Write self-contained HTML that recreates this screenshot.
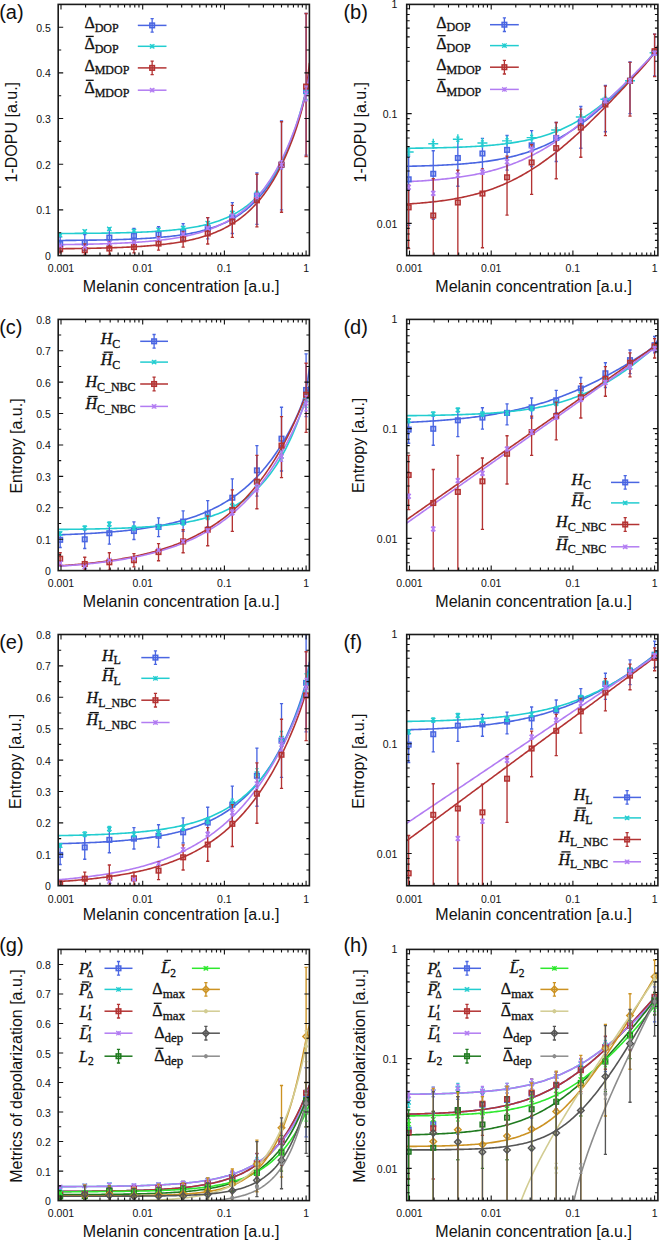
<!DOCTYPE html>
<html><head><meta charset="utf-8"><style>
html,body{margin:0;padding:0;background:#fff;}
svg{display:block;}
.tl{font-family:"Liberation Sans",sans-serif;font-size:10.5px;fill:#111;}
.at{font-family:"Liberation Sans",sans-serif;font-size:16px;fill:#111;}
.pl{font-family:"Liberation Sans",sans-serif;font-size:20px;fill:#111;}

.lg{font-family:"Liberation Serif",serif;font-size:16px;fill:#111;stroke:#111;stroke-width:0.35px;}
.sb{font-family:"Liberation Serif",serif;font-size:12px;fill:#111;stroke:#111;stroke-width:0.3px;}
.sr{font-family:"Liberation Serif",serif;font-size:12px;fill:#111;stroke:#111;stroke-width:0.3px;}
.it{font-style:italic;}
</style></head><body>
<svg width="661" height="1240" viewBox="0 0 661 1240">
<rect width="661" height="1240" fill="#fff"/>
<clipPath id="clipL0"><rect x="58.20" y="4.40" width="251.20" height="251.20"/></clipPath>
<text x="61.00" y="272.40" class="tl" text-anchor="middle">0.001</text>
<text x="142.70" y="272.40" class="tl" text-anchor="middle">0.01</text>
<text x="224.40" y="272.40" class="tl" text-anchor="middle">0.1</text>
<text x="306.10" y="272.40" class="tl" text-anchor="middle">1</text>
<text x="50.80" y="260.10" class="tl" text-anchor="end">0</text>
<text x="50.80" y="214.42" class="tl" text-anchor="end">0.1</text>
<text x="50.80" y="168.74" class="tl" text-anchor="end">0.2</text>
<text x="50.80" y="123.06" class="tl" text-anchor="end">0.3</text>
<text x="50.80" y="77.38" class="tl" text-anchor="end">0.4</text>
<text x="50.80" y="31.70" class="tl" text-anchor="end">0.5</text>
<text x="181.10" y="291.80" class="at" text-anchor="middle">Melanin concentration [a.u.]</text>
<text transform="translate(16.80,132.20) rotate(-90)" class="at ay" text-anchor="middle">1-DOPU [a.u.]</text>
<text x="-0.80" y="18.50" class="pl">(a)</text>
<g clip-path="url(#clipL0)">
<path d="M58.20 240.47 L59.77 240.46 L61.34 240.45 L62.91 240.44 L64.48 240.43 L66.05 240.42 L67.62 240.40 L69.19 240.39 L70.76 240.38 L72.33 240.37 L73.90 240.35 L75.47 240.34 L77.04 240.32 L78.61 240.30 L80.18 240.29 L81.75 240.27 L83.32 240.25 L84.89 240.23 L86.46 240.21 L88.03 240.19 L89.60 240.17 L91.17 240.15 L92.74 240.13 L94.31 240.10 L95.88 240.08 L97.45 240.05 L99.02 240.02 L100.59 239.99 L102.16 239.97 L103.73 239.93 L105.30 239.90 L106.87 239.87 L108.44 239.83 L110.01 239.80 L111.58 239.76 L113.15 239.72 L114.72 239.68 L116.29 239.64 L117.86 239.59 L119.43 239.55 L121.00 239.50 L122.57 239.45 L124.14 239.39 L125.71 239.34 L127.28 239.28 L128.85 239.22 L130.42 239.16 L131.99 239.10 L133.56 239.03 L135.13 238.96 L136.70 238.89 L138.27 238.81 L139.84 238.73 L141.41 238.65 L142.98 238.57 L144.55 238.48 L146.12 238.39 L147.69 238.29 L149.26 238.19 L150.83 238.08 L152.40 237.97 L153.97 237.86 L155.54 237.74 L157.11 237.62 L158.68 237.49 L160.25 237.36 L161.82 237.22 L163.39 237.07 L164.96 236.92 L166.53 236.76 L168.10 236.60 L169.67 236.43 L171.24 236.25 L172.81 236.07 L174.38 235.87 L175.95 235.67 L177.52 235.46 L179.09 235.25 L180.66 235.02 L182.23 234.78 L183.80 234.54 L185.37 234.28 L186.94 234.01 L188.51 233.74 L190.08 233.45 L191.65 233.14 L193.22 232.83 L194.79 232.50 L196.36 232.16 L197.93 231.81 L199.50 231.44 L201.07 231.05 L202.64 230.65 L204.21 230.23 L205.78 229.80 L207.35 229.34 L208.92 228.87 L210.49 228.38 L212.06 227.87 L213.63 227.33 L215.20 226.78 L216.77 226.20 L218.34 225.60 L219.91 224.97 L221.48 224.31 L223.05 223.63 L224.62 222.92 L226.19 222.18 L227.76 221.41 L229.33 220.61 L230.90 219.78 L232.47 218.91 L234.04 218.00 L235.61 217.06 L237.18 216.08 L238.75 215.05 L240.32 213.99 L241.89 212.88 L243.46 211.72 L245.03 210.52 L246.60 209.26 L248.17 207.96 L249.74 206.59 L251.31 205.18 L252.88 203.70 L254.45 202.16 L256.02 200.56 L257.59 198.89 L259.16 197.16 L260.73 195.35 L262.30 193.46 L263.87 191.50 L265.44 189.46 L267.01 187.33 L268.58 185.11 L270.15 182.80 L271.72 180.39 L273.29 177.89 L274.86 175.28 L276.43 172.56 L278.00 169.72 L279.57 166.78 L281.14 163.70 L282.71 160.50 L284.28 157.17 L285.85 153.70 L287.42 150.08 L288.99 146.31 L290.56 142.39 L292.13 138.30 L293.70 134.03 L295.27 129.57 L296.84 124.92 L298.41 120.04 L299.98 114.91 L301.55 109.50 L303.12 103.72 L304.69 97.48 L306.26 90.60 L307.83 82.77 L309.40 73.51" stroke="#4a66e2" stroke-width="1.6" fill="none"/>
<path d="M58.20 233.52 L59.77 233.51 L61.34 233.50 L62.91 233.50 L64.48 233.49 L66.05 233.48 L67.62 233.47 L69.19 233.46 L70.76 233.45 L72.33 233.44 L73.90 233.43 L75.47 233.42 L77.04 233.41 L78.61 233.40 L80.18 233.39 L81.75 233.38 L83.32 233.36 L84.89 233.35 L86.46 233.34 L88.03 233.32 L89.60 233.31 L91.17 233.29 L92.74 233.27 L94.31 233.25 L95.88 233.24 L97.45 233.22 L99.02 233.20 L100.59 233.18 L102.16 233.15 L103.73 233.13 L105.30 233.11 L106.87 233.08 L108.44 233.06 L110.01 233.03 L111.58 233.00 L113.15 232.97 L114.72 232.94 L116.29 232.91 L117.86 232.87 L119.43 232.84 L121.00 232.80 L122.57 232.76 L124.14 232.72 L125.71 232.68 L127.28 232.64 L128.85 232.59 L130.42 232.54 L131.99 232.49 L133.56 232.44 L135.13 232.39 L136.70 232.33 L138.27 232.27 L139.84 232.21 L141.41 232.14 L142.98 232.07 L144.55 232.00 L146.12 231.93 L147.69 231.85 L149.26 231.77 L150.83 231.69 L152.40 231.60 L153.97 231.51 L155.54 231.41 L157.11 231.32 L158.68 231.21 L160.25 231.10 L161.82 230.99 L163.39 230.87 L164.96 230.75 L166.53 230.62 L168.10 230.48 L169.67 230.34 L171.24 230.19 L172.81 230.04 L174.38 229.88 L175.95 229.71 L177.52 229.54 L179.09 229.36 L180.66 229.17 L182.23 228.97 L183.80 228.76 L185.37 228.54 L186.94 228.32 L188.51 228.08 L190.08 227.83 L191.65 227.57 L193.22 227.31 L194.79 227.02 L196.36 226.73 L197.93 226.42 L199.50 226.10 L201.07 225.77 L202.64 225.42 L204.21 225.06 L205.78 224.68 L207.35 224.28 L208.92 223.87 L210.49 223.43 L212.06 222.98 L213.63 222.51 L215.20 222.02 L216.77 221.50 L218.34 220.97 L219.91 220.40 L221.48 219.82 L223.05 219.21 L224.62 218.57 L226.19 217.90 L227.76 217.21 L229.33 216.48 L230.90 215.72 L232.47 214.93 L234.04 214.10 L235.61 213.24 L237.18 212.34 L238.75 211.39 L240.32 210.41 L241.89 209.38 L243.46 208.31 L245.03 207.19 L246.60 206.02 L248.17 204.80 L249.74 203.53 L251.31 202.20 L252.88 200.81 L254.45 199.36 L256.02 197.85 L257.59 196.26 L259.16 194.61 L260.73 192.89 L262.30 191.09 L263.87 189.21 L265.44 187.25 L267.01 185.20 L268.58 183.06 L270.15 180.83 L271.72 178.49 L273.29 176.06 L274.86 173.52 L276.43 170.86 L278.00 168.09 L279.57 165.19 L281.14 162.17 L282.71 159.02 L284.28 155.72 L285.85 152.28 L287.42 148.69 L288.99 144.93 L290.56 141.01 L292.13 136.91 L293.70 132.63 L295.27 128.15 L296.84 123.45 L298.41 118.52 L299.98 113.33 L301.55 107.83 L303.12 101.96 L304.69 95.60 L306.26 88.57 L307.83 80.58 L309.40 71.14" stroke="#22cdd0" stroke-width="1.6" fill="none"/>
<path d="M58.20 248.75 L59.77 248.74 L61.34 248.72 L62.91 248.71 L64.48 248.69 L66.05 248.67 L67.62 248.66 L69.19 248.64 L70.76 248.62 L72.33 248.60 L73.90 248.58 L75.47 248.56 L77.04 248.54 L78.61 248.52 L80.18 248.49 L81.75 248.47 L83.32 248.44 L84.89 248.42 L86.46 248.39 L88.03 248.36 L89.60 248.33 L91.17 248.30 L92.74 248.27 L94.31 248.24 L95.88 248.20 L97.45 248.17 L99.02 248.13 L100.59 248.09 L102.16 248.05 L103.73 248.01 L105.30 247.97 L106.87 247.92 L108.44 247.88 L110.01 247.83 L111.58 247.78 L113.15 247.73 L114.72 247.67 L116.29 247.62 L117.86 247.56 L119.43 247.50 L121.00 247.43 L122.57 247.37 L124.14 247.30 L125.71 247.23 L127.28 247.16 L128.85 247.08 L130.42 247.00 L131.99 246.92 L133.56 246.83 L135.13 246.74 L136.70 246.65 L138.27 246.56 L139.84 246.46 L141.41 246.35 L142.98 246.24 L144.55 246.13 L146.12 246.02 L147.69 245.90 L149.26 245.77 L150.83 245.64 L152.40 245.50 L153.97 245.36 L155.54 245.22 L157.11 245.06 L158.68 244.91 L160.25 244.74 L161.82 244.57 L163.39 244.39 L164.96 244.21 L166.53 244.02 L168.10 243.82 L169.67 243.61 L171.24 243.40 L172.81 243.18 L174.38 242.94 L175.95 242.70 L177.52 242.45 L179.09 242.19 L180.66 241.92 L182.23 241.64 L183.80 241.35 L185.37 241.05 L186.94 240.74 L188.51 240.41 L190.08 240.07 L191.65 239.72 L193.22 239.35 L194.79 238.97 L196.36 238.57 L197.93 238.16 L199.50 237.73 L201.07 237.29 L202.64 236.83 L204.21 236.35 L205.78 235.85 L207.35 235.33 L208.92 234.80 L210.49 234.24 L212.06 233.66 L213.63 233.05 L215.20 232.43 L216.77 231.78 L218.34 231.10 L219.91 230.40 L221.48 229.67 L223.05 228.91 L224.62 228.12 L226.19 227.30 L227.76 226.45 L229.33 225.56 L230.90 224.65 L232.47 223.69 L234.04 222.70 L235.61 221.67 L237.18 220.60 L238.75 219.49 L240.32 218.33 L241.89 217.13 L243.46 215.88 L245.03 214.58 L246.60 213.24 L248.17 211.84 L249.74 210.38 L251.31 208.87 L252.88 207.30 L254.45 205.67 L256.02 203.97 L257.59 202.21 L259.16 200.38 L260.73 198.48 L262.30 196.51 L263.87 194.45 L265.44 192.32 L267.01 190.11 L268.58 187.80 L270.15 185.41 L271.72 182.93 L273.29 180.34 L274.86 177.66 L276.43 174.87 L278.00 171.98 L279.57 168.97 L281.14 165.84 L282.71 162.59 L284.28 159.21 L285.85 155.70 L287.42 152.05 L288.99 148.26 L290.56 144.31 L292.13 140.20 L293.70 135.91 L295.27 131.42 L296.84 126.72 L298.41 121.75 L299.98 116.45 L301.55 110.72 L303.12 104.37 L304.69 97.12 L306.26 88.45 L307.83 77.52 L309.40 62.91" stroke="#b33333" stroke-width="1.6" fill="none"/>
<path d="M58.20 244.65 L59.77 244.63 L61.34 244.61 L62.91 244.59 L64.48 244.58 L66.05 244.56 L67.62 244.54 L69.19 244.51 L70.76 244.49 L72.33 244.47 L73.90 244.45 L75.47 244.42 L77.04 244.40 L78.61 244.37 L80.18 244.34 L81.75 244.32 L83.32 244.29 L84.89 244.26 L86.46 244.23 L88.03 244.19 L89.60 244.16 L91.17 244.12 L92.74 244.09 L94.31 244.05 L95.88 244.01 L97.45 243.97 L99.02 243.93 L100.59 243.88 L102.16 243.84 L103.73 243.79 L105.30 243.74 L106.87 243.69 L108.44 243.64 L110.01 243.58 L111.58 243.53 L113.15 243.47 L114.72 243.41 L116.29 243.34 L117.86 243.28 L119.43 243.21 L121.00 243.14 L122.57 243.06 L124.14 242.99 L125.71 242.91 L127.28 242.83 L128.85 242.74 L130.42 242.65 L131.99 242.56 L133.56 242.47 L135.13 242.37 L136.70 242.26 L138.27 242.16 L139.84 242.05 L141.41 241.93 L142.98 241.81 L144.55 241.69 L146.12 241.56 L147.69 241.43 L149.26 241.29 L150.83 241.15 L152.40 241.00 L153.97 240.85 L155.54 240.69 L157.11 240.52 L158.68 240.35 L160.25 240.17 L161.82 239.99 L163.39 239.80 L164.96 239.60 L166.53 239.39 L168.10 239.18 L169.67 238.95 L171.24 238.72 L172.81 238.48 L174.38 238.23 L175.95 237.98 L177.52 237.71 L179.09 237.43 L180.66 237.14 L182.23 236.84 L183.80 236.53 L185.37 236.21 L186.94 235.88 L188.51 235.53 L190.08 235.17 L191.65 234.80 L193.22 234.41 L194.79 234.01 L196.36 233.60 L197.93 233.16 L199.50 232.71 L201.07 232.25 L202.64 231.77 L204.21 231.27 L205.78 230.75 L207.35 230.21 L208.92 229.65 L210.49 229.07 L212.06 228.46 L213.63 227.84 L215.20 227.19 L216.77 226.52 L218.34 225.82 L219.91 225.09 L221.48 224.34 L223.05 223.56 L224.62 222.75 L226.19 221.91 L227.76 221.04 L229.33 220.14 L230.90 219.20 L232.47 218.23 L234.04 217.22 L235.61 216.17 L237.18 215.08 L238.75 213.95 L240.32 212.78 L241.89 211.57 L243.46 210.31 L245.03 209.00 L246.60 207.64 L248.17 206.23 L249.74 204.77 L251.31 203.26 L252.88 201.68 L254.45 200.05 L256.02 198.36 L257.59 196.60 L259.16 194.78 L260.73 192.89 L262.30 190.92 L263.87 188.89 L265.44 186.78 L267.01 184.58 L268.58 182.31 L270.15 179.95 L271.72 177.50 L273.29 174.96 L274.86 172.32 L276.43 169.59 L278.00 166.75 L279.57 163.80 L281.14 160.75 L282.71 157.57 L284.28 154.28 L285.85 150.87 L287.42 147.33 L288.99 143.65 L290.56 139.83 L292.13 135.86 L293.70 131.75 L295.27 127.46 L296.84 123.00 L298.41 118.34 L299.98 113.47 L301.55 108.33 L303.12 102.86 L304.69 96.96 L306.26 90.45 L307.83 83.04 L309.40 74.23" stroke="#b27cf2" stroke-width="1.6" fill="none"/>
<path d="M60.16 251.21V236.87M58.56 251.21h3.20M58.56 236.87h3.20" stroke="#4a66e2" stroke-width="1.35"/>
<path d="M84.75 250.62V234.63M83.15 250.62h3.20M83.15 234.63h3.20" stroke="#4a66e2" stroke-width="1.35"/>
<path d="M109.35 245.64V229.11M107.75 245.64h3.20M107.75 229.11h3.20" stroke="#4a66e2" stroke-width="1.35"/>
<path d="M133.94 242.81V228.42M132.34 242.81h3.20M132.34 228.42h3.20" stroke="#4a66e2" stroke-width="1.35"/>
<path d="M158.54 241.62V226.73M156.94 241.62h3.20M156.94 226.73h3.20" stroke="#4a66e2" stroke-width="1.35"/>
<path d="M183.13 240.53V223.62M181.53 240.53h3.20M181.53 223.62h3.20" stroke="#4a66e2" stroke-width="1.35"/>
<path d="M207.72 238.88V217.69M206.12 238.88h3.20M206.12 217.69h3.20" stroke="#4a66e2" stroke-width="1.35"/>
<path d="M232.32 233.49V202.61M230.72 233.49h3.20M230.72 202.61h3.20" stroke="#4a66e2" stroke-width="1.35"/>
<path d="M256.91 224.40V172.92M255.31 224.40h3.20M255.31 172.92h3.20" stroke="#4a66e2" stroke-width="1.35"/>
<path d="M281.51 209.92V120.84M279.91 209.92h3.20M279.91 120.84h3.20" stroke="#4a66e2" stroke-width="1.35"/>
<path d="M306.10 155.10V13.50M304.50 155.10h3.20M304.50 13.50h3.20" stroke="#4a66e2" stroke-width="1.35"/>
<rect x="57.86" y="241.79" width="4.60" height="4.60" fill="#4a66e2" fill-opacity="0.3" stroke="#4a66e2" stroke-width="1.5"/>
<rect x="82.45" y="240.37" width="4.60" height="4.60" fill="#4a66e2" fill-opacity="0.3" stroke="#4a66e2" stroke-width="1.5"/>
<rect x="107.05" y="235.30" width="4.60" height="4.60" fill="#4a66e2" fill-opacity="0.3" stroke="#4a66e2" stroke-width="1.5"/>
<rect x="131.64" y="233.52" width="4.60" height="4.60" fill="#4a66e2" fill-opacity="0.3" stroke="#4a66e2" stroke-width="1.5"/>
<rect x="156.24" y="231.97" width="4.60" height="4.60" fill="#4a66e2" fill-opacity="0.3" stroke="#4a66e2" stroke-width="1.5"/>
<rect x="180.83" y="229.82" width="4.60" height="4.60" fill="#4a66e2" fill-opacity="0.3" stroke="#4a66e2" stroke-width="1.5"/>
<rect x="205.42" y="225.89" width="4.60" height="4.60" fill="#4a66e2" fill-opacity="0.3" stroke="#4a66e2" stroke-width="1.5"/>
<rect x="230.02" y="215.07" width="4.60" height="4.60" fill="#4a66e2" fill-opacity="0.3" stroke="#4a66e2" stroke-width="1.5"/>
<rect x="254.61" y="193.46" width="4.60" height="4.60" fill="#4a66e2" fill-opacity="0.3" stroke="#4a66e2" stroke-width="1.5"/>
<rect x="279.21" y="162.40" width="4.60" height="4.60" fill="#4a66e2" fill-opacity="0.3" stroke="#4a66e2" stroke-width="1.5"/>
<rect x="303.80" y="88.85" width="4.60" height="4.60" fill="#4a66e2" fill-opacity="0.3" stroke="#4a66e2" stroke-width="1.5"/>
<path d="M60.16 236.10V234.26M58.56 236.10h3.20M58.56 234.26h3.20" stroke="#22cdd0" stroke-width="1.35"/>
<path d="M84.75 232.39V230.20M83.15 232.39h3.20M83.15 230.20h3.20" stroke="#22cdd0" stroke-width="1.35"/>
<path d="M109.35 230.12V227.72M107.75 230.12h3.20M107.75 227.72h3.20" stroke="#22cdd0" stroke-width="1.35"/>
<path d="M133.94 232.04V229.82M132.34 232.04h3.20M132.34 229.82h3.20" stroke="#22cdd0" stroke-width="1.35"/>
<path d="M158.54 230.95V228.63M156.94 230.95h3.20M156.94 228.63h3.20" stroke="#22cdd0" stroke-width="1.35"/>
<path d="M183.13 229.25V226.77M181.53 229.25h3.20M181.53 226.77h3.20" stroke="#22cdd0" stroke-width="1.35"/>
<path d="M207.72 224.63V221.71M206.12 224.63h3.20M206.12 221.71h3.20" stroke="#22cdd0" stroke-width="1.35"/>
<path d="M232.32 215.03V211.21M230.72 215.03h3.20M230.72 211.21h3.20" stroke="#22cdd0" stroke-width="1.35"/>
<path d="M256.91 196.71V191.16M255.31 196.71h3.20M255.31 191.16h3.20" stroke="#22cdd0" stroke-width="1.35"/>
<path d="M281.51 168.79V160.61M279.91 168.79h3.20M279.91 160.61h3.20" stroke="#22cdd0" stroke-width="1.35"/>
<path d="M306.10 99.42V84.71M304.50 99.42h3.20M304.50 84.71h3.20" stroke="#22cdd0" stroke-width="1.35"/>
<path d="M57.96 232.98L62.36 237.38M57.96 237.38L62.36 232.98" stroke="#22cdd0" stroke-width="1.3"/>
<path d="M82.55 229.10L86.95 233.50M82.55 233.50L86.95 229.10" stroke="#22cdd0" stroke-width="1.3"/>
<path d="M107.15 226.72L111.55 231.12M107.15 231.12L111.55 226.72" stroke="#22cdd0" stroke-width="1.3"/>
<path d="M131.74 228.73L136.14 233.13M131.74 233.13L136.14 228.73" stroke="#22cdd0" stroke-width="1.3"/>
<path d="M156.34 227.59L160.74 231.99M156.34 231.99L160.74 227.59" stroke="#22cdd0" stroke-width="1.3"/>
<path d="M180.93 225.81L185.33 230.21M180.93 230.21L185.33 225.81" stroke="#22cdd0" stroke-width="1.3"/>
<path d="M205.52 220.97L209.92 225.37M205.52 225.37L209.92 220.97" stroke="#22cdd0" stroke-width="1.3"/>
<path d="M230.12 210.92L234.52 215.32M230.12 215.32L234.52 210.92" stroke="#22cdd0" stroke-width="1.3"/>
<path d="M254.71 191.73L259.11 196.13M254.71 196.13L259.11 191.73" stroke="#22cdd0" stroke-width="1.3"/>
<path d="M279.31 162.50L283.71 166.90M279.31 166.90L283.71 162.50" stroke="#22cdd0" stroke-width="1.3"/>
<path d="M303.90 89.87L308.30 94.27M303.90 94.27L308.30 89.87" stroke="#22cdd0" stroke-width="1.3"/>
<path d="M60.16 252.90V245.41M58.56 252.90h3.20M58.56 245.41h3.20" stroke="#b33333" stroke-width="1.35"/>
<path d="M84.75 255.14V243.91M83.15 255.14h3.20M83.15 243.91h3.20" stroke="#b33333" stroke-width="1.35"/>
<path d="M109.35 255.14V241.67M107.75 255.14h3.20M107.75 241.67h3.20" stroke="#b33333" stroke-width="1.35"/>
<path d="M133.94 252.86V241.26M132.34 252.86h3.20M132.34 241.26h3.20" stroke="#b33333" stroke-width="1.35"/>
<path d="M158.54 250.16V236.87M156.94 250.16h3.20M156.94 236.87h3.20" stroke="#b33333" stroke-width="1.35"/>
<path d="M183.13 247.19V231.85M181.53 247.19h3.20M181.53 231.85h3.20" stroke="#b33333" stroke-width="1.35"/>
<path d="M207.72 243.95V217.69M206.12 243.95h3.20M206.12 217.69h3.20" stroke="#b33333" stroke-width="1.35"/>
<path d="M232.32 237.33V205.35M230.72 237.33h3.20M230.72 205.35h3.20" stroke="#b33333" stroke-width="1.35"/>
<path d="M256.91 226.82V174.29M255.31 226.82h3.20M255.31 174.29h3.20" stroke="#b33333" stroke-width="1.35"/>
<path d="M281.51 212.20V121.76M279.91 212.20h3.20M279.91 121.76h3.20" stroke="#b33333" stroke-width="1.35"/>
<path d="M306.10 156.47V13.50M304.50 156.47h3.20M304.50 13.50h3.20" stroke="#b33333" stroke-width="1.35"/>
<rect x="57.86" y="246.90" width="4.60" height="4.60" fill="#b33333" fill-opacity="0.3" stroke="#b33333" stroke-width="1.5"/>
<rect x="82.45" y="247.91" width="4.60" height="4.60" fill="#b33333" fill-opacity="0.3" stroke="#b33333" stroke-width="1.5"/>
<rect x="107.05" y="246.22" width="4.60" height="4.60" fill="#b33333" fill-opacity="0.3" stroke="#b33333" stroke-width="1.5"/>
<rect x="131.64" y="244.76" width="4.60" height="4.60" fill="#b33333" fill-opacity="0.3" stroke="#b33333" stroke-width="1.5"/>
<rect x="156.24" y="241.29" width="4.60" height="4.60" fill="#b33333" fill-opacity="0.3" stroke="#b33333" stroke-width="1.5"/>
<rect x="180.83" y="236.90" width="4.60" height="4.60" fill="#b33333" fill-opacity="0.3" stroke="#b33333" stroke-width="1.5"/>
<rect x="205.42" y="231.15" width="4.60" height="4.60" fill="#b33333" fill-opacity="0.3" stroke="#b33333" stroke-width="1.5"/>
<rect x="230.02" y="219.22" width="4.60" height="4.60" fill="#b33333" fill-opacity="0.3" stroke="#b33333" stroke-width="1.5"/>
<rect x="254.61" y="198.03" width="4.60" height="4.60" fill="#b33333" fill-opacity="0.3" stroke="#b33333" stroke-width="1.5"/>
<rect x="279.21" y="162.40" width="4.60" height="4.60" fill="#b33333" fill-opacity="0.3" stroke="#b33333" stroke-width="1.5"/>
<rect x="303.80" y="84.28" width="4.60" height="4.60" fill="#b33333" fill-opacity="0.3" stroke="#b33333" stroke-width="1.5"/>
<path d="M60.16 246.31V245.43M58.56 246.31h3.20M58.56 245.43h3.20" stroke="#b27cf2" stroke-width="1.35"/>
<path d="M84.75 247.40V246.63M83.15 247.40h3.20M83.15 246.63h3.20" stroke="#b27cf2" stroke-width="1.35"/>
<path d="M109.35 243.60V242.47M107.75 243.60h3.20M107.75 242.47h3.20" stroke="#b27cf2" stroke-width="1.35"/>
<path d="M133.94 242.82V241.61M132.34 242.82h3.20M132.34 241.61h3.20" stroke="#b27cf2" stroke-width="1.35"/>
<path d="M158.54 239.68V238.18M156.94 239.68h3.20M156.94 238.18h3.20" stroke="#b27cf2" stroke-width="1.35"/>
<path d="M183.13 235.10V233.16M181.53 235.10h3.20M181.53 233.16h3.20" stroke="#b27cf2" stroke-width="1.35"/>
<path d="M207.72 229.43V226.96M206.12 229.43h3.20M206.12 226.96h3.20" stroke="#b27cf2" stroke-width="1.35"/>
<path d="M232.32 217.65V214.07M230.72 217.65h3.20M230.72 214.07h3.20" stroke="#b27cf2" stroke-width="1.35"/>
<path d="M256.91 198.45V193.07M255.31 198.45h3.20M255.31 193.07h3.20" stroke="#b27cf2" stroke-width="1.35"/>
<path d="M281.51 168.79V160.61M279.91 168.79h3.20M279.91 160.61h3.20" stroke="#b27cf2" stroke-width="1.35"/>
<path d="M306.10 100.73V86.14M304.50 100.73h3.20M304.50 86.14h3.20" stroke="#b27cf2" stroke-width="1.35"/>
<path d="M57.96 243.67L62.36 248.07M57.96 248.07L62.36 243.67" stroke="#b27cf2" stroke-width="1.3"/>
<path d="M82.55 244.81L86.95 249.21M82.55 249.21L86.95 244.81" stroke="#b27cf2" stroke-width="1.3"/>
<path d="M107.15 240.84L111.55 245.24M107.15 245.24L111.55 240.84" stroke="#b27cf2" stroke-width="1.3"/>
<path d="M131.74 240.02L136.14 244.42M131.74 244.42L136.14 240.02" stroke="#b27cf2" stroke-width="1.3"/>
<path d="M156.34 236.73L160.74 241.13M156.34 241.13L160.74 236.73" stroke="#b27cf2" stroke-width="1.3"/>
<path d="M180.93 231.93L185.33 236.33M180.93 236.33L185.33 231.93" stroke="#b27cf2" stroke-width="1.3"/>
<path d="M205.52 225.99L209.92 230.39M205.52 230.39L209.92 225.99" stroke="#b27cf2" stroke-width="1.3"/>
<path d="M230.12 213.66L234.52 218.06M230.12 218.06L234.52 213.66" stroke="#b27cf2" stroke-width="1.3"/>
<path d="M254.71 193.56L259.11 197.96M254.71 197.96L259.11 193.56" stroke="#b27cf2" stroke-width="1.3"/>
<path d="M279.31 162.50L283.71 166.90M279.31 166.90L283.71 162.50" stroke="#b27cf2" stroke-width="1.3"/>
<path d="M303.90 91.24L308.30 95.64M303.90 95.64L308.30 91.24" stroke="#b27cf2" stroke-width="1.3"/>
</g>
<rect x="58.20" y="4.40" width="251.20" height="251.20" fill="none" stroke="#1a1a1a" stroke-width="1.6"/>
<path d="M61.00 255.60v-5M61.00 4.40v5M85.59 255.60v-3M85.59 4.40v3M99.98 255.60v-3M99.98 4.40v3M110.19 255.60v-3M110.19 4.40v3M118.11 255.60v-3M118.11 4.40v3M124.57 255.60v-3M124.57 4.40v3M130.04 255.60v-3M130.04 4.40v3M134.78 255.60v-3M134.78 4.40v3M138.96 255.60v-3M138.96 4.40v3M142.70 255.60v-5M142.70 4.40v5M167.29 255.60v-3M167.29 4.40v3M181.68 255.60v-3M181.68 4.40v3M191.89 255.60v-3M191.89 4.40v3M199.81 255.60v-3M199.81 4.40v3M206.27 255.60v-3M206.27 4.40v3M211.74 255.60v-3M211.74 4.40v3M216.48 255.60v-3M216.48 4.40v3M220.66 255.60v-3M220.66 4.40v3M224.40 255.60v-5M224.40 4.40v5M248.99 255.60v-3M248.99 4.40v3M263.38 255.60v-3M263.38 4.40v3M273.59 255.60v-3M273.59 4.40v3M281.51 255.60v-3M281.51 4.40v3M287.97 255.60v-3M287.97 4.40v3M293.44 255.60v-3M293.44 4.40v3M298.18 255.60v-3M298.18 4.40v3M302.36 255.60v-3M302.36 4.40v3M306.10 255.60v-5M306.10 4.40v5M58.20 232.76h3M309.40 232.76h-3M58.20 209.92h5M309.40 209.92h-5M58.20 187.08h3M309.40 187.08h-3M58.20 164.24h5M309.40 164.24h-5M58.20 141.40h3M309.40 141.40h-3M58.20 118.56h5M309.40 118.56h-5M58.20 95.72h3M309.40 95.72h-3M58.20 72.88h5M309.40 72.88h-5M58.20 50.04h3M309.40 50.04h-3M58.20 27.20h5M309.40 27.20h-5" stroke="#111" stroke-width="1.1" fill="none"/>
<clipPath id="clipR0"><rect x="406.70" y="4.40" width="251.20" height="251.20"/></clipPath>
<text x="409.50" y="272.40" class="tl" text-anchor="middle">0.001</text>
<text x="491.20" y="272.40" class="tl" text-anchor="middle">0.01</text>
<text x="572.90" y="272.40" class="tl" text-anchor="middle">0.1</text>
<text x="654.60" y="272.40" class="tl" text-anchor="middle">1</text>
<text x="397.30" y="227.90" class="tl" text-anchor="end">0.01</text>
<text x="397.30" y="118.10" class="tl" text-anchor="end">0.1</text>
<text x="397.30" y="8.30" class="tl" text-anchor="end">1</text>
<text x="533.60" y="291.80" class="at" text-anchor="middle">Melanin concentration [a.u.]</text>
<text transform="translate(365.80,132.20) rotate(-90)" class="at ay" text-anchor="middle">1-DOPU [a.u.]</text>
<text x="343.40" y="18.50" class="pl">(b)</text>
<g clip-path="url(#clipR0)">
<path d="M406.70 166.29 L408.27 166.26 L409.84 166.23 L411.41 166.20 L412.98 166.16 L414.55 166.12 L416.12 166.09 L417.69 166.05 L419.26 166.01 L420.83 165.96 L422.40 165.92 L423.97 165.87 L425.54 165.82 L427.11 165.77 L428.68 165.72 L430.25 165.67 L431.82 165.61 L433.39 165.55 L434.96 165.49 L436.53 165.43 L438.10 165.36 L439.67 165.29 L441.24 165.22 L442.81 165.15 L444.38 165.07 L445.95 164.99 L447.52 164.90 L449.09 164.82 L450.66 164.73 L452.23 164.63 L453.80 164.53 L455.37 164.43 L456.94 164.33 L458.51 164.22 L460.08 164.10 L461.65 163.99 L463.22 163.86 L464.79 163.73 L466.36 163.60 L467.93 163.46 L469.50 163.32 L471.07 163.17 L472.64 163.02 L474.21 162.86 L475.78 162.69 L477.35 162.52 L478.92 162.34 L480.49 162.15 L482.06 161.96 L483.63 161.76 L485.20 161.55 L486.77 161.34 L488.34 161.11 L489.91 160.88 L491.48 160.64 L493.05 160.39 L494.62 160.14 L496.19 159.87 L497.76 159.59 L499.33 159.31 L500.90 159.01 L502.47 158.70 L504.04 158.39 L505.61 158.06 L507.18 157.72 L508.75 157.37 L510.32 157.01 L511.89 156.63 L513.46 156.25 L515.03 155.85 L516.60 155.43 L518.17 155.01 L519.74 154.57 L521.31 154.11 L522.88 153.64 L524.45 153.16 L526.02 152.66 L527.59 152.15 L529.16 151.62 L530.73 151.08 L532.30 150.51 L533.87 149.94 L535.44 149.34 L537.01 148.73 L538.58 148.11 L540.15 147.46 L541.72 146.80 L543.29 146.12 L544.86 145.42 L546.43 144.70 L548.00 143.97 L549.57 143.21 L551.14 142.44 L552.71 141.65 L554.28 140.84 L555.85 140.00 L557.42 139.15 L558.99 138.29 L560.56 137.40 L562.13 136.49 L563.70 135.56 L565.27 134.61 L566.84 133.64 L568.41 132.66 L569.98 131.65 L571.55 130.62 L573.12 129.57 L574.69 128.51 L576.26 127.42 L577.83 126.32 L579.40 125.19 L580.97 124.05 L582.54 122.89 L584.11 121.70 L585.68 120.50 L587.25 119.28 L588.82 118.05 L590.39 116.79 L591.96 115.52 L593.53 114.23 L595.10 112.92 L596.67 111.59 L598.24 110.25 L599.81 108.89 L601.38 107.51 L602.95 106.12 L604.52 104.71 L606.09 103.29 L607.66 101.85 L609.23 100.40 L610.80 98.93 L612.37 97.44 L613.94 95.95 L615.51 94.44 L617.08 92.91 L618.65 91.37 L620.22 89.82 L621.79 88.26 L623.36 86.69 L624.93 85.10 L626.50 83.50 L628.07 81.89 L629.64 80.27 L631.21 78.64 L632.78 76.99 L634.35 75.34 L635.92 73.68 L637.49 72.00 L639.06 70.32 L640.63 68.63 L642.20 66.92 L643.77 65.21 L645.34 63.48 L646.91 61.73 L648.48 59.96 L650.05 58.16 L651.62 56.31 L653.19 54.39 L654.76 52.36 L656.33 50.15 L657.90 47.66" stroke="#4a66e2" stroke-width="1.6" fill="none"/>
<path d="M406.70 148.26 L408.27 148.25 L409.84 148.23 L411.41 148.22 L412.98 148.20 L414.55 148.18 L416.12 148.16 L417.69 148.15 L419.26 148.13 L420.83 148.10 L422.40 148.08 L423.97 148.06 L425.54 148.04 L427.11 148.01 L428.68 147.99 L430.25 147.96 L431.82 147.93 L433.39 147.90 L434.96 147.87 L436.53 147.84 L438.10 147.81 L439.67 147.77 L441.24 147.73 L442.81 147.70 L444.38 147.66 L445.95 147.62 L447.52 147.57 L449.09 147.53 L450.66 147.48 L452.23 147.43 L453.80 147.38 L455.37 147.33 L456.94 147.27 L458.51 147.22 L460.08 147.16 L461.65 147.09 L463.22 147.03 L464.79 146.96 L466.36 146.89 L467.93 146.81 L469.50 146.74 L471.07 146.66 L472.64 146.57 L474.21 146.48 L475.78 146.39 L477.35 146.30 L478.92 146.20 L480.49 146.10 L482.06 145.99 L483.63 145.88 L485.20 145.76 L486.77 145.64 L488.34 145.51 L489.91 145.38 L491.48 145.24 L493.05 145.10 L494.62 144.95 L496.19 144.80 L497.76 144.64 L499.33 144.47 L500.90 144.29 L502.47 144.11 L504.04 143.92 L505.61 143.73 L507.18 143.52 L508.75 143.31 L510.32 143.09 L511.89 142.86 L513.46 142.62 L515.03 142.38 L516.60 142.12 L518.17 141.85 L519.74 141.58 L521.31 141.29 L522.88 140.99 L524.45 140.68 L526.02 140.36 L527.59 140.03 L529.16 139.68 L530.73 139.33 L532.30 138.96 L533.87 138.57 L535.44 138.17 L537.01 137.76 L538.58 137.34 L540.15 136.90 L541.72 136.44 L543.29 135.97 L544.86 135.48 L546.43 134.98 L548.00 134.46 L549.57 133.92 L551.14 133.37 L552.71 132.80 L554.28 132.21 L555.85 131.60 L557.42 130.97 L558.99 130.32 L560.56 129.66 L562.13 128.97 L563.70 128.27 L565.27 127.54 L566.84 126.80 L568.41 126.03 L569.98 125.25 L571.55 124.44 L573.12 123.61 L574.69 122.76 L576.26 121.89 L577.83 120.99 L579.40 120.08 L580.97 119.14 L582.54 118.18 L584.11 117.20 L585.68 116.19 L587.25 115.16 L588.82 114.11 L590.39 113.04 L591.96 111.95 L593.53 110.83 L595.10 109.70 L596.67 108.54 L598.24 107.36 L599.81 106.15 L601.38 104.93 L602.95 103.68 L604.52 102.42 L606.09 101.13 L607.66 99.82 L609.23 98.49 L610.80 97.14 L612.37 95.77 L613.94 94.38 L615.51 92.97 L617.08 91.55 L618.65 90.10 L620.22 88.64 L621.79 87.15 L623.36 85.65 L624.93 84.13 L626.50 82.60 L628.07 81.05 L629.64 79.48 L631.21 77.90 L632.78 76.30 L634.35 74.68 L635.92 73.05 L637.49 71.40 L639.06 69.74 L640.63 68.07 L642.20 66.38 L643.77 64.67 L645.34 62.95 L646.91 61.20 L648.48 59.43 L650.05 57.62 L651.62 55.76 L653.19 53.82 L654.76 51.78 L656.33 49.55 L657.90 47.04" stroke="#22cdd0" stroke-width="1.6" fill="none"/>
<path d="M406.70 204.08 L408.27 203.98 L409.84 203.88 L411.41 203.77 L412.98 203.66 L414.55 203.55 L416.12 203.43 L417.69 203.31 L419.26 203.18 L420.83 203.05 L422.40 202.92 L423.97 202.78 L425.54 202.63 L427.11 202.48 L428.68 202.32 L430.25 202.16 L431.82 201.99 L433.39 201.82 L434.96 201.64 L436.53 201.45 L438.10 201.26 L439.67 201.06 L441.24 200.85 L442.81 200.64 L444.38 200.42 L445.95 200.19 L447.52 199.95 L449.09 199.71 L450.66 199.46 L452.23 199.20 L453.80 198.93 L455.37 198.65 L456.94 198.36 L458.51 198.06 L460.08 197.76 L461.65 197.44 L463.22 197.12 L464.79 196.78 L466.36 196.43 L467.93 196.07 L469.50 195.70 L471.07 195.32 L472.64 194.93 L474.21 194.52 L475.78 194.11 L477.35 193.68 L478.92 193.24 L480.49 192.78 L482.06 192.31 L483.63 191.83 L485.20 191.34 L486.77 190.83 L488.34 190.30 L489.91 189.77 L491.48 189.21 L493.05 188.65 L494.62 188.06 L496.19 187.47 L497.76 186.85 L499.33 186.23 L500.90 185.58 L502.47 184.92 L504.04 184.24 L505.61 183.55 L507.18 182.84 L508.75 182.11 L510.32 181.37 L511.89 180.61 L513.46 179.83 L515.03 179.04 L516.60 178.23 L518.17 177.40 L519.74 176.55 L521.31 175.69 L522.88 174.81 L524.45 173.91 L526.02 172.99 L527.59 172.06 L529.16 171.11 L530.73 170.14 L532.30 169.16 L533.87 168.15 L535.44 167.13 L537.01 166.10 L538.58 165.04 L540.15 163.97 L541.72 162.88 L543.29 161.78 L544.86 160.66 L546.43 159.52 L548.00 158.36 L549.57 157.19 L551.14 156.01 L552.71 154.80 L554.28 153.59 L555.85 152.35 L557.42 151.10 L558.99 149.84 L560.56 148.56 L562.13 147.27 L563.70 145.96 L565.27 144.64 L566.84 143.31 L568.41 141.96 L569.98 140.60 L571.55 139.22 L573.12 137.83 L574.69 136.43 L576.26 135.02 L577.83 133.59 L579.40 132.16 L580.97 130.71 L582.54 129.25 L584.11 127.78 L585.68 126.30 L587.25 124.80 L588.82 123.30 L590.39 121.79 L591.96 120.27 L593.53 118.74 L595.10 117.19 L596.67 115.64 L598.24 114.09 L599.81 112.52 L601.38 110.94 L602.95 109.36 L604.52 107.77 L606.09 106.17 L607.66 104.56 L609.23 102.94 L610.80 101.32 L612.37 99.70 L613.94 98.06 L615.51 96.42 L617.08 94.77 L618.65 93.12 L620.22 91.46 L621.79 89.79 L623.36 88.12 L624.93 86.45 L626.50 84.77 L628.07 83.08 L629.64 81.39 L631.21 79.69 L632.78 77.99 L634.35 76.29 L635.92 74.58 L637.49 72.86 L639.06 71.14 L640.63 69.41 L642.20 67.67 L643.77 65.91 L645.34 64.14 L646.91 62.34 L648.48 60.48 L650.05 58.56 L651.62 56.51 L653.19 54.28 L654.76 51.74 L656.33 48.72 L657.90 44.96" stroke="#b33333" stroke-width="1.6" fill="none"/>
<path d="M406.70 181.70 L408.27 181.62 L409.84 181.55 L411.41 181.47 L412.98 181.39 L414.55 181.30 L416.12 181.22 L417.69 181.13 L419.26 181.03 L420.83 180.94 L422.40 180.83 L423.97 180.73 L425.54 180.62 L427.11 180.51 L428.68 180.40 L430.25 180.28 L431.82 180.15 L433.39 180.03 L434.96 179.89 L436.53 179.76 L438.10 179.62 L439.67 179.47 L441.24 179.32 L442.81 179.16 L444.38 179.00 L445.95 178.83 L447.52 178.66 L449.09 178.48 L450.66 178.30 L452.23 178.11 L453.80 177.91 L455.37 177.70 L456.94 177.49 L458.51 177.28 L460.08 177.05 L461.65 176.82 L463.22 176.58 L464.79 176.33 L466.36 176.08 L467.93 175.81 L469.50 175.54 L471.07 175.26 L472.64 174.97 L474.21 174.67 L475.78 174.37 L477.35 174.05 L478.92 173.72 L480.49 173.38 L482.06 173.04 L483.63 172.68 L485.20 172.31 L486.77 171.93 L488.34 171.54 L489.91 171.14 L491.48 170.73 L493.05 170.31 L494.62 169.87 L496.19 169.42 L497.76 168.96 L499.33 168.49 L500.90 168.00 L502.47 167.50 L504.04 166.99 L505.61 166.46 L507.18 165.92 L508.75 165.36 L510.32 164.80 L511.89 164.21 L513.46 163.62 L515.03 163.00 L516.60 162.38 L518.17 161.74 L519.74 161.08 L521.31 160.41 L522.88 159.72 L524.45 159.02 L526.02 158.30 L527.59 157.57 L529.16 156.82 L530.73 156.05 L532.30 155.27 L533.87 154.47 L535.44 153.66 L537.01 152.82 L538.58 151.98 L540.15 151.12 L541.72 150.24 L543.29 149.34 L544.86 148.43 L546.43 147.50 L548.00 146.56 L549.57 145.60 L551.14 144.62 L552.71 143.63 L554.28 142.62 L555.85 141.60 L557.42 140.56 L558.99 139.50 L560.56 138.43 L562.13 137.35 L563.70 136.25 L565.27 135.13 L566.84 134.00 L568.41 132.85 L569.98 131.69 L571.55 130.52 L573.12 129.33 L574.69 128.12 L576.26 126.90 L577.83 125.67 L579.40 124.43 L580.97 123.17 L582.54 121.90 L584.11 120.61 L585.68 119.32 L587.25 118.01 L588.82 116.68 L590.39 115.35 L591.96 114.00 L593.53 112.65 L595.10 111.28 L596.67 109.90 L598.24 108.51 L599.81 107.11 L601.38 105.69 L602.95 104.27 L604.52 102.84 L606.09 101.40 L607.66 99.95 L609.23 98.49 L610.80 97.02 L612.37 95.54 L613.94 94.05 L615.51 92.56 L617.08 91.05 L618.65 89.54 L620.22 88.02 L621.79 86.50 L623.36 84.96 L624.93 83.42 L626.50 81.87 L628.07 80.32 L629.64 78.76 L631.21 77.19 L632.78 75.61 L634.35 74.03 L635.92 72.45 L637.49 70.85 L639.06 69.25 L640.63 67.65 L642.20 66.04 L643.77 64.41 L645.34 62.78 L646.91 61.14 L648.48 59.47 L650.05 57.78 L651.62 56.04 L653.19 54.23 L654.76 52.32 L656.33 50.22 L657.90 47.85" stroke="#b27cf2" stroke-width="1.6" fill="none"/>
<path d="M408.66 225.35V156.12M407.06 225.35h3.20M407.06 156.12h3.20" stroke="#4a66e2" stroke-width="1.35"/>
<path d="M433.25 219.29V150.73M431.65 219.29h3.20M431.65 150.73h3.20" stroke="#4a66e2" stroke-width="1.35"/>
<path d="M457.85 186.24V139.58M456.25 186.24h3.20M456.25 139.58h3.20" stroke="#4a66e2" stroke-width="1.35"/>
<path d="M482.44 174.30V138.36M480.84 174.30h3.20M480.84 138.36h3.20" stroke="#4a66e2" stroke-width="1.35"/>
<path d="M507.04 170.07V135.48M505.44 170.07h3.20M505.44 135.48h3.20" stroke="#4a66e2" stroke-width="1.35"/>
<path d="M531.63 166.47V130.61M530.03 166.47h3.20M530.03 130.61h3.20" stroke="#4a66e2" stroke-width="1.35"/>
<path d="M556.22 161.53V122.49M554.62 161.53h3.20M554.62 122.49h3.20" stroke="#4a66e2" stroke-width="1.35"/>
<path d="M580.82 148.20V106.52M579.22 148.20h3.20M579.22 106.52h3.20" stroke="#4a66e2" stroke-width="1.35"/>
<path d="M605.41 131.78V85.31M603.81 131.78h3.20M603.81 85.31h3.20" stroke="#4a66e2" stroke-width="1.35"/>
<path d="M630.01 113.60V62.01M628.41 113.60h3.20M628.41 62.01h3.20" stroke="#4a66e2" stroke-width="1.35"/>
<path d="M654.60 76.00V34.07M653.00 76.00h3.20M653.00 34.07h3.20" stroke="#4a66e2" stroke-width="1.35"/>
<rect x="406.36" y="177.03" width="4.60" height="4.60" fill="#4a66e2" fill-opacity="0.3" stroke="#4a66e2" stroke-width="1.5"/>
<rect x="430.95" y="171.49" width="4.60" height="4.60" fill="#4a66e2" fill-opacity="0.3" stroke="#4a66e2" stroke-width="1.5"/>
<rect x="455.55" y="155.71" width="4.60" height="4.60" fill="#4a66e2" fill-opacity="0.3" stroke="#4a66e2" stroke-width="1.5"/>
<rect x="480.14" y="151.21" width="4.60" height="4.60" fill="#4a66e2" fill-opacity="0.3" stroke="#4a66e2" stroke-width="1.5"/>
<rect x="504.74" y="147.61" width="4.60" height="4.60" fill="#4a66e2" fill-opacity="0.3" stroke="#4a66e2" stroke-width="1.5"/>
<rect x="529.33" y="143.04" width="4.60" height="4.60" fill="#4a66e2" fill-opacity="0.3" stroke="#4a66e2" stroke-width="1.5"/>
<rect x="553.92" y="135.66" width="4.60" height="4.60" fill="#4a66e2" fill-opacity="0.3" stroke="#4a66e2" stroke-width="1.5"/>
<rect x="578.52" y="119.78" width="4.60" height="4.60" fill="#4a66e2" fill-opacity="0.3" stroke="#4a66e2" stroke-width="1.5"/>
<rect x="603.11" y="98.42" width="4.60" height="4.60" fill="#4a66e2" fill-opacity="0.3" stroke="#4a66e2" stroke-width="1.5"/>
<rect x="627.71" y="78.49" width="4.60" height="4.60" fill="#4a66e2" fill-opacity="0.3" stroke="#4a66e2" stroke-width="1.5"/>
<rect x="652.30" y="50.22" width="4.60" height="4.60" fill="#4a66e2" fill-opacity="0.3" stroke="#4a66e2" stroke-width="1.5"/>
<path d="M408.66 154.19V149.90M407.06 154.19h3.20M407.06 149.90h3.20" stroke="#22cdd0" stroke-width="1.35"/>
<path d="M433.25 145.89V141.60M431.65 145.89h3.20M431.65 141.60h3.20" stroke="#22cdd0" stroke-width="1.35"/>
<path d="M457.85 141.44V137.15M456.25 141.44h3.20M456.25 137.15h3.20" stroke="#22cdd0" stroke-width="1.35"/>
<path d="M482.44 145.18V140.88M480.84 145.18h3.20M480.84 140.88h3.20" stroke="#22cdd0" stroke-width="1.35"/>
<path d="M507.04 143.02V138.73M505.44 143.02h3.20M505.44 138.73h3.20" stroke="#22cdd0" stroke-width="1.35"/>
<path d="M531.63 139.84V135.54M530.03 139.84h3.20M530.03 135.54h3.20" stroke="#22cdd0" stroke-width="1.35"/>
<path d="M556.22 132.13V127.83M554.62 132.13h3.20M554.62 127.83h3.20" stroke="#22cdd0" stroke-width="1.35"/>
<path d="M580.82 119.26V114.96M579.22 119.26h3.20M579.22 114.96h3.20" stroke="#22cdd0" stroke-width="1.35"/>
<path d="M605.41 101.48V97.19M603.81 101.48h3.20M603.81 97.19h3.20" stroke="#22cdd0" stroke-width="1.35"/>
<path d="M630.01 82.98V78.69M628.41 82.98h3.20M628.41 78.69h3.20" stroke="#22cdd0" stroke-width="1.35"/>
<path d="M654.60 54.98V50.68M653.00 54.98h3.20M653.00 50.68h3.20" stroke="#22cdd0" stroke-width="1.35"/>
<path d="M403.66 152.00h10.00M408.66 147.00v10.00" stroke="#22cdd0" stroke-width="1.4"/>
<path d="M428.25 143.69h10.00M433.25 138.69v10.00" stroke="#22cdd0" stroke-width="1.4"/>
<path d="M452.85 139.25h10.00M457.85 134.25v10.00" stroke="#22cdd0" stroke-width="1.4"/>
<path d="M477.44 142.98h10.00M482.44 137.98v10.00" stroke="#22cdd0" stroke-width="1.4"/>
<path d="M502.04 140.83h10.00M507.04 135.83v10.00" stroke="#22cdd0" stroke-width="1.4"/>
<path d="M526.63 137.64h10.00M531.63 132.64v10.00" stroke="#22cdd0" stroke-width="1.4"/>
<path d="M551.22 129.93h10.00M556.22 124.93v10.00" stroke="#22cdd0" stroke-width="1.4"/>
<path d="M575.82 117.06h10.00M580.82 112.06v10.00" stroke="#22cdd0" stroke-width="1.4"/>
<path d="M600.41 99.29h10.00M605.41 94.29v10.00" stroke="#22cdd0" stroke-width="1.4"/>
<path d="M625.01 80.79h10.00M630.01 75.79v10.00" stroke="#22cdd0" stroke-width="1.4"/>
<path d="M649.60 52.78h10.00M654.60 47.78v10.00" stroke="#22cdd0" stroke-width="1.4"/>
<path d="M408.66 248.56V185.16M407.06 248.56h3.20M407.06 185.16h3.20" stroke="#b33333" stroke-width="1.35"/>
<path d="M433.25 260.60V178.58M431.65 260.60h3.20M431.65 178.58h3.20" stroke="#b33333" stroke-width="1.35"/>
<path d="M457.85 260.60V170.22M456.25 260.60h3.20M456.25 170.22h3.20" stroke="#b33333" stroke-width="1.35"/>
<path d="M482.44 247.76V168.84M480.84 247.76h3.20M480.84 168.84h3.20" stroke="#b33333" stroke-width="1.35"/>
<path d="M507.04 215.10V156.12M505.44 215.10h3.20M505.44 156.12h3.20" stroke="#b33333" stroke-width="1.35"/>
<path d="M531.63 194.32V144.78M530.03 194.32h3.20M530.03 144.78h3.20" stroke="#b33333" stroke-width="1.35"/>
<path d="M556.22 178.76V122.49M554.62 178.76h3.20M554.62 122.49h3.20" stroke="#b33333" stroke-width="1.35"/>
<path d="M580.82 157.29V109.06M579.22 157.29h3.20M579.22 109.06h3.20" stroke="#b33333" stroke-width="1.35"/>
<path d="M605.41 135.63V86.10M603.81 135.63h3.20M603.81 86.10h3.20" stroke="#b33333" stroke-width="1.35"/>
<path d="M630.01 116.05V62.34M628.41 116.05h3.20M628.41 62.34h3.20" stroke="#b33333" stroke-width="1.35"/>
<path d="M654.60 76.66V34.07M653.00 76.66h3.20M653.00 34.07h3.20" stroke="#b33333" stroke-width="1.35"/>
<rect x="406.36" y="205.06" width="4.60" height="4.60" fill="#b33333" fill-opacity="0.3" stroke="#b33333" stroke-width="1.5"/>
<rect x="430.95" y="213.21" width="4.60" height="4.60" fill="#b33333" fill-opacity="0.3" stroke="#b33333" stroke-width="1.5"/>
<rect x="455.55" y="200.20" width="4.60" height="4.60" fill="#b33333" fill-opacity="0.3" stroke="#b33333" stroke-width="1.5"/>
<rect x="480.14" y="191.25" width="4.60" height="4.60" fill="#b33333" fill-opacity="0.3" stroke="#b33333" stroke-width="1.5"/>
<rect x="504.74" y="174.99" width="4.60" height="4.60" fill="#b33333" fill-opacity="0.3" stroke="#b33333" stroke-width="1.5"/>
<rect x="529.33" y="160.15" width="4.60" height="4.60" fill="#b33333" fill-opacity="0.3" stroke="#b33333" stroke-width="1.5"/>
<rect x="553.92" y="145.81" width="4.60" height="4.60" fill="#b33333" fill-opacity="0.3" stroke="#b33333" stroke-width="1.5"/>
<rect x="578.52" y="125.27" width="4.60" height="4.60" fill="#b33333" fill-opacity="0.3" stroke="#b33333" stroke-width="1.5"/>
<rect x="603.11" y="102.21" width="4.60" height="4.60" fill="#b33333" fill-opacity="0.3" stroke="#b33333" stroke-width="1.5"/>
<rect x="627.71" y="78.49" width="4.60" height="4.60" fill="#b33333" fill-opacity="0.3" stroke="#b33333" stroke-width="1.5"/>
<rect x="652.30" y="48.91" width="4.60" height="4.60" fill="#b33333" fill-opacity="0.3" stroke="#b33333" stroke-width="1.5"/>
<path d="M408.66 189.54V185.24M407.06 189.54h3.20M407.06 185.24h3.20" stroke="#b27cf2" stroke-width="1.35"/>
<path d="M433.25 195.49V191.20M431.65 195.49h3.20M431.65 191.20h3.20" stroke="#b27cf2" stroke-width="1.35"/>
<path d="M457.85 177.36V173.06M456.25 177.36h3.20M456.25 173.06h3.20" stroke="#b27cf2" stroke-width="1.35"/>
<path d="M482.44 174.33V170.04M480.84 174.33h3.20M480.84 170.04h3.20" stroke="#b27cf2" stroke-width="1.35"/>
<path d="M507.04 163.86V159.56M505.44 163.86h3.20M505.44 159.56h3.20" stroke="#b27cf2" stroke-width="1.35"/>
<path d="M531.63 151.80V147.50M530.03 151.80h3.20M530.03 147.50h3.20" stroke="#b27cf2" stroke-width="1.35"/>
<path d="M556.22 140.15V135.86M554.62 140.15h3.20M554.62 135.86h3.20" stroke="#b27cf2" stroke-width="1.35"/>
<path d="M580.82 122.44V118.14M579.22 122.44h3.20M579.22 118.14h3.20" stroke="#b27cf2" stroke-width="1.35"/>
<path d="M605.41 102.92V98.62M603.81 102.92h3.20M603.81 98.62h3.20" stroke="#b27cf2" stroke-width="1.35"/>
<path d="M630.01 82.98V78.69M628.41 82.98h3.20M628.41 78.69h3.20" stroke="#b27cf2" stroke-width="1.35"/>
<path d="M654.60 55.38V51.09M653.00 55.38h3.20M653.00 51.09h3.20" stroke="#b27cf2" stroke-width="1.35"/>
<path d="M406.46 185.14L410.86 189.54M406.46 189.54L410.86 185.14" stroke="#b27cf2" stroke-width="1.3"/>
<path d="M431.05 191.10L435.45 195.50M431.05 195.50L435.45 191.10" stroke="#b27cf2" stroke-width="1.3"/>
<path d="M455.65 172.96L460.05 177.36M455.65 177.36L460.05 172.96" stroke="#b27cf2" stroke-width="1.3"/>
<path d="M480.24 169.94L484.64 174.34M480.24 174.34L484.64 169.94" stroke="#b27cf2" stroke-width="1.3"/>
<path d="M504.84 159.46L509.24 163.86M504.84 163.86L509.24 159.46" stroke="#b27cf2" stroke-width="1.3"/>
<path d="M529.43 147.40L533.83 151.80M529.43 151.80L533.83 147.40" stroke="#b27cf2" stroke-width="1.3"/>
<path d="M554.02 135.76L558.42 140.16M554.02 140.16L558.42 135.76" stroke="#b27cf2" stroke-width="1.3"/>
<path d="M578.62 118.04L583.02 122.44M578.62 122.44L583.02 118.04" stroke="#b27cf2" stroke-width="1.3"/>
<path d="M603.21 98.52L607.61 102.92M603.21 102.92L607.61 98.52" stroke="#b27cf2" stroke-width="1.3"/>
<path d="M627.81 78.59L632.21 82.99M627.81 82.99L632.21 78.59" stroke="#b27cf2" stroke-width="1.3"/>
<path d="M652.40 50.98L656.80 55.38M652.40 55.38L656.80 50.98" stroke="#b27cf2" stroke-width="1.3"/>
</g>
<rect x="406.70" y="4.40" width="251.20" height="251.20" fill="none" stroke="#1a1a1a" stroke-width="1.6"/>
<path d="M409.50 255.60v-5M409.50 4.40v5M434.09 255.60v-3M434.09 4.40v3M448.48 255.60v-3M448.48 4.40v3M458.69 255.60v-3M458.69 4.40v3M466.61 255.60v-3M466.61 4.40v3M473.07 255.60v-3M473.07 4.40v3M478.54 255.60v-3M478.54 4.40v3M483.28 255.60v-3M483.28 4.40v3M487.46 255.60v-3M487.46 4.40v3M491.20 255.60v-5M491.20 4.40v5M515.79 255.60v-3M515.79 4.40v3M530.18 255.60v-3M530.18 4.40v3M540.39 255.60v-3M540.39 4.40v3M548.31 255.60v-3M548.31 4.40v3M554.77 255.60v-3M554.77 4.40v3M560.24 255.60v-3M560.24 4.40v3M564.98 255.60v-3M564.98 4.40v3M569.16 255.60v-3M569.16 4.40v3M572.90 255.60v-5M572.90 4.40v5M597.49 255.60v-3M597.49 4.40v3M611.88 255.60v-3M611.88 4.40v3M622.09 255.60v-3M622.09 4.40v3M630.01 255.60v-3M630.01 4.40v3M636.47 255.60v-3M636.47 4.40v3M641.94 255.60v-3M641.94 4.40v3M646.68 255.60v-3M646.68 4.40v3M650.86 255.60v-3M650.86 4.40v3M654.60 255.60v-5M654.60 4.40v5M406.70 247.76h3M657.90 247.76h-3M406.70 240.41h3M657.90 240.41h-3M406.70 234.04h3M657.90 234.04h-3M406.70 228.42h3M657.90 228.42h-3M406.70 223.40h5M657.90 223.40h-5M406.70 190.35h3M657.90 190.35h-3M406.70 171.01h3M657.90 171.01h-3M406.70 157.29h3M657.90 157.29h-3M406.70 146.65h3M657.90 146.65h-3M406.70 137.96h3M657.90 137.96h-3M406.70 130.61h3M657.90 130.61h-3M406.70 124.24h3M657.90 124.24h-3M406.70 118.62h3M657.90 118.62h-3M406.70 113.60h5M657.90 113.60h-5M406.70 80.55h3M657.90 80.55h-3M406.70 61.21h3M657.90 61.21h-3M406.70 47.49h3M657.90 47.49h-3M406.70 36.85h3M657.90 36.85h-3M406.70 28.16h3M657.90 28.16h-3M406.70 20.81h3M657.90 20.81h-3M406.70 14.44h3M657.90 14.44h-3M406.70 8.82h3M657.90 8.82h-3" stroke="#111" stroke-width="1.1" fill="none"/>
<clipPath id="clipL1"><rect x="58.20" y="319.40" width="251.20" height="251.20"/></clipPath>
<text x="61.00" y="587.40" class="tl" text-anchor="middle">0.001</text>
<text x="142.70" y="587.40" class="tl" text-anchor="middle">0.01</text>
<text x="224.40" y="587.40" class="tl" text-anchor="middle">0.1</text>
<text x="306.10" y="587.40" class="tl" text-anchor="middle">1</text>
<text x="50.80" y="575.10" class="tl" text-anchor="end">0</text>
<text x="50.80" y="543.69" class="tl" text-anchor="end">0.1</text>
<text x="50.80" y="512.28" class="tl" text-anchor="end">0.2</text>
<text x="50.80" y="480.87" class="tl" text-anchor="end">0.3</text>
<text x="50.80" y="449.46" class="tl" text-anchor="end">0.4</text>
<text x="50.80" y="418.05" class="tl" text-anchor="end">0.5</text>
<text x="50.80" y="386.64" class="tl" text-anchor="end">0.6</text>
<text x="50.80" y="355.23" class="tl" text-anchor="end">0.7</text>
<text x="50.80" y="323.82" class="tl" text-anchor="end">0.8</text>
<text x="181.10" y="607.10" class="at" text-anchor="middle">Melanin concentration [a.u.]</text>
<text transform="translate(21.80,446.00) rotate(-90)" class="at ay" text-anchor="middle">Entropy [a.u.]</text>
<text x="-0.80" y="333.50" class="pl">(c)</text>
<g clip-path="url(#clipL1)">
<path d="M58.20 534.82 L59.77 534.77 L61.34 534.71 L62.91 534.66 L64.48 534.60 L66.05 534.55 L67.62 534.49 L69.19 534.43 L70.76 534.36 L72.33 534.30 L73.90 534.23 L75.47 534.16 L77.04 534.09 L78.61 534.02 L80.18 533.95 L81.75 533.87 L83.32 533.80 L84.89 533.72 L86.46 533.63 L88.03 533.55 L89.60 533.46 L91.17 533.37 L92.74 533.28 L94.31 533.19 L95.88 533.09 L97.45 532.99 L99.02 532.89 L100.59 532.78 L102.16 532.67 L103.73 532.56 L105.30 532.45 L106.87 532.33 L108.44 532.21 L110.01 532.08 L111.58 531.96 L113.15 531.82 L114.72 531.69 L116.29 531.55 L117.86 531.41 L119.43 531.26 L121.00 531.11 L122.57 530.96 L124.14 530.80 L125.71 530.63 L127.28 530.46 L128.85 530.29 L130.42 530.11 L131.99 529.93 L133.56 529.74 L135.13 529.55 L136.70 529.35 L138.27 529.15 L139.84 528.94 L141.41 528.72 L142.98 528.50 L144.55 528.28 L146.12 528.04 L147.69 527.80 L149.26 527.56 L150.83 527.30 L152.40 527.04 L153.97 526.77 L155.54 526.50 L157.11 526.21 L158.68 525.92 L160.25 525.62 L161.82 525.32 L163.39 525.00 L164.96 524.68 L166.53 524.34 L168.10 524.00 L169.67 523.65 L171.24 523.28 L172.81 522.91 L174.38 522.53 L175.95 522.14 L177.52 521.73 L179.09 521.32 L180.66 520.89 L182.23 520.45 L183.80 520.00 L185.37 519.53 L186.94 519.06 L188.51 518.57 L190.08 518.06 L191.65 517.55 L193.22 517.01 L194.79 516.47 L196.36 515.90 L197.93 515.33 L199.50 514.73 L201.07 514.12 L202.64 513.50 L204.21 512.85 L205.78 512.19 L207.35 511.51 L208.92 510.81 L210.49 510.09 L212.06 509.35 L213.63 508.59 L215.20 507.81 L216.77 507.00 L218.34 506.18 L219.91 505.33 L221.48 504.46 L223.05 503.56 L224.62 502.64 L226.19 501.69 L227.76 500.72 L229.33 499.72 L230.90 498.69 L232.47 497.64 L234.04 496.55 L235.61 495.43 L237.18 494.29 L238.75 493.11 L240.32 491.90 L241.89 490.65 L243.46 489.37 L245.03 488.05 L246.60 486.70 L248.17 485.31 L249.74 483.88 L251.31 482.42 L252.88 480.91 L254.45 479.36 L256.02 477.76 L257.59 476.12 L259.16 474.44 L260.73 472.71 L262.30 470.93 L263.87 469.10 L265.44 467.22 L267.01 465.29 L268.58 463.30 L270.15 461.26 L271.72 459.16 L273.29 457.01 L274.86 454.79 L276.43 452.51 L278.00 450.17 L279.57 447.77 L281.14 445.29 L282.71 442.75 L284.28 440.14 L285.85 437.45 L287.42 434.68 L288.99 431.84 L290.56 428.91 L292.13 425.89 L293.70 422.77 L295.27 419.54 L296.84 416.17 L298.41 412.64 L299.98 408.87 L301.55 404.79 L303.12 400.21 L304.69 394.87 L306.26 388.31 L307.83 379.72 L309.40 367.76" stroke="#4a66e2" stroke-width="1.6" fill="none"/>
<path d="M58.20 529.42 L59.77 529.41 L61.34 529.39 L62.91 529.38 L64.48 529.36 L66.05 529.35 L67.62 529.33 L69.19 529.31 L70.76 529.30 L72.33 529.28 L73.90 529.26 L75.47 529.24 L77.04 529.22 L78.61 529.20 L80.18 529.18 L81.75 529.16 L83.32 529.13 L84.89 529.11 L86.46 529.08 L88.03 529.06 L89.60 529.03 L91.17 529.00 L92.74 528.97 L94.31 528.94 L95.88 528.91 L97.45 528.88 L99.02 528.84 L100.59 528.81 L102.16 528.77 L103.73 528.73 L105.30 528.69 L106.87 528.65 L108.44 528.61 L110.01 528.56 L111.58 528.52 L113.15 528.47 L114.72 528.42 L116.29 528.37 L117.86 528.32 L119.43 528.26 L121.00 528.20 L122.57 528.14 L124.14 528.08 L125.71 528.01 L127.28 527.95 L128.85 527.88 L130.42 527.81 L131.99 527.73 L133.56 527.65 L135.13 527.57 L136.70 527.49 L138.27 527.40 L139.84 527.31 L141.41 527.21 L142.98 527.12 L144.55 527.02 L146.12 526.91 L147.69 526.80 L149.26 526.69 L150.83 526.57 L152.40 526.45 L153.97 526.32 L155.54 526.19 L157.11 526.05 L158.68 525.91 L160.25 525.76 L161.82 525.61 L163.39 525.45 L164.96 525.28 L166.53 525.11 L168.10 524.93 L169.67 524.74 L171.24 524.55 L172.81 524.35 L174.38 524.14 L175.95 523.93 L177.52 523.71 L179.09 523.47 L180.66 523.23 L182.23 522.98 L183.80 522.72 L185.37 522.45 L186.94 522.17 L188.51 521.88 L190.08 521.58 L191.65 521.26 L193.22 520.94 L194.79 520.60 L196.36 520.25 L197.93 519.88 L199.50 519.50 L201.07 519.11 L202.64 518.70 L204.21 518.28 L205.78 517.84 L207.35 517.38 L208.92 516.91 L210.49 516.41 L212.06 515.90 L213.63 515.37 L215.20 514.82 L216.77 514.25 L218.34 513.65 L219.91 513.03 L221.48 512.39 L223.05 511.73 L224.62 511.03 L226.19 510.32 L227.76 509.57 L229.33 508.80 L230.90 507.99 L232.47 507.16 L234.04 506.29 L235.61 505.39 L237.18 504.46 L238.75 503.49 L240.32 502.48 L241.89 501.43 L243.46 500.35 L245.03 499.22 L246.60 498.05 L248.17 496.83 L249.74 495.57 L251.31 494.26 L252.88 492.90 L254.45 491.49 L256.02 490.02 L257.59 488.50 L259.16 486.92 L260.73 485.27 L262.30 483.57 L263.87 481.80 L265.44 479.96 L267.01 478.05 L268.58 476.07 L270.15 474.01 L271.72 471.87 L273.29 469.65 L274.86 467.35 L276.43 464.96 L278.00 462.47 L279.57 459.90 L281.14 457.22 L282.71 454.44 L284.28 451.55 L285.85 448.55 L287.42 445.44 L288.99 442.21 L290.56 438.85 L292.13 435.37 L293.70 431.75 L295.27 427.99 L296.84 424.09 L298.41 420.04 L299.98 415.84 L301.55 411.47 L303.12 406.93 L304.69 402.23 L306.26 397.34 L307.83 392.26 L309.40 386.99" stroke="#22cdd0" stroke-width="1.6" fill="none"/>
<path d="M58.20 565.95 L59.77 565.84 L61.34 565.73 L62.91 565.62 L64.48 565.50 L66.05 565.38 L67.62 565.26 L69.19 565.14 L70.76 565.01 L72.33 564.88 L73.90 564.75 L75.47 564.61 L77.04 564.47 L78.61 564.33 L80.18 564.18 L81.75 564.03 L83.32 563.88 L84.89 563.72 L86.46 563.56 L88.03 563.40 L89.60 563.23 L91.17 563.06 L92.74 562.89 L94.31 562.71 L95.88 562.52 L97.45 562.33 L99.02 562.14 L100.59 561.95 L102.16 561.74 L103.73 561.54 L105.30 561.33 L106.87 561.11 L108.44 560.89 L110.01 560.66 L111.58 560.43 L113.15 560.20 L114.72 559.95 L116.29 559.71 L117.86 559.45 L119.43 559.19 L121.00 558.93 L122.57 558.66 L124.14 558.38 L125.71 558.09 L127.28 557.80 L128.85 557.51 L130.42 557.20 L131.99 556.89 L133.56 556.57 L135.13 556.24 L136.70 555.91 L138.27 555.57 L139.84 555.22 L141.41 554.86 L142.98 554.49 L144.55 554.12 L146.12 553.73 L147.69 553.34 L149.26 552.94 L150.83 552.53 L152.40 552.11 L153.97 551.68 L155.54 551.24 L157.11 550.79 L158.68 550.32 L160.25 549.85 L161.82 549.37 L163.39 548.88 L164.96 548.37 L166.53 547.85 L168.10 547.32 L169.67 546.78 L171.24 546.23 L172.81 545.66 L174.38 545.08 L175.95 544.49 L177.52 543.88 L179.09 543.26 L180.66 542.62 L182.23 541.97 L183.80 541.30 L185.37 540.62 L186.94 539.92 L188.51 539.21 L190.08 538.48 L191.65 537.73 L193.22 536.96 L194.79 536.18 L196.36 535.38 L197.93 534.56 L199.50 533.72 L201.07 532.86 L202.64 531.98 L204.21 531.09 L205.78 530.17 L207.35 529.23 L208.92 528.26 L210.49 527.28 L212.06 526.27 L213.63 525.24 L215.20 524.18 L216.77 523.10 L218.34 521.99 L219.91 520.86 L221.48 519.71 L223.05 518.52 L224.62 517.31 L226.19 516.07 L227.76 514.80 L229.33 513.50 L230.90 512.17 L232.47 510.81 L234.04 509.42 L235.61 508.00 L237.18 506.54 L238.75 505.05 L240.32 503.52 L241.89 501.96 L243.46 500.36 L245.03 498.73 L246.60 497.05 L248.17 495.34 L249.74 493.59 L251.31 491.80 L252.88 489.96 L254.45 488.09 L256.02 486.17 L257.59 484.20 L259.16 482.19 L260.73 480.13 L262.30 478.03 L263.87 475.87 L265.44 473.67 L267.01 471.41 L268.58 469.10 L270.15 466.74 L271.72 464.32 L273.29 461.85 L274.86 459.32 L276.43 456.73 L278.00 454.08 L279.57 451.37 L281.14 448.59 L282.71 445.75 L284.28 442.85 L285.85 439.87 L287.42 436.83 L288.99 433.72 L290.56 430.53 L292.13 427.27 L293.70 423.93 L295.27 420.52 L296.84 417.03 L298.41 413.45 L299.98 409.79 L301.55 406.05 L303.12 402.22 L304.69 398.30 L306.26 394.29 L307.83 390.19 L309.40 385.99" stroke="#b33333" stroke-width="1.6" fill="none"/>
<path d="M58.20 566.27 L59.77 566.17 L61.34 566.06 L62.91 565.96 L64.48 565.85 L66.05 565.74 L67.62 565.62 L69.19 565.51 L70.76 565.39 L72.33 565.26 L73.90 565.14 L75.47 565.01 L77.04 564.88 L78.61 564.74 L80.18 564.61 L81.75 564.47 L83.32 564.32 L84.89 564.17 L86.46 564.02 L88.03 563.87 L89.60 563.71 L91.17 563.55 L92.74 563.38 L94.31 563.21 L95.88 563.04 L97.45 562.86 L99.02 562.68 L100.59 562.49 L102.16 562.30 L103.73 562.11 L105.30 561.91 L106.87 561.70 L108.44 561.49 L110.01 561.28 L111.58 561.06 L113.15 560.84 L114.72 560.61 L116.29 560.37 L117.86 560.13 L119.43 559.89 L121.00 559.63 L122.57 559.38 L124.14 559.11 L125.71 558.84 L127.28 558.57 L128.85 558.28 L130.42 557.99 L131.99 557.70 L133.56 557.40 L135.13 557.08 L136.70 556.77 L138.27 556.44 L139.84 556.11 L141.41 555.77 L142.98 555.42 L144.55 555.06 L146.12 554.70 L147.69 554.32 L149.26 553.94 L150.83 553.55 L152.40 553.15 L153.97 552.74 L155.54 552.32 L157.11 551.89 L158.68 551.45 L160.25 551.00 L161.82 550.54 L163.39 550.07 L164.96 549.59 L166.53 549.09 L168.10 548.59 L169.67 548.07 L171.24 547.54 L172.81 547.00 L174.38 546.44 L175.95 545.88 L177.52 545.29 L179.09 544.70 L180.66 544.09 L182.23 543.47 L183.80 542.83 L185.37 542.18 L186.94 541.51 L188.51 540.83 L190.08 540.13 L191.65 539.41 L193.22 538.68 L194.79 537.93 L196.36 537.16 L197.93 536.37 L199.50 535.57 L201.07 534.75 L202.64 533.90 L204.21 533.04 L205.78 532.16 L207.35 531.25 L208.92 530.33 L210.49 529.38 L212.06 528.41 L213.63 527.42 L215.20 526.41 L216.77 525.37 L218.34 524.31 L219.91 523.22 L221.48 522.10 L223.05 520.97 L224.62 519.80 L226.19 518.60 L227.76 517.38 L229.33 516.13 L230.90 514.85 L232.47 513.54 L234.04 512.20 L235.61 510.83 L237.18 509.42 L238.75 507.99 L240.32 506.51 L241.89 505.01 L243.46 503.47 L245.03 501.89 L246.60 500.27 L248.17 498.62 L249.74 496.93 L251.31 495.20 L252.88 493.43 L254.45 491.61 L256.02 489.76 L257.59 487.86 L259.16 485.91 L260.73 483.92 L262.30 481.88 L263.87 479.80 L265.44 477.66 L267.01 475.48 L268.58 473.24 L270.15 470.96 L271.72 468.61 L273.29 466.22 L274.86 463.76 L276.43 461.25 L278.00 458.68 L279.57 456.05 L281.14 453.36 L282.71 450.61 L284.28 447.79 L285.85 444.90 L287.42 441.95 L288.99 438.92 L290.56 435.83 L292.13 432.66 L293.70 429.42 L295.27 426.10 L296.84 422.70 L298.41 419.23 L299.98 415.67 L301.55 412.03 L303.12 408.30 L304.69 404.49 L306.26 400.58 L307.83 396.59 L309.40 392.50" stroke="#b27cf2" stroke-width="1.6" fill="none"/>
<path d="M60.16 547.48V532.28M58.56 547.48h3.20M58.56 532.28h3.20" stroke="#4a66e2" stroke-width="1.35"/>
<path d="M84.75 548.46V529.77M83.15 548.46h3.20M83.15 529.77h3.20" stroke="#4a66e2" stroke-width="1.35"/>
<path d="M109.35 544.09V522.86M107.75 544.09h3.20M107.75 522.86h3.20" stroke="#4a66e2" stroke-width="1.35"/>
<path d="M133.94 539.50V521.91M132.34 539.50h3.20M132.34 521.91h3.20" stroke="#4a66e2" stroke-width="1.35"/>
<path d="M158.54 536.68V517.83M156.94 536.68h3.20M156.94 517.83h3.20" stroke="#4a66e2" stroke-width="1.35"/>
<path d="M183.13 531.34V510.92M181.53 531.34h3.20M181.53 510.92h3.20" stroke="#4a66e2" stroke-width="1.35"/>
<path d="M207.72 526.63V500.56M206.12 526.63h3.20M206.12 500.56h3.20" stroke="#4a66e2" stroke-width="1.35"/>
<path d="M232.32 514.06V478.88M230.72 514.06h3.20M230.72 478.88h3.20" stroke="#4a66e2" stroke-width="1.35"/>
<path d="M256.91 496.16V445.59M255.31 496.16h3.20M255.31 445.59h3.20" stroke="#4a66e2" stroke-width="1.35"/>
<path d="M281.51 471.03V407.27M279.91 471.03h3.20M279.91 407.27h3.20" stroke="#4a66e2" stroke-width="1.35"/>
<path d="M306.10 416.69V353.87M304.50 416.69h3.20M304.50 353.87h3.20" stroke="#4a66e2" stroke-width="1.35"/>
<rect x="57.86" y="537.52" width="4.60" height="4.60" fill="#4a66e2" fill-opacity="0.3" stroke="#4a66e2" stroke-width="1.5"/>
<rect x="82.45" y="537.02" width="4.60" height="4.60" fill="#4a66e2" fill-opacity="0.3" stroke="#4a66e2" stroke-width="1.5"/>
<rect x="107.05" y="530.92" width="4.60" height="4.60" fill="#4a66e2" fill-opacity="0.3" stroke="#4a66e2" stroke-width="1.5"/>
<rect x="131.64" y="528.72" width="4.60" height="4.60" fill="#4a66e2" fill-opacity="0.3" stroke="#4a66e2" stroke-width="1.5"/>
<rect x="156.24" y="524.64" width="4.60" height="4.60" fill="#4a66e2" fill-opacity="0.3" stroke="#4a66e2" stroke-width="1.5"/>
<rect x="180.83" y="519.30" width="4.60" height="4.60" fill="#4a66e2" fill-opacity="0.3" stroke="#4a66e2" stroke-width="1.5"/>
<rect x="205.42" y="511.45" width="4.60" height="4.60" fill="#4a66e2" fill-opacity="0.3" stroke="#4a66e2" stroke-width="1.5"/>
<rect x="230.02" y="495.43" width="4.60" height="4.60" fill="#4a66e2" fill-opacity="0.3" stroke="#4a66e2" stroke-width="1.5"/>
<rect x="254.61" y="468.10" width="4.60" height="4.60" fill="#4a66e2" fill-opacity="0.3" stroke="#4a66e2" stroke-width="1.5"/>
<rect x="279.21" y="436.38" width="4.60" height="4.60" fill="#4a66e2" fill-opacity="0.3" stroke="#4a66e2" stroke-width="1.5"/>
<rect x="303.80" y="387.69" width="4.60" height="4.60" fill="#4a66e2" fill-opacity="0.3" stroke="#4a66e2" stroke-width="1.5"/>
<path d="M60.16 535.20V531.87M58.56 535.20h3.20M58.56 531.87h3.20" stroke="#22cdd0" stroke-width="1.35"/>
<path d="M84.75 529.80V525.96M83.15 529.80h3.20M83.15 525.96h3.20" stroke="#22cdd0" stroke-width="1.35"/>
<path d="M109.35 526.21V522.02M107.75 526.21h3.20M107.75 522.02h3.20" stroke="#22cdd0" stroke-width="1.35"/>
<path d="M133.94 529.80V525.96M132.34 529.80h3.20M132.34 525.96h3.20" stroke="#22cdd0" stroke-width="1.35"/>
<path d="M158.54 528.90V524.98M156.94 528.90h3.20M156.94 524.98h3.20" stroke="#22cdd0" stroke-width="1.35"/>
<path d="M183.13 525.01V520.71M181.53 525.01h3.20M181.53 520.71h3.20" stroke="#22cdd0" stroke-width="1.35"/>
<path d="M207.72 519.61V514.80M206.12 519.61h3.20M206.12 514.80h3.20" stroke="#22cdd0" stroke-width="1.35"/>
<path d="M232.32 509.11V503.31M230.72 509.11h3.20M230.72 503.31h3.20" stroke="#22cdd0" stroke-width="1.35"/>
<path d="M256.91 488.41V480.66M255.31 488.41h3.20M255.31 480.66h3.20" stroke="#22cdd0" stroke-width="1.35"/>
<path d="M281.51 461.41V451.12M279.91 461.41h3.20M279.91 451.12h3.20" stroke="#22cdd0" stroke-width="1.35"/>
<path d="M306.10 407.42V392.04M304.50 407.42h3.20M304.50 392.04h3.20" stroke="#22cdd0" stroke-width="1.35"/>
<path d="M57.96 531.34L62.36 535.74M57.96 535.74L62.36 531.34" stroke="#22cdd0" stroke-width="1.3"/>
<path d="M82.55 525.68L86.95 530.08M82.55 530.08L86.95 525.68" stroke="#22cdd0" stroke-width="1.3"/>
<path d="M107.15 521.91L111.55 526.31M107.15 526.31L111.55 521.91" stroke="#22cdd0" stroke-width="1.3"/>
<path d="M131.74 525.68L136.14 530.08M131.74 530.08L136.14 525.68" stroke="#22cdd0" stroke-width="1.3"/>
<path d="M156.34 524.74L160.74 529.14M156.34 529.14L160.74 524.74" stroke="#22cdd0" stroke-width="1.3"/>
<path d="M180.93 520.66L185.33 525.06M180.93 525.06L185.33 520.66" stroke="#22cdd0" stroke-width="1.3"/>
<path d="M205.52 515.00L209.92 519.40M205.52 519.40L209.92 515.00" stroke="#22cdd0" stroke-width="1.3"/>
<path d="M230.12 504.01L234.52 508.41M230.12 508.41L234.52 504.01" stroke="#22cdd0" stroke-width="1.3"/>
<path d="M254.71 482.34L259.11 486.74M254.71 486.74L259.11 482.34" stroke="#22cdd0" stroke-width="1.3"/>
<path d="M279.31 454.07L283.71 458.47M279.31 458.47L283.71 454.07" stroke="#22cdd0" stroke-width="1.3"/>
<path d="M303.90 397.53L308.30 401.93M303.90 401.93L308.30 397.53" stroke="#22cdd0" stroke-width="1.3"/>
<path d="M60.16 564.85V552.70M58.56 564.85h3.20M58.56 552.70h3.20" stroke="#b33333" stroke-width="1.35"/>
<path d="M84.75 570.29V557.28M83.15 570.29h3.20M83.15 557.28h3.20" stroke="#b33333" stroke-width="1.35"/>
<path d="M109.35 570.29V552.70M107.75 570.29h3.20M107.75 552.70h3.20" stroke="#b33333" stroke-width="1.35"/>
<path d="M133.94 566.80V553.64M132.34 566.80h3.20M132.34 553.64h3.20" stroke="#b33333" stroke-width="1.35"/>
<path d="M158.54 560.77V543.59M156.94 560.77h3.20M156.94 543.59h3.20" stroke="#b33333" stroke-width="1.35"/>
<path d="M183.13 552.70V529.77M181.53 552.70h3.20M181.53 529.77h3.20" stroke="#b33333" stroke-width="1.35"/>
<path d="M207.72 545.79V515.95M206.12 545.79h3.20M206.12 515.95h3.20" stroke="#b33333" stroke-width="1.35"/>
<path d="M232.32 531.34V489.88M230.72 531.34h3.20M230.72 489.88h3.20" stroke="#b33333" stroke-width="1.35"/>
<path d="M256.91 508.72V455.33M255.31 508.72h3.20M255.31 455.33h3.20" stroke="#b33333" stroke-width="1.35"/>
<path d="M281.51 477.63V416.69M279.91 477.63h3.20M279.91 416.69h3.20" stroke="#b33333" stroke-width="1.35"/>
<path d="M306.10 432.40V363.29M304.50 432.40h3.20M304.50 363.29h3.20" stroke="#b33333" stroke-width="1.35"/>
<rect x="57.86" y="556.43" width="4.60" height="4.60" fill="#b33333" fill-opacity="0.3" stroke="#b33333" stroke-width="1.5"/>
<rect x="82.45" y="561.70" width="4.60" height="4.60" fill="#b33333" fill-opacity="0.3" stroke="#b33333" stroke-width="1.5"/>
<rect x="107.05" y="559.98" width="4.60" height="4.60" fill="#b33333" fill-opacity="0.3" stroke="#b33333" stroke-width="1.5"/>
<rect x="131.64" y="557.90" width="4.60" height="4.60" fill="#b33333" fill-opacity="0.3" stroke="#b33333" stroke-width="1.5"/>
<rect x="156.24" y="549.77" width="4.60" height="4.60" fill="#b33333" fill-opacity="0.3" stroke="#b33333" stroke-width="1.5"/>
<rect x="180.83" y="539.09" width="4.60" height="4.60" fill="#b33333" fill-opacity="0.3" stroke="#b33333" stroke-width="1.5"/>
<rect x="205.42" y="527.47" width="4.60" height="4.60" fill="#b33333" fill-opacity="0.3" stroke="#b33333" stroke-width="1.5"/>
<rect x="230.02" y="507.68" width="4.60" height="4.60" fill="#b33333" fill-opacity="0.3" stroke="#b33333" stroke-width="1.5"/>
<rect x="254.61" y="479.41" width="4.60" height="4.60" fill="#b33333" fill-opacity="0.3" stroke="#b33333" stroke-width="1.5"/>
<rect x="279.21" y="443.29" width="4.60" height="4.60" fill="#b33333" fill-opacity="0.3" stroke="#b33333" stroke-width="1.5"/>
<rect x="303.80" y="392.40" width="4.60" height="4.60" fill="#b33333" fill-opacity="0.3" stroke="#b33333" stroke-width="1.5"/>
<path d="M60.16 563.34V562.66M58.56 563.34h3.20M58.56 562.66h3.20" stroke="#b27cf2" stroke-width="1.35"/>
<path d="M84.75 566.94V566.60M83.15 566.94h3.20M83.15 566.60h3.20" stroke="#b27cf2" stroke-width="1.35"/>
<path d="M109.35 560.52V559.57M107.75 560.52h3.20M107.75 559.57h3.20" stroke="#b27cf2" stroke-width="1.35"/>
<path d="M133.94 558.84V557.73M132.34 558.84h3.20M132.34 557.73h3.20" stroke="#b27cf2" stroke-width="1.35"/>
<path d="M158.54 551.01V549.17M156.94 551.01h3.20M156.94 549.17h3.20" stroke="#b27cf2" stroke-width="1.35"/>
<path d="M183.13 542.70V540.07M181.53 542.70h3.20M181.53 540.07h3.20" stroke="#b27cf2" stroke-width="1.35"/>
<path d="M207.72 532.50V528.91M206.12 532.50h3.20M206.12 528.91h3.20" stroke="#b27cf2" stroke-width="1.35"/>
<path d="M232.32 515.11V509.88M230.72 515.11h3.20M230.72 509.88h3.20" stroke="#b27cf2" stroke-width="1.35"/>
<path d="M256.91 491.71V484.27M255.31 491.71h3.20M255.31 484.27h3.20" stroke="#b27cf2" stroke-width="1.35"/>
<path d="M281.51 461.41V451.12M279.91 461.41h3.20M279.91 451.12h3.20" stroke="#b27cf2" stroke-width="1.35"/>
<path d="M306.10 410.72V395.65M304.50 410.72h3.20M304.50 395.65h3.20" stroke="#b27cf2" stroke-width="1.35"/>
<path d="M57.96 560.80L62.36 565.20M57.96 565.20L62.36 560.80" stroke="#b27cf2" stroke-width="1.3"/>
<path d="M82.55 564.57L86.95 568.97M82.55 568.97L86.95 564.57" stroke="#b27cf2" stroke-width="1.3"/>
<path d="M107.15 557.85L111.55 562.25M107.15 562.25L111.55 557.85" stroke="#b27cf2" stroke-width="1.3"/>
<path d="M131.74 556.09L136.14 560.49M131.74 560.49L136.14 556.09" stroke="#b27cf2" stroke-width="1.3"/>
<path d="M156.34 547.89L160.74 552.29M156.34 552.29L160.74 547.89" stroke="#b27cf2" stroke-width="1.3"/>
<path d="M180.93 539.19L185.33 543.59M180.93 543.59L185.33 539.19" stroke="#b27cf2" stroke-width="1.3"/>
<path d="M205.52 528.51L209.92 532.91M205.52 532.91L209.92 528.51" stroke="#b27cf2" stroke-width="1.3"/>
<path d="M230.12 510.29L234.52 514.69M230.12 514.69L234.52 510.29" stroke="#b27cf2" stroke-width="1.3"/>
<path d="M254.71 485.79L259.11 490.19M254.71 490.19L259.11 485.79" stroke="#b27cf2" stroke-width="1.3"/>
<path d="M279.31 454.07L283.71 458.47M279.31 458.47L283.71 454.07" stroke="#b27cf2" stroke-width="1.3"/>
<path d="M303.90 400.98L308.30 405.38M303.90 405.38L308.30 400.98" stroke="#b27cf2" stroke-width="1.3"/>
</g>
<rect x="58.20" y="319.40" width="251.20" height="251.20" fill="none" stroke="#1a1a1a" stroke-width="1.6"/>
<path d="M61.00 570.60v-5M61.00 319.40v5M85.59 570.60v-3M85.59 319.40v3M99.98 570.60v-3M99.98 319.40v3M110.19 570.60v-3M110.19 319.40v3M118.11 570.60v-3M118.11 319.40v3M124.57 570.60v-3M124.57 319.40v3M130.04 570.60v-3M130.04 319.40v3M134.78 570.60v-3M134.78 319.40v3M138.96 570.60v-3M138.96 319.40v3M142.70 570.60v-5M142.70 319.40v5M167.29 570.60v-3M167.29 319.40v3M181.68 570.60v-3M181.68 319.40v3M191.89 570.60v-3M191.89 319.40v3M199.81 570.60v-3M199.81 319.40v3M206.27 570.60v-3M206.27 319.40v3M211.74 570.60v-3M211.74 319.40v3M216.48 570.60v-3M216.48 319.40v3M220.66 570.60v-3M220.66 319.40v3M224.40 570.60v-5M224.40 319.40v5M248.99 570.60v-3M248.99 319.40v3M263.38 570.60v-3M263.38 319.40v3M273.59 570.60v-3M273.59 319.40v3M281.51 570.60v-3M281.51 319.40v3M287.97 570.60v-3M287.97 319.40v3M293.44 570.60v-3M293.44 319.40v3M298.18 570.60v-3M298.18 319.40v3M302.36 570.60v-3M302.36 319.40v3M306.10 570.60v-5M306.10 319.40v5M58.20 554.89h3M309.40 554.89h-3M58.20 539.19h5M309.40 539.19h-5M58.20 523.48h3M309.40 523.48h-3M58.20 507.78h5M309.40 507.78h-5M58.20 492.07h3M309.40 492.07h-3M58.20 476.37h5M309.40 476.37h-5M58.20 460.66h3M309.40 460.66h-3M58.20 444.96h5M309.40 444.96h-5M58.20 429.25h3M309.40 429.25h-3M58.20 413.55h5M309.40 413.55h-5M58.20 397.84h3M309.40 397.84h-3M58.20 382.14h5M309.40 382.14h-5M58.20 366.43h3M309.40 366.43h-3M58.20 350.73h5M309.40 350.73h-5M58.20 335.02h3M309.40 335.02h-3" stroke="#111" stroke-width="1.1" fill="none"/>
<clipPath id="clipR1"><rect x="406.70" y="319.40" width="251.20" height="251.20"/></clipPath>
<text x="409.50" y="587.40" class="tl" text-anchor="middle">0.001</text>
<text x="491.20" y="587.40" class="tl" text-anchor="middle">0.01</text>
<text x="572.90" y="587.40" class="tl" text-anchor="middle">0.1</text>
<text x="654.60" y="587.40" class="tl" text-anchor="middle">1</text>
<text x="397.30" y="542.90" class="tl" text-anchor="end">0.01</text>
<text x="397.30" y="433.10" class="tl" text-anchor="end">0.1</text>
<text x="397.30" y="323.30" class="tl" text-anchor="end">1</text>
<text x="533.60" y="607.10" class="at" text-anchor="middle">Melanin concentration [a.u.]</text>
<text transform="translate(363.90,445.30) rotate(-90)" class="at ay" text-anchor="middle">Entropy [a.u.]</text>
<text x="343.40" y="333.50" class="pl">(d)</text>
<g clip-path="url(#clipR1)">
<path d="M406.70 422.39 L408.27 422.32 L409.84 422.25 L411.41 422.18 L412.98 422.10 L414.55 422.02 L416.12 421.95 L417.69 421.87 L419.26 421.78 L420.83 421.70 L422.40 421.61 L423.97 421.52 L425.54 421.43 L427.11 421.34 L428.68 421.24 L430.25 421.14 L431.82 421.04 L433.39 420.94 L434.96 420.83 L436.53 420.72 L438.10 420.61 L439.67 420.50 L441.24 420.38 L442.81 420.26 L444.38 420.13 L445.95 420.01 L447.52 419.88 L449.09 419.74 L450.66 419.61 L452.23 419.47 L453.80 419.32 L455.37 419.18 L456.94 419.03 L458.51 418.87 L460.08 418.72 L461.65 418.55 L463.22 418.39 L464.79 418.22 L466.36 418.04 L467.93 417.87 L469.50 417.68 L471.07 417.50 L472.64 417.31 L474.21 417.11 L475.78 416.91 L477.35 416.71 L478.92 416.50 L480.49 416.28 L482.06 416.06 L483.63 415.84 L485.20 415.61 L486.77 415.37 L488.34 415.13 L489.91 414.89 L491.48 414.64 L493.05 414.38 L494.62 414.12 L496.19 413.85 L497.76 413.57 L499.33 413.29 L500.90 413.01 L502.47 412.72 L504.04 412.42 L505.61 412.11 L507.18 411.80 L508.75 411.48 L510.32 411.16 L511.89 410.83 L513.46 410.49 L515.03 410.14 L516.60 409.79 L518.17 409.43 L519.74 409.06 L521.31 408.69 L522.88 408.31 L524.45 407.92 L526.02 407.52 L527.59 407.12 L529.16 406.71 L530.73 406.29 L532.30 405.86 L533.87 405.43 L535.44 404.98 L537.01 404.53 L538.58 404.07 L540.15 403.60 L541.72 403.13 L543.29 402.64 L544.86 402.15 L546.43 401.65 L548.00 401.14 L549.57 400.62 L551.14 400.10 L552.71 399.56 L554.28 399.02 L555.85 398.46 L557.42 397.90 L558.99 397.33 L560.56 396.75 L562.13 396.16 L563.70 395.57 L565.27 394.96 L566.84 394.35 L568.41 393.72 L569.98 393.09 L571.55 392.45 L573.12 391.80 L574.69 391.14 L576.26 390.47 L577.83 389.79 L579.40 389.10 L580.97 388.41 L582.54 387.70 L584.11 386.99 L585.68 386.27 L587.25 385.54 L588.82 384.80 L590.39 384.05 L591.96 383.29 L593.53 382.53 L595.10 381.75 L596.67 380.97 L598.24 380.17 L599.81 379.37 L601.38 378.56 L602.95 377.75 L604.52 376.92 L606.09 376.09 L607.66 375.24 L609.23 374.39 L610.80 373.53 L612.37 372.67 L613.94 371.79 L615.51 370.91 L617.08 370.02 L618.65 369.12 L620.22 368.21 L621.79 367.30 L623.36 366.38 L624.93 365.45 L626.50 364.51 L628.07 363.57 L629.64 362.62 L631.21 361.66 L632.78 360.70 L634.35 359.72 L635.92 358.74 L637.49 357.76 L639.06 356.76 L640.63 355.76 L642.20 354.74 L643.77 353.71 L645.34 352.66 L646.91 351.58 L648.48 350.45 L650.05 349.26 L651.62 347.97 L653.19 346.49 L654.76 344.75 L656.33 342.55 L657.90 339.65" stroke="#4a66e2" stroke-width="1.6" fill="none"/>
<path d="M406.70 415.68 L408.27 415.67 L409.84 415.65 L411.41 415.64 L412.98 415.62 L414.55 415.60 L416.12 415.58 L417.69 415.56 L419.26 415.54 L420.83 415.52 L422.40 415.50 L423.97 415.48 L425.54 415.46 L427.11 415.43 L428.68 415.41 L430.25 415.38 L431.82 415.35 L433.39 415.33 L434.96 415.30 L436.53 415.27 L438.10 415.24 L439.67 415.20 L441.24 415.17 L442.81 415.13 L444.38 415.10 L445.95 415.06 L447.52 415.02 L449.09 414.98 L450.66 414.94 L452.23 414.90 L453.80 414.85 L455.37 414.80 L456.94 414.75 L458.51 414.70 L460.08 414.65 L461.65 414.60 L463.22 414.54 L464.79 414.48 L466.36 414.42 L467.93 414.36 L469.50 414.30 L471.07 414.23 L472.64 414.16 L474.21 414.09 L475.78 414.01 L477.35 413.93 L478.92 413.85 L480.49 413.77 L482.06 413.68 L483.63 413.59 L485.20 413.50 L486.77 413.40 L488.34 413.30 L489.91 413.20 L491.48 413.09 L493.05 412.98 L494.62 412.86 L496.19 412.74 L497.76 412.62 L499.33 412.49 L500.90 412.36 L502.47 412.22 L504.04 412.08 L505.61 411.93 L507.18 411.78 L508.75 411.62 L510.32 411.46 L511.89 411.29 L513.46 411.12 L515.03 410.94 L516.60 410.75 L518.17 410.56 L519.74 410.36 L521.31 410.15 L522.88 409.94 L524.45 409.72 L526.02 409.49 L527.59 409.25 L529.16 409.01 L530.73 408.76 L532.30 408.50 L533.87 408.23 L535.44 407.95 L537.01 407.67 L538.58 407.37 L540.15 407.07 L541.72 406.75 L543.29 406.43 L544.86 406.10 L546.43 405.75 L548.00 405.40 L549.57 405.03 L551.14 404.66 L552.71 404.27 L554.28 403.87 L555.85 403.46 L557.42 403.03 L558.99 402.60 L560.56 402.15 L562.13 401.69 L563.70 401.21 L565.27 400.73 L566.84 400.23 L568.41 399.71 L569.98 399.18 L571.55 398.64 L573.12 398.08 L574.69 397.51 L576.26 396.93 L577.83 396.32 L579.40 395.71 L580.97 395.08 L582.54 394.43 L584.11 393.77 L585.68 393.09 L587.25 392.40 L588.82 391.68 L590.39 390.96 L591.96 390.22 L593.53 389.46 L595.10 388.68 L596.67 387.89 L598.24 387.08 L599.81 386.25 L601.38 385.41 L602.95 384.55 L604.52 383.68 L606.09 382.78 L607.66 381.87 L609.23 380.95 L610.80 380.00 L612.37 379.04 L613.94 378.06 L615.51 377.07 L617.08 376.06 L618.65 375.03 L620.22 373.99 L621.79 372.93 L623.36 371.85 L624.93 370.76 L626.50 369.65 L628.07 368.53 L629.64 367.39 L631.21 366.23 L632.78 365.06 L634.35 363.88 L635.92 362.68 L637.49 361.46 L639.06 360.23 L640.63 358.98 L642.20 357.73 L643.77 356.45 L645.34 355.17 L646.91 353.87 L648.48 352.55 L650.05 351.23 L651.62 349.89 L653.19 348.53 L654.76 347.17 L656.33 345.79 L657.90 344.40" stroke="#22cdd0" stroke-width="1.6" fill="none"/>
<path d="M406.70 519.69 L408.27 518.60 L409.84 517.50 L411.41 516.40 L412.98 515.30 L414.55 514.21 L416.12 513.11 L417.69 512.01 L419.26 510.92 L420.83 509.82 L422.40 508.72 L423.97 507.62 L425.54 506.53 L427.11 505.43 L428.68 504.33 L430.25 503.24 L431.82 502.14 L433.39 501.04 L434.96 499.94 L436.53 498.85 L438.10 497.75 L439.67 496.65 L441.24 495.56 L442.81 494.46 L444.38 493.36 L445.95 492.26 L447.52 491.17 L449.09 490.07 L450.66 488.97 L452.23 487.88 L453.80 486.78 L455.37 485.68 L456.94 484.58 L458.51 483.49 L460.08 482.39 L461.65 481.29 L463.22 480.19 L464.79 479.10 L466.36 478.00 L467.93 476.90 L469.50 475.81 L471.07 474.71 L472.64 473.61 L474.21 472.51 L475.78 471.42 L477.35 470.32 L478.92 469.22 L480.49 468.13 L482.06 467.03 L483.63 465.93 L485.20 464.83 L486.77 463.74 L488.34 462.64 L489.91 461.54 L491.48 460.45 L493.05 459.35 L494.62 458.25 L496.19 457.15 L497.76 456.06 L499.33 454.96 L500.90 453.86 L502.47 452.76 L504.04 451.67 L505.61 450.57 L507.18 449.47 L508.75 448.38 L510.32 447.28 L511.89 446.18 L513.46 445.08 L515.03 443.99 L516.60 442.89 L518.17 441.79 L519.74 440.70 L521.31 439.60 L522.88 438.50 L524.45 437.40 L526.02 436.31 L527.59 435.21 L529.16 434.11 L530.73 433.02 L532.30 431.92 L533.87 430.82 L535.44 429.72 L537.01 428.63 L538.58 427.53 L540.15 426.43 L541.72 425.34 L543.29 424.24 L544.86 423.14 L546.43 422.04 L548.00 420.95 L549.57 419.85 L551.14 418.75 L552.71 417.65 L554.28 416.56 L555.85 415.46 L557.42 414.36 L558.99 413.27 L560.56 412.17 L562.13 411.07 L563.70 409.97 L565.27 408.88 L566.84 407.78 L568.41 406.68 L569.98 405.59 L571.55 404.49 L573.12 403.39 L574.69 402.29 L576.26 401.20 L577.83 400.10 L579.40 399.00 L580.97 397.91 L582.54 396.81 L584.11 395.71 L585.68 394.61 L587.25 393.52 L588.82 392.42 L590.39 391.32 L591.96 390.22 L593.53 389.13 L595.10 388.03 L596.67 386.93 L598.24 385.84 L599.81 384.74 L601.38 383.64 L602.95 382.54 L604.52 381.45 L606.09 380.35 L607.66 379.25 L609.23 378.16 L610.80 377.06 L612.37 375.96 L613.94 374.86 L615.51 373.77 L617.08 372.67 L618.65 371.57 L620.22 370.48 L621.79 369.38 L623.36 368.28 L624.93 367.18 L626.50 366.09 L628.07 364.99 L629.64 363.89 L631.21 362.80 L632.78 361.70 L634.35 360.60 L635.92 359.50 L637.49 358.41 L639.06 357.31 L640.63 356.21 L642.20 355.11 L643.77 354.02 L645.34 352.92 L646.91 351.82 L648.48 350.73 L650.05 349.63 L651.62 348.53 L653.19 347.43 L654.76 346.34 L656.33 345.24 L657.90 344.14" stroke="#b33333" stroke-width="1.6" fill="none"/>
<path d="M406.70 523.09 L408.27 521.99 L409.84 520.88 L411.41 519.77 L412.98 518.66 L414.55 517.56 L416.12 516.45 L417.69 515.34 L419.26 514.23 L420.83 513.12 L422.40 512.02 L423.97 510.91 L425.54 509.80 L427.11 508.69 L428.68 507.59 L430.25 506.48 L431.82 505.37 L433.39 504.26 L434.96 503.15 L436.53 502.05 L438.10 500.94 L439.67 499.83 L441.24 498.72 L442.81 497.62 L444.38 496.51 L445.95 495.40 L447.52 494.29 L449.09 493.18 L450.66 492.08 L452.23 490.97 L453.80 489.86 L455.37 488.75 L456.94 487.65 L458.51 486.54 L460.08 485.43 L461.65 484.32 L463.22 483.21 L464.79 482.11 L466.36 481.00 L467.93 479.89 L469.50 478.78 L471.07 477.68 L472.64 476.57 L474.21 475.46 L475.78 474.35 L477.35 473.25 L478.92 472.14 L480.49 471.03 L482.06 469.92 L483.63 468.81 L485.20 467.71 L486.77 466.60 L488.34 465.49 L489.91 464.38 L491.48 463.28 L493.05 462.17 L494.62 461.06 L496.19 459.95 L497.76 458.84 L499.33 457.74 L500.90 456.63 L502.47 455.52 L504.04 454.41 L505.61 453.31 L507.18 452.20 L508.75 451.09 L510.32 449.98 L511.89 448.87 L513.46 447.77 L515.03 446.66 L516.60 445.55 L518.17 444.44 L519.74 443.34 L521.31 442.23 L522.88 441.12 L524.45 440.01 L526.02 438.91 L527.59 437.80 L529.16 436.69 L530.73 435.58 L532.30 434.47 L533.87 433.37 L535.44 432.26 L537.01 431.15 L538.58 430.04 L540.15 428.94 L541.72 427.83 L543.29 426.72 L544.86 425.61 L546.43 424.50 L548.00 423.40 L549.57 422.29 L551.14 421.18 L552.71 420.07 L554.28 418.97 L555.85 417.86 L557.42 416.75 L558.99 415.64 L560.56 414.53 L562.13 413.43 L563.70 412.32 L565.27 411.21 L566.84 410.10 L568.41 409.00 L569.98 407.89 L571.55 406.78 L573.12 405.67 L574.69 404.57 L576.26 403.46 L577.83 402.35 L579.40 401.24 L580.97 400.13 L582.54 399.03 L584.11 397.92 L585.68 396.81 L587.25 395.70 L588.82 394.60 L590.39 393.49 L591.96 392.38 L593.53 391.27 L595.10 390.16 L596.67 389.06 L598.24 387.95 L599.81 386.84 L601.38 385.73 L602.95 384.63 L604.52 383.52 L606.09 382.41 L607.66 381.30 L609.23 380.19 L610.80 379.09 L612.37 377.98 L613.94 376.87 L615.51 375.76 L617.08 374.66 L618.65 373.55 L620.22 372.44 L621.79 371.33 L623.36 370.23 L624.93 369.12 L626.50 368.01 L628.07 366.90 L629.64 365.79 L631.21 364.69 L632.78 363.58 L634.35 362.47 L635.92 361.36 L637.49 360.26 L639.06 359.15 L640.63 358.04 L642.20 356.93 L643.77 355.82 L645.34 354.72 L646.91 353.61 L648.48 352.50 L650.05 351.39 L651.62 350.29 L653.19 349.18 L654.76 348.07 L656.33 346.96 L657.90 345.85" stroke="#b27cf2" stroke-width="1.6" fill="none"/>
<path d="M408.66 443.22V419.12M407.06 443.22h3.20M407.06 419.12h3.20" stroke="#4a66e2" stroke-width="1.35"/>
<path d="M433.25 445.27V416.09M431.65 445.27h3.20M431.65 416.09h3.20" stroke="#4a66e2" stroke-width="1.35"/>
<path d="M457.85 436.69V408.63M456.25 436.69h3.20M456.25 408.63h3.20" stroke="#4a66e2" stroke-width="1.35"/>
<path d="M482.44 429.08V407.70M480.84 429.08h3.20M480.84 407.70h3.20" stroke="#4a66e2" stroke-width="1.35"/>
<path d="M507.04 424.93V403.86M505.44 424.93h3.20M505.44 403.86h3.20" stroke="#4a66e2" stroke-width="1.35"/>
<path d="M531.63 417.96V397.99M530.03 417.96h3.20M530.03 397.99h3.20" stroke="#4a66e2" stroke-width="1.35"/>
<path d="M556.22 412.56V390.36M554.62 412.56h3.20M554.62 390.36h3.20" stroke="#4a66e2" stroke-width="1.35"/>
<path d="M580.82 400.57V377.50M579.22 400.57h3.20M579.22 377.50h3.20" stroke="#4a66e2" stroke-width="1.35"/>
<path d="M605.41 387.45V362.73M603.81 387.45h3.20M603.81 362.73h3.20" stroke="#4a66e2" stroke-width="1.35"/>
<path d="M630.01 373.58V349.98M628.41 373.58h3.20M628.41 349.98h3.20" stroke="#4a66e2" stroke-width="1.35"/>
<path d="M654.60 352.82V336.49M653.00 352.82h3.20M653.00 336.49h3.20" stroke="#4a66e2" stroke-width="1.35"/>
<rect x="406.36" y="427.26" width="4.60" height="4.60" fill="#4a66e2" fill-opacity="0.3" stroke="#4a66e2" stroke-width="1.5"/>
<rect x="430.95" y="426.49" width="4.60" height="4.60" fill="#4a66e2" fill-opacity="0.3" stroke="#4a66e2" stroke-width="1.5"/>
<rect x="455.55" y="418.00" width="4.60" height="4.60" fill="#4a66e2" fill-opacity="0.3" stroke="#4a66e2" stroke-width="1.5"/>
<rect x="480.14" y="415.28" width="4.60" height="4.60" fill="#4a66e2" fill-opacity="0.3" stroke="#4a66e2" stroke-width="1.5"/>
<rect x="504.74" y="410.60" width="4.60" height="4.60" fill="#4a66e2" fill-opacity="0.3" stroke="#4a66e2" stroke-width="1.5"/>
<rect x="529.33" y="405.09" width="4.60" height="4.60" fill="#4a66e2" fill-opacity="0.3" stroke="#4a66e2" stroke-width="1.5"/>
<rect x="553.92" y="398.01" width="4.60" height="4.60" fill="#4a66e2" fill-opacity="0.3" stroke="#4a66e2" stroke-width="1.5"/>
<rect x="578.52" y="386.17" width="4.60" height="4.60" fill="#4a66e2" fill-opacity="0.3" stroke="#4a66e2" stroke-width="1.5"/>
<rect x="603.11" y="370.98" width="4.60" height="4.60" fill="#4a66e2" fill-opacity="0.3" stroke="#4a66e2" stroke-width="1.5"/>
<rect x="627.71" y="357.87" width="4.60" height="4.60" fill="#4a66e2" fill-opacity="0.3" stroke="#4a66e2" stroke-width="1.5"/>
<rect x="652.30" y="342.89" width="4.60" height="4.60" fill="#4a66e2" fill-opacity="0.3" stroke="#4a66e2" stroke-width="1.5"/>
<path d="M408.66 422.90V418.61M407.06 422.90h3.20M407.06 418.61h3.20" stroke="#22cdd0" stroke-width="1.35"/>
<path d="M433.25 416.13V411.84M431.65 416.13h3.20M431.65 411.84h3.20" stroke="#22cdd0" stroke-width="1.35"/>
<path d="M457.85 412.10V407.81M456.25 412.10h3.20M456.25 407.81h3.20" stroke="#22cdd0" stroke-width="1.35"/>
<path d="M482.44 416.13V411.84M480.84 416.13h3.20M480.84 411.84h3.20" stroke="#22cdd0" stroke-width="1.35"/>
<path d="M507.04 415.09V410.80M505.44 415.09h3.20M505.44 410.80h3.20" stroke="#22cdd0" stroke-width="1.35"/>
<path d="M531.63 410.83V406.53M530.03 410.83h3.20M530.03 406.53h3.20" stroke="#22cdd0" stroke-width="1.35"/>
<path d="M556.22 405.49V401.20M554.62 405.49h3.20M554.62 401.20h3.20" stroke="#22cdd0" stroke-width="1.35"/>
<path d="M580.82 396.57V392.27M579.22 396.57h3.20M579.22 392.27h3.20" stroke="#22cdd0" stroke-width="1.35"/>
<path d="M605.41 382.73V378.44M603.81 382.73h3.20M603.81 378.44h3.20" stroke="#22cdd0" stroke-width="1.35"/>
<path d="M630.01 369.19V364.89M628.41 369.19h3.20M628.41 364.89h3.20" stroke="#22cdd0" stroke-width="1.35"/>
<path d="M654.60 350.03V345.73M653.00 350.03h3.20M653.00 345.73h3.20" stroke="#22cdd0" stroke-width="1.35"/>
<path d="M406.46 418.51L410.86 422.91M406.46 422.91L410.86 418.51" stroke="#22cdd0" stroke-width="1.3"/>
<path d="M431.05 411.74L435.45 416.14M431.05 416.14L435.45 411.74" stroke="#22cdd0" stroke-width="1.3"/>
<path d="M455.65 407.71L460.05 412.11M455.65 412.11L460.05 407.71" stroke="#22cdd0" stroke-width="1.3"/>
<path d="M480.24 411.74L484.64 416.14M480.24 416.14L484.64 411.74" stroke="#22cdd0" stroke-width="1.3"/>
<path d="M504.84 410.70L509.24 415.10M504.84 415.10L509.24 410.70" stroke="#22cdd0" stroke-width="1.3"/>
<path d="M529.43 406.43L533.83 410.83M529.43 410.83L533.83 406.43" stroke="#22cdd0" stroke-width="1.3"/>
<path d="M554.02 401.10L558.42 405.50M554.02 405.50L558.42 401.10" stroke="#22cdd0" stroke-width="1.3"/>
<path d="M578.62 392.17L583.02 396.57M578.62 396.57L583.02 392.17" stroke="#22cdd0" stroke-width="1.3"/>
<path d="M603.21 378.33L607.61 382.73M603.21 382.73L607.61 378.33" stroke="#22cdd0" stroke-width="1.3"/>
<path d="M627.81 364.79L632.21 369.19M627.81 369.19L632.21 364.79" stroke="#22cdd0" stroke-width="1.3"/>
<path d="M652.40 345.63L656.80 350.03M652.40 350.03L656.80 345.63" stroke="#22cdd0" stroke-width="1.3"/>
<path d="M408.66 509.58V455.40M407.06 509.58h3.20M407.06 455.40h3.20" stroke="#b33333" stroke-width="1.35"/>
<path d="M433.25 575.60V469.52M431.65 575.60h3.20M431.65 469.52h3.20" stroke="#b33333" stroke-width="1.35"/>
<path d="M457.85 575.60V455.40M456.25 575.60h3.20M456.25 455.40h3.20" stroke="#b33333" stroke-width="1.35"/>
<path d="M482.44 529.31V457.98M480.84 529.31h3.20M480.84 457.98h3.20" stroke="#b33333" stroke-width="1.35"/>
<path d="M507.04 483.99V435.79M505.44 483.99h3.20M505.44 435.79h3.20" stroke="#b33333" stroke-width="1.35"/>
<path d="M531.63 455.40V416.09M530.03 455.40h3.20M530.03 416.09h3.20" stroke="#b33333" stroke-width="1.35"/>
<path d="M556.22 439.84V402.19M554.62 439.84h3.20M554.62 402.19h3.20" stroke="#b33333" stroke-width="1.35"/>
<path d="M580.82 417.96V383.59M579.22 417.96h3.20M579.22 383.59h3.20" stroke="#b33333" stroke-width="1.35"/>
<path d="M605.41 396.27V366.60M603.81 396.27h3.20M603.81 366.60h3.20" stroke="#b33333" stroke-width="1.35"/>
<path d="M630.01 376.85V352.82M628.41 376.85h3.20M628.41 352.82h3.20" stroke="#b33333" stroke-width="1.35"/>
<path d="M654.60 357.95V338.61M653.00 357.95h3.20M653.00 338.61h3.20" stroke="#b33333" stroke-width="1.35"/>
<rect x="406.36" y="472.69" width="4.60" height="4.60" fill="#b33333" fill-opacity="0.3" stroke="#b33333" stroke-width="1.5"/>
<rect x="430.95" y="500.72" width="4.60" height="4.60" fill="#b33333" fill-opacity="0.3" stroke="#b33333" stroke-width="1.5"/>
<rect x="455.55" y="489.63" width="4.60" height="4.60" fill="#b33333" fill-opacity="0.3" stroke="#b33333" stroke-width="1.5"/>
<rect x="480.14" y="479.02" width="4.60" height="4.60" fill="#b33333" fill-opacity="0.3" stroke="#b33333" stroke-width="1.5"/>
<rect x="504.74" y="451.46" width="4.60" height="4.60" fill="#b33333" fill-opacity="0.3" stroke="#b33333" stroke-width="1.5"/>
<rect x="529.33" y="429.76" width="4.60" height="4.60" fill="#b33333" fill-opacity="0.3" stroke="#b33333" stroke-width="1.5"/>
<rect x="553.92" y="413.79" width="4.60" height="4.60" fill="#b33333" fill-opacity="0.3" stroke="#b33333" stroke-width="1.5"/>
<rect x="578.52" y="394.95" width="4.60" height="4.60" fill="#b33333" fill-opacity="0.3" stroke="#b33333" stroke-width="1.5"/>
<rect x="603.11" y="376.69" width="4.60" height="4.60" fill="#b33333" fill-opacity="0.3" stroke="#b33333" stroke-width="1.5"/>
<rect x="627.71" y="360.43" width="4.60" height="4.60" fill="#b33333" fill-opacity="0.3" stroke="#b33333" stroke-width="1.5"/>
<rect x="652.30" y="344.15" width="4.60" height="4.60" fill="#b33333" fill-opacity="0.3" stroke="#b33333" stroke-width="1.5"/>
<path d="M408.66 498.45V494.16M407.06 498.45h3.20M407.06 494.16h3.20" stroke="#b27cf2" stroke-width="1.35"/>
<path d="M433.25 531.11V526.82M431.65 531.11h3.20M431.65 526.82h3.20" stroke="#b27cf2" stroke-width="1.35"/>
<path d="M457.85 482.80V478.51M456.25 482.80h3.20M456.25 478.51h3.20" stroke="#b27cf2" stroke-width="1.35"/>
<path d="M482.44 475.45V471.16M480.84 475.45h3.20M480.84 471.16h3.20" stroke="#b27cf2" stroke-width="1.35"/>
<path d="M507.04 451.12V446.82M505.44 451.12h3.20M505.44 446.82h3.20" stroke="#b27cf2" stroke-width="1.35"/>
<path d="M531.63 434.26V429.96M530.03 434.26h3.20M530.03 429.96h3.20" stroke="#b27cf2" stroke-width="1.35"/>
<path d="M556.22 419.40V415.10M554.62 419.40h3.20M554.62 415.10h3.20" stroke="#b27cf2" stroke-width="1.35"/>
<path d="M580.82 401.46V397.17M579.22 401.46h3.20M579.22 397.17h3.20" stroke="#b27cf2" stroke-width="1.35"/>
<path d="M605.41 384.68V380.39M603.81 384.68h3.20M603.81 380.39h3.20" stroke="#b27cf2" stroke-width="1.35"/>
<path d="M630.01 369.19V364.89M628.41 369.19h3.20M628.41 364.89h3.20" stroke="#b27cf2" stroke-width="1.35"/>
<path d="M654.60 351.00V346.71M653.00 351.00h3.20M653.00 346.71h3.20" stroke="#b27cf2" stroke-width="1.35"/>
<path d="M406.46 494.06L410.86 498.46M406.46 498.46L410.86 494.06" stroke="#b27cf2" stroke-width="1.3"/>
<path d="M431.05 526.72L435.45 531.12M431.05 531.12L435.45 526.72" stroke="#b27cf2" stroke-width="1.3"/>
<path d="M455.65 478.41L460.05 482.81M455.65 482.81L460.05 478.41" stroke="#b27cf2" stroke-width="1.3"/>
<path d="M480.24 471.06L484.64 475.46M480.24 475.46L484.64 471.06" stroke="#b27cf2" stroke-width="1.3"/>
<path d="M504.84 446.72L509.24 451.12M504.84 451.12L509.24 446.72" stroke="#b27cf2" stroke-width="1.3"/>
<path d="M529.43 429.86L533.83 434.26M529.43 434.26L533.83 429.86" stroke="#b27cf2" stroke-width="1.3"/>
<path d="M554.02 415.00L558.42 419.40M554.02 419.40L558.42 415.00" stroke="#b27cf2" stroke-width="1.3"/>
<path d="M578.62 397.06L583.02 401.46M578.62 401.46L583.02 397.06" stroke="#b27cf2" stroke-width="1.3"/>
<path d="M603.21 380.29L607.61 384.69M603.21 384.69L607.61 380.29" stroke="#b27cf2" stroke-width="1.3"/>
<path d="M627.81 364.79L632.21 369.19M627.81 369.19L632.21 364.79" stroke="#b27cf2" stroke-width="1.3"/>
<path d="M652.40 346.61L656.80 351.01M652.40 351.01L656.80 346.61" stroke="#b27cf2" stroke-width="1.3"/>
</g>
<rect x="406.70" y="319.40" width="251.20" height="251.20" fill="none" stroke="#1a1a1a" stroke-width="1.6"/>
<path d="M409.50 570.60v-5M409.50 319.40v5M434.09 570.60v-3M434.09 319.40v3M448.48 570.60v-3M448.48 319.40v3M458.69 570.60v-3M458.69 319.40v3M466.61 570.60v-3M466.61 319.40v3M473.07 570.60v-3M473.07 319.40v3M478.54 570.60v-3M478.54 319.40v3M483.28 570.60v-3M483.28 319.40v3M487.46 570.60v-3M487.46 319.40v3M491.20 570.60v-5M491.20 319.40v5M515.79 570.60v-3M515.79 319.40v3M530.18 570.60v-3M530.18 319.40v3M540.39 570.60v-3M540.39 319.40v3M548.31 570.60v-3M548.31 319.40v3M554.77 570.60v-3M554.77 319.40v3M560.24 570.60v-3M560.24 319.40v3M564.98 570.60v-3M564.98 319.40v3M569.16 570.60v-3M569.16 319.40v3M572.90 570.60v-5M572.90 319.40v5M597.49 570.60v-3M597.49 319.40v3M611.88 570.60v-3M611.88 319.40v3M622.09 570.60v-3M622.09 319.40v3M630.01 570.60v-3M630.01 319.40v3M636.47 570.60v-3M636.47 319.40v3M641.94 570.60v-3M641.94 319.40v3M646.68 570.60v-3M646.68 319.40v3M650.86 570.60v-3M650.86 319.40v3M654.60 570.60v-5M654.60 319.40v5M406.70 562.76h3M657.90 562.76h-3M406.70 555.41h3M657.90 555.41h-3M406.70 549.04h3M657.90 549.04h-3M406.70 543.42h3M657.90 543.42h-3M406.70 538.40h5M657.90 538.40h-5M406.70 505.35h3M657.90 505.35h-3M406.70 486.01h3M657.90 486.01h-3M406.70 472.29h3M657.90 472.29h-3M406.70 461.65h3M657.90 461.65h-3M406.70 452.96h3M657.90 452.96h-3M406.70 445.61h3M657.90 445.61h-3M406.70 439.24h3M657.90 439.24h-3M406.70 433.62h3M657.90 433.62h-3M406.70 428.60h5M657.90 428.60h-5M406.70 395.55h3M657.90 395.55h-3M406.70 376.21h3M657.90 376.21h-3M406.70 362.49h3M657.90 362.49h-3M406.70 351.85h3M657.90 351.85h-3M406.70 343.16h3M657.90 343.16h-3M406.70 335.81h3M657.90 335.81h-3M406.70 329.44h3M657.90 329.44h-3M406.70 323.82h3M657.90 323.82h-3" stroke="#111" stroke-width="1.1" fill="none"/>
<clipPath id="clipL2"><rect x="58.20" y="634.50" width="251.20" height="251.20"/></clipPath>
<text x="61.00" y="902.50" class="tl" text-anchor="middle">0.001</text>
<text x="142.70" y="902.50" class="tl" text-anchor="middle">0.01</text>
<text x="224.40" y="902.50" class="tl" text-anchor="middle">0.1</text>
<text x="306.10" y="902.50" class="tl" text-anchor="middle">1</text>
<text x="50.80" y="890.20" class="tl" text-anchor="end">0</text>
<text x="50.80" y="858.80" class="tl" text-anchor="end">0.1</text>
<text x="50.80" y="827.40" class="tl" text-anchor="end">0.2</text>
<text x="50.80" y="796.00" class="tl" text-anchor="end">0.3</text>
<text x="50.80" y="764.60" class="tl" text-anchor="end">0.4</text>
<text x="50.80" y="733.20" class="tl" text-anchor="end">0.5</text>
<text x="50.80" y="701.80" class="tl" text-anchor="end">0.6</text>
<text x="50.80" y="670.40" class="tl" text-anchor="end">0.7</text>
<text x="50.80" y="639.00" class="tl" text-anchor="end">0.8</text>
<text x="181.10" y="920.10" class="at" text-anchor="middle">Melanin concentration [a.u.]</text>
<text transform="translate(21.30,761.30) rotate(-90)" class="at ay" text-anchor="middle">Entropy [a.u.]</text>
<text x="-0.80" y="648.60" class="pl">(e)</text>
<g clip-path="url(#clipL2)">
<path d="M58.20 843.68 L59.77 843.64 L61.34 843.60 L62.91 843.56 L64.48 843.52 L66.05 843.47 L67.62 843.43 L69.19 843.38 L70.76 843.34 L72.33 843.29 L73.90 843.24 L75.47 843.19 L77.04 843.13 L78.61 843.08 L80.18 843.02 L81.75 842.96 L83.32 842.90 L84.89 842.84 L86.46 842.78 L88.03 842.71 L89.60 842.64 L91.17 842.57 L92.74 842.50 L94.31 842.43 L95.88 842.35 L97.45 842.27 L99.02 842.19 L100.59 842.10 L102.16 842.01 L103.73 841.92 L105.30 841.83 L106.87 841.74 L108.44 841.64 L110.01 841.53 L111.58 841.43 L113.15 841.32 L114.72 841.21 L116.29 841.09 L117.86 840.97 L119.43 840.85 L121.00 840.72 L122.57 840.59 L124.14 840.46 L125.71 840.32 L127.28 840.18 L128.85 840.03 L130.42 839.88 L131.99 839.72 L133.56 839.56 L135.13 839.39 L136.70 839.22 L138.27 839.04 L139.84 838.85 L141.41 838.66 L142.98 838.47 L144.55 838.27 L146.12 838.06 L147.69 837.85 L149.26 837.62 L150.83 837.40 L152.40 837.16 L153.97 836.92 L155.54 836.67 L157.11 836.41 L158.68 836.14 L160.25 835.87 L161.82 835.58 L163.39 835.29 L164.96 834.99 L166.53 834.68 L168.10 834.36 L169.67 834.03 L171.24 833.68 L172.81 833.33 L174.38 832.97 L175.95 832.59 L177.52 832.21 L179.09 831.81 L180.66 831.40 L182.23 830.97 L183.80 830.54 L185.37 830.09 L186.94 829.62 L188.51 829.14 L190.08 828.65 L191.65 828.13 L193.22 827.61 L194.79 827.06 L196.36 826.50 L197.93 825.93 L199.50 825.33 L201.07 824.71 L202.64 824.08 L204.21 823.43 L205.78 822.75 L207.35 822.05 L208.92 821.34 L210.49 820.60 L212.06 819.83 L213.63 819.04 L215.20 818.23 L216.77 817.39 L218.34 816.53 L219.91 815.64 L221.48 814.72 L223.05 813.77 L224.62 812.79 L226.19 811.78 L227.76 810.74 L229.33 809.66 L230.90 808.56 L232.47 807.41 L234.04 806.23 L235.61 805.02 L237.18 803.77 L238.75 802.47 L240.32 801.14 L241.89 799.76 L243.46 798.34 L245.03 796.88 L246.60 795.37 L248.17 793.81 L249.74 792.20 L251.31 790.55 L252.88 788.84 L254.45 787.07 L256.02 785.26 L257.59 783.38 L259.16 781.45 L260.73 779.45 L262.30 777.39 L263.87 775.27 L265.44 773.08 L267.01 770.82 L268.58 768.49 L270.15 766.09 L271.72 763.61 L273.29 761.05 L274.86 758.42 L276.43 755.70 L278.00 752.89 L279.57 750.00 L281.14 747.01 L282.71 743.93 L284.28 740.75 L285.85 737.48 L287.42 734.10 L288.99 730.61 L290.56 727.00 L292.13 723.28 L293.70 719.43 L295.27 715.45 L296.84 711.31 L298.41 706.99 L299.98 702.45 L301.55 697.64 L303.12 692.44 L304.69 686.68 L306.26 680.06 L307.83 672.08 L309.40 661.89" stroke="#4a66e2" stroke-width="1.6" fill="none"/>
<path d="M58.20 835.61 L59.77 835.58 L61.34 835.56 L62.91 835.53 L64.48 835.50 L66.05 835.47 L67.62 835.44 L69.19 835.40 L70.76 835.37 L72.33 835.34 L73.90 835.30 L75.47 835.26 L77.04 835.22 L78.61 835.19 L80.18 835.14 L81.75 835.10 L83.32 835.06 L84.89 835.01 L86.46 834.97 L88.03 834.92 L89.60 834.87 L91.17 834.81 L92.74 834.76 L94.31 834.71 L95.88 834.65 L97.45 834.59 L99.02 834.53 L100.59 834.47 L102.16 834.40 L103.73 834.33 L105.30 834.26 L106.87 834.19 L108.44 834.12 L110.01 834.04 L111.58 833.96 L113.15 833.88 L114.72 833.79 L116.29 833.70 L117.86 833.61 L119.43 833.52 L121.00 833.42 L122.57 833.32 L124.14 833.22 L125.71 833.11 L127.28 833.00 L128.85 832.88 L130.42 832.76 L131.99 832.64 L133.56 832.51 L135.13 832.38 L136.70 832.25 L138.27 832.11 L139.84 831.96 L141.41 831.81 L142.98 831.66 L144.55 831.50 L146.12 831.33 L147.69 831.16 L149.26 830.98 L150.83 830.80 L152.40 830.61 L153.97 830.42 L155.54 830.21 L157.11 830.01 L158.68 829.79 L160.25 829.57 L161.82 829.34 L163.39 829.10 L164.96 828.85 L166.53 828.60 L168.10 828.33 L169.67 828.06 L171.24 827.78 L172.81 827.49 L174.38 827.19 L175.95 826.88 L177.52 826.56 L179.09 826.22 L180.66 825.88 L182.23 825.53 L183.80 825.16 L185.37 824.78 L186.94 824.39 L188.51 823.98 L190.08 823.56 L191.65 823.13 L193.22 822.68 L194.79 822.22 L196.36 821.74 L197.93 821.24 L199.50 820.73 L201.07 820.20 L202.64 819.66 L204.21 819.09 L205.78 818.51 L207.35 817.90 L208.92 817.28 L210.49 816.64 L212.06 815.97 L213.63 815.28 L215.20 814.57 L216.77 813.83 L218.34 813.07 L219.91 812.28 L221.48 811.47 L223.05 810.63 L224.62 809.76 L226.19 808.86 L227.76 807.93 L229.33 806.97 L230.90 805.97 L232.47 804.95 L234.04 803.88 L235.61 802.79 L237.18 801.65 L238.75 800.48 L240.32 799.27 L241.89 798.02 L243.46 796.72 L245.03 795.38 L246.60 794.00 L248.17 792.57 L249.74 791.09 L251.31 789.56 L252.88 787.98 L254.45 786.34 L256.02 784.65 L257.59 782.91 L259.16 781.10 L260.73 779.24 L262.30 777.31 L263.87 775.31 L265.44 773.25 L267.01 771.12 L268.58 768.92 L270.15 766.64 L271.72 764.29 L273.29 761.86 L274.86 759.34 L276.43 756.74 L278.00 754.05 L279.57 751.27 L281.14 748.40 L282.71 745.43 L284.28 742.36 L285.85 739.18 L287.42 735.90 L288.99 732.51 L290.56 728.99 L292.13 725.36 L293.70 721.59 L295.27 717.69 L296.84 713.63 L298.41 709.40 L299.98 704.95 L301.55 700.25 L303.12 695.21 L304.69 689.68 L306.26 683.43 L307.83 676.06 L309.40 666.89" stroke="#22cdd0" stroke-width="1.6" fill="none"/>
<path d="M58.20 881.59 L59.77 881.49 L61.34 881.39 L62.91 881.28 L64.48 881.17 L66.05 881.06 L67.62 880.95 L69.19 880.83 L70.76 880.71 L72.33 880.59 L73.90 880.46 L75.47 880.33 L77.04 880.20 L78.61 880.07 L80.18 879.93 L81.75 879.79 L83.32 879.64 L84.89 879.49 L86.46 879.34 L88.03 879.18 L89.60 879.02 L91.17 878.86 L92.74 878.69 L94.31 878.51 L95.88 878.34 L97.45 878.16 L99.02 877.97 L100.59 877.78 L102.16 877.58 L103.73 877.38 L105.30 877.18 L106.87 876.97 L108.44 876.75 L110.01 876.53 L111.58 876.31 L113.15 876.08 L114.72 875.84 L116.29 875.60 L117.86 875.35 L119.43 875.09 L121.00 874.83 L122.57 874.56 L124.14 874.29 L125.71 874.01 L127.28 873.72 L128.85 873.42 L130.42 873.12 L131.99 872.81 L133.56 872.50 L135.13 872.17 L136.70 871.84 L138.27 871.50 L139.84 871.15 L141.41 870.79 L142.98 870.42 L144.55 870.04 L146.12 869.66 L147.69 869.26 L149.26 868.86 L150.83 868.44 L152.40 868.02 L153.97 867.58 L155.54 867.13 L157.11 866.68 L158.68 866.21 L160.25 865.73 L161.82 865.24 L163.39 864.73 L164.96 864.22 L166.53 863.69 L168.10 863.14 L169.67 862.59 L171.24 862.02 L172.81 861.44 L174.38 860.84 L175.95 860.23 L177.52 859.60 L179.09 858.96 L180.66 858.30 L182.23 857.62 L183.80 856.93 L185.37 856.22 L186.94 855.49 L188.51 854.75 L190.08 853.99 L191.65 853.21 L193.22 852.41 L194.79 851.59 L196.36 850.75 L197.93 849.89 L199.50 849.00 L201.07 848.10 L202.64 847.17 L204.21 846.22 L205.78 845.25 L207.35 844.25 L208.92 843.23 L210.49 842.19 L212.06 841.12 L213.63 840.02 L215.20 838.89 L216.77 837.74 L218.34 836.56 L219.91 835.35 L221.48 834.11 L223.05 832.83 L224.62 831.53 L226.19 830.20 L227.76 828.83 L229.33 827.43 L230.90 825.99 L232.47 824.52 L234.04 823.02 L235.61 821.47 L237.18 819.89 L238.75 818.27 L240.32 816.61 L241.89 814.91 L243.46 813.16 L245.03 811.37 L246.60 809.54 L248.17 807.67 L249.74 805.74 L251.31 803.78 L252.88 801.76 L254.45 799.69 L256.02 797.57 L257.59 795.40 L259.16 793.17 L260.73 790.90 L262.30 788.56 L263.87 786.17 L265.44 783.71 L267.01 781.20 L268.58 778.63 L270.15 775.99 L271.72 773.29 L273.29 770.52 L274.86 767.68 L276.43 764.77 L278.00 761.79 L279.57 758.74 L281.14 755.61 L282.71 752.41 L284.28 749.12 L285.85 745.76 L287.42 742.31 L288.99 738.77 L290.56 735.15 L292.13 731.43 L293.70 727.61 L295.27 723.69 L296.84 719.65 L298.41 715.47 L299.98 711.14 L301.55 706.60 L303.12 701.77 L304.69 696.55 L306.26 690.70 L307.83 683.88 L309.40 675.48" stroke="#b33333" stroke-width="1.6" fill="none"/>
<path d="M58.20 879.78 L59.77 879.65 L61.34 879.51 L62.91 879.38 L64.48 879.23 L66.05 879.09 L67.62 878.94 L69.19 878.79 L70.76 878.64 L72.33 878.48 L73.90 878.32 L75.47 878.15 L77.04 877.98 L78.61 877.81 L80.18 877.63 L81.75 877.45 L83.32 877.27 L84.89 877.08 L86.46 876.89 L88.03 876.69 L89.60 876.49 L91.17 876.28 L92.74 876.07 L94.31 875.86 L95.88 875.64 L97.45 875.41 L99.02 875.18 L100.59 874.95 L102.16 874.70 L103.73 874.46 L105.30 874.21 L106.87 873.95 L108.44 873.69 L110.01 873.42 L111.58 873.14 L113.15 872.86 L114.72 872.58 L116.29 872.28 L117.86 871.98 L119.43 871.67 L121.00 871.36 L122.57 871.04 L124.14 870.71 L125.71 870.38 L127.28 870.03 L128.85 869.68 L130.42 869.33 L131.99 868.96 L133.56 868.58 L135.13 868.20 L136.70 867.81 L138.27 867.41 L139.84 867.00 L141.41 866.58 L142.98 866.16 L144.55 865.72 L146.12 865.27 L147.69 864.81 L149.26 864.35 L150.83 863.87 L152.40 863.38 L153.97 862.88 L155.54 862.37 L157.11 861.85 L158.68 861.32 L160.25 860.77 L161.82 860.21 L163.39 859.64 L164.96 859.06 L166.53 858.46 L168.10 857.85 L169.67 857.23 L171.24 856.59 L172.81 855.94 L174.38 855.28 L175.95 854.60 L177.52 853.90 L179.09 853.19 L180.66 852.46 L182.23 851.72 L183.80 850.96 L185.37 850.18 L186.94 849.39 L188.51 848.57 L190.08 847.74 L191.65 846.89 L193.22 846.03 L194.79 845.14 L196.36 844.23 L197.93 843.30 L199.50 842.36 L201.07 841.39 L202.64 840.39 L204.21 839.38 L205.78 838.34 L207.35 837.29 L208.92 836.20 L210.49 835.10 L212.06 833.96 L213.63 832.81 L215.20 831.62 L216.77 830.41 L218.34 829.18 L219.91 827.91 L221.48 826.62 L223.05 825.30 L224.62 823.95 L226.19 822.56 L227.76 821.15 L229.33 819.71 L230.90 818.23 L232.47 816.72 L234.04 815.18 L235.61 813.60 L237.18 811.99 L238.75 810.34 L240.32 808.65 L241.89 806.93 L243.46 805.17 L245.03 803.37 L246.60 801.52 L248.17 799.64 L249.74 797.72 L251.31 795.75 L252.88 793.74 L254.45 791.68 L256.02 789.58 L257.59 787.43 L259.16 785.23 L260.73 782.98 L262.30 780.68 L263.87 778.33 L265.44 775.93 L267.01 773.47 L268.58 770.96 L270.15 768.40 L271.72 765.77 L273.29 763.09 L274.86 760.35 L276.43 757.54 L278.00 754.68 L279.57 751.74 L281.14 748.75 L282.71 745.68 L284.28 742.55 L285.85 739.35 L287.42 736.07 L288.99 732.72 L290.56 729.29 L292.13 725.79 L293.70 722.19 L295.27 718.51 L296.84 714.73 L298.41 710.83 L299.98 706.79 L301.55 702.57 L303.12 698.11 L304.69 693.29 L306.26 687.93 L307.83 681.71 L309.40 674.08" stroke="#b27cf2" stroke-width="1.6" fill="none"/>
<path d="M60.16 864.54V845.51M58.56 864.54h3.20M58.56 845.51h3.20" stroke="#4a66e2" stroke-width="1.35"/>
<path d="M84.75 859.26V835.46M83.15 859.26h3.20M83.15 835.46h3.20" stroke="#4a66e2" stroke-width="1.35"/>
<path d="M109.35 852.73V828.24M107.75 852.73h3.20M107.75 828.24h3.20" stroke="#4a66e2" stroke-width="1.35"/>
<path d="M133.94 848.96V827.61M132.34 848.96h3.20M132.34 827.61h3.20" stroke="#4a66e2" stroke-width="1.35"/>
<path d="M158.54 847.08V824.78M156.94 847.08h3.20M156.94 824.78h3.20" stroke="#4a66e2" stroke-width="1.35"/>
<path d="M183.13 843.00V817.88M181.53 843.00h3.20M181.53 817.88h3.20" stroke="#4a66e2" stroke-width="1.35"/>
<path d="M207.72 832.95V807.20M206.12 832.95h3.20M206.12 807.20h3.20" stroke="#4a66e2" stroke-width="1.35"/>
<path d="M232.32 821.33V786.16M230.72 821.33h3.20M230.72 786.16h3.20" stroke="#4a66e2" stroke-width="1.35"/>
<path d="M256.91 806.26V748.17M255.31 806.26h3.20M255.31 748.17h3.20" stroke="#4a66e2" stroke-width="1.35"/>
<path d="M281.51 777.37V703.58M279.91 777.37h3.20M279.91 703.58h3.20" stroke="#4a66e2" stroke-width="1.35"/>
<path d="M306.10 731.84V615.66M304.50 731.84h3.20M304.50 615.66h3.20" stroke="#4a66e2" stroke-width="1.35"/>
<rect x="57.86" y="852.63" width="4.60" height="4.60" fill="#4a66e2" fill-opacity="0.3" stroke="#4a66e2" stroke-width="1.5"/>
<rect x="82.45" y="845.09" width="4.60" height="4.60" fill="#4a66e2" fill-opacity="0.3" stroke="#4a66e2" stroke-width="1.5"/>
<rect x="107.05" y="837.56" width="4.60" height="4.60" fill="#4a66e2" fill-opacity="0.3" stroke="#4a66e2" stroke-width="1.5"/>
<rect x="131.64" y="836.30" width="4.60" height="4.60" fill="#4a66e2" fill-opacity="0.3" stroke="#4a66e2" stroke-width="1.5"/>
<rect x="156.24" y="833.47" width="4.60" height="4.60" fill="#4a66e2" fill-opacity="0.3" stroke="#4a66e2" stroke-width="1.5"/>
<rect x="180.83" y="830.02" width="4.60" height="4.60" fill="#4a66e2" fill-opacity="0.3" stroke="#4a66e2" stroke-width="1.5"/>
<rect x="205.42" y="820.29" width="4.60" height="4.60" fill="#4a66e2" fill-opacity="0.3" stroke="#4a66e2" stroke-width="1.5"/>
<rect x="230.02" y="802.39" width="4.60" height="4.60" fill="#4a66e2" fill-opacity="0.3" stroke="#4a66e2" stroke-width="1.5"/>
<rect x="254.61" y="773.50" width="4.60" height="4.60" fill="#4a66e2" fill-opacity="0.3" stroke="#4a66e2" stroke-width="1.5"/>
<rect x="279.21" y="738.33" width="4.60" height="4.60" fill="#4a66e2" fill-opacity="0.3" stroke="#4a66e2" stroke-width="1.5"/>
<rect x="303.80" y="680.56" width="4.60" height="4.60" fill="#4a66e2" fill-opacity="0.3" stroke="#4a66e2" stroke-width="1.5"/>
<path d="M60.16 847.32V843.70M58.56 847.32h3.20M58.56 843.70h3.20" stroke="#22cdd0" stroke-width="1.35"/>
<path d="M84.75 836.52V831.89M83.15 836.52h3.20M83.15 831.89h3.20" stroke="#22cdd0" stroke-width="1.35"/>
<path d="M109.35 831.42V826.31M107.75 831.42h3.20M107.75 826.31h3.20" stroke="#22cdd0" stroke-width="1.35"/>
<path d="M133.94 836.52V831.89M132.34 836.52h3.20M132.34 831.89h3.20" stroke="#22cdd0" stroke-width="1.35"/>
<path d="M158.54 835.62V830.90M156.94 835.62h3.20M156.94 830.90h3.20" stroke="#22cdd0" stroke-width="1.35"/>
<path d="M183.13 830.22V825.00M181.53 830.22h3.20M181.53 825.00h3.20" stroke="#22cdd0" stroke-width="1.35"/>
<path d="M207.72 823.63V817.78M206.12 823.63h3.20M206.12 817.78h3.20" stroke="#22cdd0" stroke-width="1.35"/>
<path d="M232.32 806.53V799.07M230.72 806.53h3.20M230.72 799.07h3.20" stroke="#22cdd0" stroke-width="1.35"/>
<path d="M256.91 778.65V768.56M255.31 778.65h3.20M255.31 768.56h3.20" stroke="#22cdd0" stroke-width="1.35"/>
<path d="M281.51 744.76V731.48M279.91 744.76h3.20M279.91 731.48h3.20" stroke="#22cdd0" stroke-width="1.35"/>
<path d="M306.10 691.98V673.73M304.50 691.98h3.20M304.50 673.73h3.20" stroke="#22cdd0" stroke-width="1.35"/>
<path d="M57.96 843.31L62.36 847.71M57.96 847.71L62.36 843.31" stroke="#22cdd0" stroke-width="1.3"/>
<path d="M82.55 832.00L86.95 836.40M82.55 836.40L86.95 832.00" stroke="#22cdd0" stroke-width="1.3"/>
<path d="M107.15 826.67L111.55 831.07M107.15 831.07L111.55 826.67" stroke="#22cdd0" stroke-width="1.3"/>
<path d="M131.74 832.00L136.14 836.40M131.74 836.40L136.14 832.00" stroke="#22cdd0" stroke-width="1.3"/>
<path d="M156.34 831.06L160.74 835.46M156.34 835.46L160.74 831.06" stroke="#22cdd0" stroke-width="1.3"/>
<path d="M180.93 825.41L185.33 829.81M180.93 829.81L185.33 825.41" stroke="#22cdd0" stroke-width="1.3"/>
<path d="M205.52 818.50L209.92 822.90M205.52 822.90L209.92 818.50" stroke="#22cdd0" stroke-width="1.3"/>
<path d="M230.12 800.60L234.52 805.00M230.12 805.00L234.52 800.60" stroke="#22cdd0" stroke-width="1.3"/>
<path d="M254.71 771.40L259.11 775.80M254.71 775.80L259.11 771.40" stroke="#22cdd0" stroke-width="1.3"/>
<path d="M279.31 735.92L283.71 740.32M279.31 740.32L283.71 735.92" stroke="#22cdd0" stroke-width="1.3"/>
<path d="M303.90 680.66L308.30 685.06M303.90 685.06L308.30 680.66" stroke="#22cdd0" stroke-width="1.3"/>
<path d="M60.16 885.39V881.12M58.56 885.39h3.20M58.56 881.12h3.20" stroke="#b33333" stroke-width="1.35"/>
<path d="M84.75 885.39V872.14M83.15 885.39h3.20M83.15 872.14h3.20" stroke="#b33333" stroke-width="1.35"/>
<path d="M109.35 885.39V864.98M107.75 885.39h3.20M107.75 864.98h3.20" stroke="#b33333" stroke-width="1.35"/>
<path d="M133.94 885.39V872.29M132.34 885.39h3.20M132.34 872.29h3.20" stroke="#b33333" stroke-width="1.35"/>
<path d="M158.54 879.67V861.84M156.94 879.67h3.20M156.94 861.84h3.20" stroke="#b33333" stroke-width="1.35"/>
<path d="M183.13 870.00V844.88M181.53 870.00h3.20M181.53 844.88h3.20" stroke="#b33333" stroke-width="1.35"/>
<path d="M207.72 861.21V827.61M206.12 861.21h3.20M206.12 827.61h3.20" stroke="#b33333" stroke-width="1.35"/>
<path d="M232.32 846.45V804.69M230.72 846.45h3.20M230.72 804.69h3.20" stroke="#b33333" stroke-width="1.35"/>
<path d="M256.91 823.21V762.93M255.31 823.21h3.20M255.31 762.93h3.20" stroke="#b33333" stroke-width="1.35"/>
<path d="M281.51 788.36V719.28M279.91 788.36h3.20M279.91 719.28h3.20" stroke="#b33333" stroke-width="1.35"/>
<path d="M306.10 740.63V651.77M304.50 740.63h3.20M304.50 651.77h3.20" stroke="#b33333" stroke-width="1.35"/>
<rect x="57.86" y="881.33" width="4.60" height="4.60" fill="#b33333" fill-opacity="0.3" stroke="#b33333" stroke-width="1.5"/>
<rect x="82.45" y="876.34" width="4.60" height="4.60" fill="#b33333" fill-opacity="0.3" stroke="#b33333" stroke-width="1.5"/>
<rect x="107.05" y="875.33" width="4.60" height="4.60" fill="#b33333" fill-opacity="0.3" stroke="#b33333" stroke-width="1.5"/>
<rect x="131.64" y="875.96" width="4.60" height="4.60" fill="#b33333" fill-opacity="0.3" stroke="#b33333" stroke-width="1.5"/>
<rect x="156.24" y="868.33" width="4.60" height="4.60" fill="#b33333" fill-opacity="0.3" stroke="#b33333" stroke-width="1.5"/>
<rect x="180.83" y="855.01" width="4.60" height="4.60" fill="#b33333" fill-opacity="0.3" stroke="#b33333" stroke-width="1.5"/>
<rect x="205.42" y="842.27" width="4.60" height="4.60" fill="#b33333" fill-opacity="0.3" stroke="#b33333" stroke-width="1.5"/>
<rect x="230.02" y="821.54" width="4.60" height="4.60" fill="#b33333" fill-opacity="0.3" stroke="#b33333" stroke-width="1.5"/>
<rect x="254.61" y="791.40" width="4.60" height="4.60" fill="#b33333" fill-opacity="0.3" stroke="#b33333" stroke-width="1.5"/>
<rect x="279.21" y="752.46" width="4.60" height="4.60" fill="#b33333" fill-opacity="0.3" stroke="#b33333" stroke-width="1.5"/>
<rect x="303.80" y="693.12" width="4.60" height="4.60" fill="#b33333" fill-opacity="0.3" stroke="#b33333" stroke-width="1.5"/>
<path d="M109.35 881.59V881.20M107.75 881.59h3.20M107.75 881.20h3.20" stroke="#b27cf2" stroke-width="1.35"/>
<path d="M133.94 879.79V879.24M132.34 879.79h3.20M132.34 879.24h3.20" stroke="#b27cf2" stroke-width="1.35"/>
<path d="M158.54 864.56V862.57M156.94 864.56h3.20M156.94 862.57h3.20" stroke="#b27cf2" stroke-width="1.35"/>
<path d="M183.13 851.21V847.97M181.53 851.21h3.20M181.53 847.97h3.20" stroke="#b27cf2" stroke-width="1.35"/>
<path d="M207.72 836.52V831.89M206.12 836.52h3.20M206.12 831.89h3.20" stroke="#b27cf2" stroke-width="1.35"/>
<path d="M232.32 815.83V809.25M230.72 815.83h3.20M230.72 809.25h3.20" stroke="#b27cf2" stroke-width="1.35"/>
<path d="M256.91 788.24V779.06M255.31 788.24h3.20M255.31 779.06h3.20" stroke="#b27cf2" stroke-width="1.35"/>
<path d="M281.51 750.76V738.04M279.91 750.76h3.20M279.91 738.04h3.20" stroke="#b27cf2" stroke-width="1.35"/>
<path d="M306.10 696.18V678.32M304.50 696.18h3.20M304.50 678.32h3.20" stroke="#b27cf2" stroke-width="1.35"/>
<path d="M107.15 879.20L111.55 883.60M107.15 883.60L111.55 879.20" stroke="#b27cf2" stroke-width="1.3"/>
<path d="M131.74 877.31L136.14 881.71M131.74 881.71L136.14 877.31" stroke="#b27cf2" stroke-width="1.3"/>
<path d="M156.34 861.36L160.74 865.76M156.34 865.76L160.74 861.36" stroke="#b27cf2" stroke-width="1.3"/>
<path d="M180.93 847.39L185.33 851.79M180.93 851.79L185.33 847.39" stroke="#b27cf2" stroke-width="1.3"/>
<path d="M205.52 832.00L209.92 836.40M205.52 836.40L209.92 832.00" stroke="#b27cf2" stroke-width="1.3"/>
<path d="M230.12 810.34L234.52 814.74M230.12 814.74L234.52 810.34" stroke="#b27cf2" stroke-width="1.3"/>
<path d="M254.71 781.45L259.11 785.85M254.71 785.85L259.11 781.45" stroke="#b27cf2" stroke-width="1.3"/>
<path d="M279.31 742.20L283.71 746.60M279.31 746.60L283.71 742.20" stroke="#b27cf2" stroke-width="1.3"/>
<path d="M303.90 685.05L308.30 689.45M303.90 689.45L308.30 685.05" stroke="#b27cf2" stroke-width="1.3"/>
</g>
<rect x="58.20" y="634.50" width="251.20" height="251.20" fill="none" stroke="#1a1a1a" stroke-width="1.6"/>
<path d="M61.00 885.70v-5M61.00 634.50v5M85.59 885.70v-3M85.59 634.50v3M99.98 885.70v-3M99.98 634.50v3M110.19 885.70v-3M110.19 634.50v3M118.11 885.70v-3M118.11 634.50v3M124.57 885.70v-3M124.57 634.50v3M130.04 885.70v-3M130.04 634.50v3M134.78 885.70v-3M134.78 634.50v3M138.96 885.70v-3M138.96 634.50v3M142.70 885.70v-5M142.70 634.50v5M167.29 885.70v-3M167.29 634.50v3M181.68 885.70v-3M181.68 634.50v3M191.89 885.70v-3M191.89 634.50v3M199.81 885.70v-3M199.81 634.50v3M206.27 885.70v-3M206.27 634.50v3M211.74 885.70v-3M211.74 634.50v3M216.48 885.70v-3M216.48 634.50v3M220.66 885.70v-3M220.66 634.50v3M224.40 885.70v-5M224.40 634.50v5M248.99 885.70v-3M248.99 634.50v3M263.38 885.70v-3M263.38 634.50v3M273.59 885.70v-3M273.59 634.50v3M281.51 885.70v-3M281.51 634.50v3M287.97 885.70v-3M287.97 634.50v3M293.44 885.70v-3M293.44 634.50v3M298.18 885.70v-3M298.18 634.50v3M302.36 885.70v-3M302.36 634.50v3M306.10 885.70v-5M306.10 634.50v5M58.20 870.00h3M309.40 870.00h-3M58.20 854.30h5M309.40 854.30h-5M58.20 838.60h3M309.40 838.60h-3M58.20 822.90h5M309.40 822.90h-5M58.20 807.20h3M309.40 807.20h-3M58.20 791.50h5M309.40 791.50h-5M58.20 775.80h3M309.40 775.80h-3M58.20 760.10h5M309.40 760.10h-5M58.20 744.40h3M309.40 744.40h-3M58.20 728.70h5M309.40 728.70h-5M58.20 713.00h3M309.40 713.00h-3M58.20 697.30h5M309.40 697.30h-5M58.20 681.60h3M309.40 681.60h-3M58.20 665.90h5M309.40 665.90h-5M58.20 650.20h3M309.40 650.20h-3" stroke="#111" stroke-width="1.1" fill="none"/>
<clipPath id="clipR2"><rect x="406.70" y="634.50" width="251.20" height="251.20"/></clipPath>
<text x="409.50" y="902.50" class="tl" text-anchor="middle">0.001</text>
<text x="491.20" y="902.50" class="tl" text-anchor="middle">0.01</text>
<text x="572.90" y="902.50" class="tl" text-anchor="middle">0.1</text>
<text x="654.60" y="902.50" class="tl" text-anchor="middle">1</text>
<text x="397.30" y="858.00" class="tl" text-anchor="end">0.01</text>
<text x="397.30" y="748.20" class="tl" text-anchor="end">0.1</text>
<text x="397.30" y="638.40" class="tl" text-anchor="end">1</text>
<text x="533.60" y="920.10" class="at" text-anchor="middle">Melanin concentration [a.u.]</text>
<text transform="translate(363.90,761.10) rotate(-90)" class="at ay" text-anchor="middle">Entropy [a.u.]</text>
<text x="343.40" y="648.60" class="pl">(f)</text>
<g clip-path="url(#clipR2)">
<path d="M406.70 729.80 L408.27 729.76 L409.84 729.72 L411.41 729.67 L412.98 729.62 L414.55 729.57 L416.12 729.53 L417.69 729.47 L419.26 729.42 L420.83 729.37 L422.40 729.31 L423.97 729.25 L425.54 729.19 L427.11 729.13 L428.68 729.07 L430.25 729.00 L431.82 728.94 L433.39 728.87 L434.96 728.79 L436.53 728.72 L438.10 728.65 L439.67 728.57 L441.24 728.49 L442.81 728.41 L444.38 728.32 L445.95 728.23 L447.52 728.14 L449.09 728.05 L450.66 727.95 L452.23 727.86 L453.80 727.75 L455.37 727.65 L456.94 727.54 L458.51 727.43 L460.08 727.32 L461.65 727.20 L463.22 727.08 L464.79 726.96 L466.36 726.83 L467.93 726.70 L469.50 726.57 L471.07 726.43 L472.64 726.29 L474.21 726.14 L475.78 725.99 L477.35 725.83 L478.92 725.68 L480.49 725.51 L482.06 725.34 L483.63 725.17 L485.20 724.99 L486.77 724.81 L488.34 724.62 L489.91 724.43 L491.48 724.23 L493.05 724.03 L494.62 723.82 L496.19 723.61 L497.76 723.39 L499.33 723.16 L500.90 722.93 L502.47 722.69 L504.04 722.45 L505.61 722.20 L507.18 721.94 L508.75 721.68 L510.32 721.41 L511.89 721.13 L513.46 720.84 L515.03 720.55 L516.60 720.25 L518.17 719.95 L519.74 719.63 L521.31 719.31 L522.88 718.98 L524.45 718.64 L526.02 718.30 L527.59 717.94 L529.16 717.58 L530.73 717.21 L532.30 716.83 L533.87 716.44 L535.44 716.04 L537.01 715.64 L538.58 715.22 L540.15 714.80 L541.72 714.36 L543.29 713.92 L544.86 713.47 L546.43 713.00 L548.00 712.53 L549.57 712.04 L551.14 711.55 L552.71 711.05 L554.28 710.53 L555.85 710.01 L557.42 709.47 L558.99 708.93 L560.56 708.37 L562.13 707.81 L563.70 707.23 L565.27 706.64 L566.84 706.04 L568.41 705.43 L569.98 704.81 L571.55 704.17 L573.12 703.53 L574.69 702.87 L576.26 702.21 L577.83 701.53 L579.40 700.84 L580.97 700.14 L582.54 699.42 L584.11 698.70 L585.68 697.96 L587.25 697.22 L588.82 696.46 L590.39 695.69 L591.96 694.91 L593.53 694.12 L595.10 693.31 L596.67 692.50 L598.24 691.67 L599.81 690.83 L601.38 689.98 L602.95 689.12 L604.52 688.25 L606.09 687.37 L607.66 686.48 L609.23 685.57 L610.80 684.66 L612.37 683.73 L613.94 682.80 L615.51 681.85 L617.08 680.89 L618.65 679.92 L620.22 678.95 L621.79 677.96 L623.36 676.96 L624.93 675.95 L626.50 674.93 L628.07 673.90 L629.64 672.87 L631.21 671.82 L632.78 670.76 L634.35 669.70 L635.92 668.62 L637.49 667.54 L639.06 666.44 L640.63 665.33 L642.20 664.22 L643.77 663.09 L645.34 661.94 L646.91 660.78 L648.48 659.58 L650.05 658.34 L651.62 657.04 L653.19 655.64 L654.76 654.08 L656.33 652.27 L657.90 650.05" stroke="#4a66e2" stroke-width="1.6" fill="none"/>
<path d="M406.70 721.43 L408.27 721.41 L409.84 721.38 L411.41 721.35 L412.98 721.32 L414.55 721.30 L416.12 721.27 L417.69 721.24 L419.26 721.20 L420.83 721.17 L422.40 721.14 L423.97 721.10 L425.54 721.06 L427.11 721.03 L428.68 720.99 L430.25 720.95 L431.82 720.91 L433.39 720.86 L434.96 720.82 L436.53 720.77 L438.10 720.73 L439.67 720.68 L441.24 720.63 L442.81 720.58 L444.38 720.52 L445.95 720.47 L447.52 720.41 L449.09 720.35 L450.66 720.29 L452.23 720.23 L453.80 720.16 L455.37 720.10 L456.94 720.03 L458.51 719.96 L460.08 719.88 L461.65 719.81 L463.22 719.73 L464.79 719.65 L466.36 719.57 L467.93 719.48 L469.50 719.39 L471.07 719.30 L472.64 719.20 L474.21 719.11 L475.78 719.01 L477.35 718.90 L478.92 718.79 L480.49 718.68 L482.06 718.57 L483.63 718.45 L485.20 718.33 L486.77 718.21 L488.34 718.08 L489.91 717.95 L491.48 717.81 L493.05 717.67 L494.62 717.52 L496.19 717.37 L497.76 717.22 L499.33 717.06 L500.90 716.89 L502.47 716.73 L504.04 716.55 L505.61 716.37 L507.18 716.19 L508.75 716.00 L510.32 715.80 L511.89 715.60 L513.46 715.39 L515.03 715.18 L516.60 714.96 L518.17 714.74 L519.74 714.50 L521.31 714.27 L522.88 714.02 L524.45 713.77 L526.02 713.51 L527.59 713.24 L529.16 712.97 L530.73 712.68 L532.30 712.39 L533.87 712.10 L535.44 711.79 L537.01 711.47 L538.58 711.15 L540.15 710.82 L541.72 710.48 L543.29 710.13 L544.86 709.77 L546.43 709.41 L548.00 709.03 L549.57 708.64 L551.14 708.25 L552.71 707.84 L554.28 707.42 L555.85 707.00 L557.42 706.56 L558.99 706.11 L560.56 705.65 L562.13 705.19 L563.70 704.70 L565.27 704.21 L566.84 703.71 L568.41 703.20 L569.98 702.67 L571.55 702.13 L573.12 701.58 L574.69 701.02 L576.26 700.45 L577.83 699.86 L579.40 699.27 L580.97 698.66 L582.54 698.03 L584.11 697.40 L585.68 696.75 L587.25 696.09 L588.82 695.42 L590.39 694.73 L591.96 694.03 L593.53 693.32 L595.10 692.59 L596.67 691.85 L598.24 691.10 L599.81 690.34 L601.38 689.56 L602.95 688.77 L604.52 687.97 L606.09 687.15 L607.66 686.32 L609.23 685.48 L610.80 684.62 L612.37 683.75 L613.94 682.87 L615.51 681.97 L617.08 681.07 L618.65 680.14 L620.22 679.21 L621.79 678.26 L623.36 677.31 L624.93 676.33 L626.50 675.35 L628.07 674.35 L629.64 673.35 L631.21 672.33 L632.78 671.29 L634.35 670.25 L635.92 669.19 L637.49 668.12 L639.06 667.04 L640.63 665.95 L642.20 664.84 L643.77 663.72 L645.34 662.58 L646.91 661.42 L648.48 660.24 L650.05 659.01 L651.62 657.73 L653.19 656.37 L654.76 654.87 L656.33 653.17 L657.90 651.12" stroke="#22cdd0" stroke-width="1.6" fill="none"/>
<path d="M406.70 840.71 L408.27 839.55 L409.84 838.39 L411.41 837.23 L412.98 836.07 L414.55 834.91 L416.12 833.75 L417.69 832.59 L419.26 831.43 L420.83 830.27 L422.40 829.11 L423.97 827.95 L425.54 826.78 L427.11 825.62 L428.68 824.46 L430.25 823.30 L431.82 822.14 L433.39 820.98 L434.96 819.82 L436.53 818.66 L438.10 817.50 L439.67 816.34 L441.24 815.18 L442.81 814.02 L444.38 812.86 L445.95 811.70 L447.52 810.54 L449.09 809.38 L450.66 808.22 L452.23 807.06 L453.80 805.90 L455.37 804.74 L456.94 803.57 L458.51 802.41 L460.08 801.25 L461.65 800.09 L463.22 798.93 L464.79 797.77 L466.36 796.61 L467.93 795.45 L469.50 794.29 L471.07 793.13 L472.64 791.97 L474.21 790.81 L475.78 789.65 L477.35 788.49 L478.92 787.33 L480.49 786.17 L482.06 785.01 L483.63 783.85 L485.20 782.69 L486.77 781.53 L488.34 780.36 L489.91 779.20 L491.48 778.04 L493.05 776.88 L494.62 775.72 L496.19 774.56 L497.76 773.40 L499.33 772.24 L500.90 771.08 L502.47 769.92 L504.04 768.76 L505.61 767.60 L507.18 766.44 L508.75 765.28 L510.32 764.12 L511.89 762.96 L513.46 761.80 L515.03 760.64 L516.60 759.48 L518.17 758.32 L519.74 757.15 L521.31 755.99 L522.88 754.83 L524.45 753.67 L526.02 752.51 L527.59 751.35 L529.16 750.19 L530.73 749.03 L532.30 747.87 L533.87 746.71 L535.44 745.55 L537.01 744.39 L538.58 743.23 L540.15 742.07 L541.72 740.91 L543.29 739.75 L544.86 738.59 L546.43 737.43 L548.00 736.27 L549.57 735.11 L551.14 733.95 L552.71 732.78 L554.28 731.62 L555.85 730.46 L557.42 729.30 L558.99 728.14 L560.56 726.98 L562.13 725.82 L563.70 724.66 L565.27 723.50 L566.84 722.34 L568.41 721.18 L569.98 720.02 L571.55 718.86 L573.12 717.70 L574.69 716.54 L576.26 715.38 L577.83 714.22 L579.40 713.06 L580.97 711.90 L582.54 710.74 L584.11 709.57 L585.68 708.41 L587.25 707.25 L588.82 706.09 L590.39 704.93 L591.96 703.77 L593.53 702.61 L595.10 701.45 L596.67 700.29 L598.24 699.13 L599.81 697.97 L601.38 696.81 L602.95 695.65 L604.52 694.49 L606.09 693.33 L607.66 692.17 L609.23 691.01 L610.80 689.85 L612.37 688.69 L613.94 687.53 L615.51 686.36 L617.08 685.20 L618.65 684.04 L620.22 682.88 L621.79 681.72 L623.36 680.56 L624.93 679.40 L626.50 678.24 L628.07 677.08 L629.64 675.92 L631.21 674.76 L632.78 673.60 L634.35 672.44 L635.92 671.28 L637.49 670.12 L639.06 668.95 L640.63 667.79 L642.20 666.62 L643.77 665.45 L645.34 664.28 L646.91 663.10 L648.48 661.90 L650.05 660.67 L651.62 659.41 L653.19 658.07 L654.76 656.62 L656.33 654.98 L657.90 653.03" stroke="#b33333" stroke-width="1.6" fill="none"/>
<path d="M406.70 823.28 L408.27 822.22 L409.84 821.17 L411.41 820.11 L412.98 819.06 L414.55 818.00 L416.12 816.95 L417.69 815.89 L419.26 814.84 L420.83 813.78 L422.40 812.73 L423.97 811.67 L425.54 810.62 L427.11 809.56 L428.68 808.51 L430.25 807.45 L431.82 806.40 L433.39 805.34 L434.96 804.29 L436.53 803.23 L438.10 802.18 L439.67 801.12 L441.24 800.07 L442.81 799.01 L444.38 797.96 L445.95 796.90 L447.52 795.85 L449.09 794.79 L450.66 793.74 L452.23 792.68 L453.80 791.63 L455.37 790.57 L456.94 789.52 L458.51 788.46 L460.08 787.41 L461.65 786.35 L463.22 785.30 L464.79 784.24 L466.36 783.19 L467.93 782.13 L469.50 781.08 L471.07 780.02 L472.64 778.97 L474.21 777.91 L475.78 776.86 L477.35 775.80 L478.92 774.75 L480.49 773.69 L482.06 772.64 L483.63 771.58 L485.20 770.53 L486.77 769.47 L488.34 768.42 L489.91 767.36 L491.48 766.31 L493.05 765.25 L494.62 764.20 L496.19 763.14 L497.76 762.09 L499.33 761.03 L500.90 759.98 L502.47 758.92 L504.04 757.87 L505.61 756.81 L507.18 755.76 L508.75 754.70 L510.32 753.65 L511.89 752.59 L513.46 751.54 L515.03 750.48 L516.60 749.43 L518.17 748.37 L519.74 747.32 L521.31 746.26 L522.88 745.21 L524.45 744.15 L526.02 743.10 L527.59 742.04 L529.16 740.99 L530.73 739.93 L532.30 738.88 L533.87 737.82 L535.44 736.77 L537.01 735.71 L538.58 734.66 L540.15 733.60 L541.72 732.55 L543.29 731.49 L544.86 730.44 L546.43 729.38 L548.00 728.33 L549.57 727.27 L551.14 726.22 L552.71 725.16 L554.28 724.11 L555.85 723.05 L557.42 722.00 L558.99 720.94 L560.56 719.89 L562.13 718.83 L563.70 717.78 L565.27 716.72 L566.84 715.67 L568.41 714.61 L569.98 713.56 L571.55 712.50 L573.12 711.45 L574.69 710.39 L576.26 709.34 L577.83 708.28 L579.40 707.23 L580.97 706.17 L582.54 705.12 L584.11 704.06 L585.68 703.01 L587.25 701.95 L588.82 700.90 L590.39 699.84 L591.96 698.79 L593.53 697.73 L595.10 696.68 L596.67 695.62 L598.24 694.57 L599.81 693.51 L601.38 692.46 L602.95 691.40 L604.52 690.35 L606.09 689.29 L607.66 688.24 L609.23 687.18 L610.80 686.13 L612.37 685.07 L613.94 684.02 L615.51 682.96 L617.08 681.91 L618.65 680.85 L620.22 679.80 L621.79 678.74 L623.36 677.69 L624.93 676.63 L626.50 675.58 L628.07 674.52 L629.64 673.47 L631.21 672.41 L632.78 671.36 L634.35 670.30 L635.92 669.25 L637.49 668.19 L639.06 667.13 L640.63 666.08 L642.20 665.02 L643.77 663.95 L645.34 662.89 L646.91 661.81 L648.48 660.72 L650.05 659.61 L651.62 658.46 L653.19 657.25 L654.76 655.94 L656.33 654.47 L657.90 652.72" stroke="#b27cf2" stroke-width="1.6" fill="none"/>
<path d="M408.66 762.51V731.93M407.06 762.51h3.20M407.06 731.93h3.20" stroke="#4a66e2" stroke-width="1.35"/>
<path d="M433.25 751.90V721.29M431.65 751.90h3.20M431.65 721.29h3.20" stroke="#4a66e2" stroke-width="1.35"/>
<path d="M457.85 741.37V714.88M456.25 741.37h3.20M456.25 714.88h3.20" stroke="#4a66e2" stroke-width="1.35"/>
<path d="M482.44 736.21V714.36M480.84 736.21h3.20M480.84 714.36h3.20" stroke="#4a66e2" stroke-width="1.35"/>
<path d="M507.04 733.83V712.10M505.44 733.83h3.20M505.44 712.10h3.20" stroke="#4a66e2" stroke-width="1.35"/>
<path d="M531.63 729.04V706.98M530.03 729.04h3.20M530.03 706.98h3.20" stroke="#4a66e2" stroke-width="1.35"/>
<path d="M556.22 718.96V700.01M554.62 718.96h3.20M554.62 700.01h3.20" stroke="#4a66e2" stroke-width="1.35"/>
<path d="M580.82 709.47V688.68M579.22 709.47h3.20M579.22 688.68h3.20" stroke="#4a66e2" stroke-width="1.35"/>
<path d="M605.41 699.44V673.27M603.81 699.44h3.20M603.81 673.27h3.20" stroke="#4a66e2" stroke-width="1.35"/>
<path d="M630.01 684.65V659.88M628.41 684.65h3.20M628.41 659.88h3.20" stroke="#4a66e2" stroke-width="1.35"/>
<path d="M654.60 667.92V641.09M653.00 667.92h3.20M653.00 641.09h3.20" stroke="#4a66e2" stroke-width="1.35"/>
<rect x="406.36" y="742.36" width="4.60" height="4.60" fill="#4a66e2" fill-opacity="0.3" stroke="#4a66e2" stroke-width="1.5"/>
<rect x="430.95" y="731.92" width="4.60" height="4.60" fill="#4a66e2" fill-opacity="0.3" stroke="#4a66e2" stroke-width="1.5"/>
<rect x="455.55" y="723.35" width="4.60" height="4.60" fill="#4a66e2" fill-opacity="0.3" stroke="#4a66e2" stroke-width="1.5"/>
<rect x="480.14" y="722.07" width="4.60" height="4.60" fill="#4a66e2" fill-opacity="0.3" stroke="#4a66e2" stroke-width="1.5"/>
<rect x="504.74" y="719.29" width="4.60" height="4.60" fill="#4a66e2" fill-opacity="0.3" stroke="#4a66e2" stroke-width="1.5"/>
<rect x="529.33" y="716.10" width="4.60" height="4.60" fill="#4a66e2" fill-opacity="0.3" stroke="#4a66e2" stroke-width="1.5"/>
<rect x="553.92" y="708.11" width="4.60" height="4.60" fill="#4a66e2" fill-opacity="0.3" stroke="#4a66e2" stroke-width="1.5"/>
<rect x="578.52" y="696.20" width="4.60" height="4.60" fill="#4a66e2" fill-opacity="0.3" stroke="#4a66e2" stroke-width="1.5"/>
<rect x="603.11" y="681.66" width="4.60" height="4.60" fill="#4a66e2" fill-opacity="0.3" stroke="#4a66e2" stroke-width="1.5"/>
<rect x="627.71" y="668.42" width="4.60" height="4.60" fill="#4a66e2" fill-opacity="0.3" stroke="#4a66e2" stroke-width="1.5"/>
<rect x="652.30" y="652.44" width="4.60" height="4.60" fill="#4a66e2" fill-opacity="0.3" stroke="#4a66e2" stroke-width="1.5"/>
<path d="M408.66 734.12V729.83M407.06 734.12h3.20M407.06 729.83h3.20" stroke="#22cdd0" stroke-width="1.35"/>
<path d="M433.25 722.31V718.01M431.65 722.31h3.20M431.65 718.01h3.20" stroke="#22cdd0" stroke-width="1.35"/>
<path d="M457.85 717.60V713.31M456.25 717.60h3.20M456.25 713.31h3.20" stroke="#22cdd0" stroke-width="1.35"/>
<path d="M482.44 722.31V718.01M480.84 722.31h3.20M480.84 718.01h3.20" stroke="#22cdd0" stroke-width="1.35"/>
<path d="M507.04 721.44V717.15M505.44 721.44h3.20M505.44 717.15h3.20" stroke="#22cdd0" stroke-width="1.35"/>
<path d="M531.63 716.56V712.27M530.03 716.56h3.20M530.03 712.27h3.20" stroke="#22cdd0" stroke-width="1.35"/>
<path d="M556.22 711.20V706.91M554.62 711.20h3.20M554.62 706.91h3.20" stroke="#22cdd0" stroke-width="1.35"/>
<path d="M580.82 699.60V695.31M579.22 699.60h3.20M579.22 695.31h3.20" stroke="#22cdd0" stroke-width="1.35"/>
<path d="M605.41 685.21V680.92M603.81 685.21h3.20M603.81 680.92h3.20" stroke="#22cdd0" stroke-width="1.35"/>
<path d="M630.01 672.10V667.80M628.41 672.10h3.20M628.41 667.80h3.20" stroke="#22cdd0" stroke-width="1.35"/>
<path d="M654.60 656.93V652.64M653.00 656.93h3.20M653.00 652.64h3.20" stroke="#22cdd0" stroke-width="1.35"/>
<path d="M406.46 729.73L410.86 734.13M406.46 734.13L410.86 729.73" stroke="#22cdd0" stroke-width="1.3"/>
<path d="M431.05 717.91L435.45 722.31M431.05 722.31L435.45 717.91" stroke="#22cdd0" stroke-width="1.3"/>
<path d="M455.65 713.21L460.05 717.61M455.65 717.61L460.05 713.21" stroke="#22cdd0" stroke-width="1.3"/>
<path d="M480.24 717.91L484.64 722.31M480.24 722.31L484.64 717.91" stroke="#22cdd0" stroke-width="1.3"/>
<path d="M504.84 717.05L509.24 721.45M504.84 721.45L509.24 717.05" stroke="#22cdd0" stroke-width="1.3"/>
<path d="M529.43 712.16L533.83 716.56M529.43 716.56L533.83 712.16" stroke="#22cdd0" stroke-width="1.3"/>
<path d="M554.02 706.81L558.42 711.21M554.02 711.21L558.42 706.81" stroke="#22cdd0" stroke-width="1.3"/>
<path d="M578.62 695.21L583.02 699.61M578.62 699.61L583.02 695.21" stroke="#22cdd0" stroke-width="1.3"/>
<path d="M603.21 680.82L607.61 685.22M603.21 685.22L607.61 680.82" stroke="#22cdd0" stroke-width="1.3"/>
<path d="M627.81 667.70L632.21 672.10M627.81 672.10L632.21 667.70" stroke="#22cdd0" stroke-width="1.3"/>
<path d="M652.40 652.54L656.80 656.94M652.40 656.94L656.80 652.54" stroke="#22cdd0" stroke-width="1.3"/>
<path d="M408.66 890.70V835.45M407.06 890.70h3.20M407.06 835.45h3.20" stroke="#b33333" stroke-width="1.35"/>
<path d="M433.25 890.70V783.72M431.65 890.70h3.20M431.65 783.72h3.20" stroke="#b33333" stroke-width="1.35"/>
<path d="M457.85 890.70V763.51M456.25 890.70h3.20M456.25 763.51h3.20" stroke="#b33333" stroke-width="1.35"/>
<path d="M482.44 890.70V784.28M480.84 890.70h3.20M480.84 784.28h3.20" stroke="#b33333" stroke-width="1.35"/>
<path d="M507.04 822.39V756.79M505.44 822.39h3.20M505.44 756.79h3.20" stroke="#b33333" stroke-width="1.35"/>
<path d="M531.63 776.75V731.19M530.03 776.75h3.20M530.03 731.19h3.20" stroke="#b33333" stroke-width="1.35"/>
<path d="M556.22 755.55V714.36M554.62 755.55h3.20M554.62 714.36h3.20" stroke="#b33333" stroke-width="1.35"/>
<path d="M580.82 733.06V698.50M579.22 733.06h3.20M579.22 698.50h3.20" stroke="#b33333" stroke-width="1.35"/>
<path d="M605.41 710.89V678.68M603.81 710.89h3.20M603.81 678.68h3.20" stroke="#b33333" stroke-width="1.35"/>
<path d="M630.01 689.75V664.17M628.41 689.75h3.20M628.41 664.17h3.20" stroke="#b33333" stroke-width="1.35"/>
<path d="M654.60 670.72V647.94M653.00 670.72h3.20M653.00 647.94h3.20" stroke="#b33333" stroke-width="1.35"/>
<rect x="406.36" y="871.01" width="4.60" height="4.60" fill="#b33333" fill-opacity="0.3" stroke="#b33333" stroke-width="1.5"/>
<rect x="430.95" y="812.53" width="4.60" height="4.60" fill="#b33333" fill-opacity="0.3" stroke="#b33333" stroke-width="1.5"/>
<rect x="455.55" y="806.19" width="4.60" height="4.60" fill="#b33333" fill-opacity="0.3" stroke="#b33333" stroke-width="1.5"/>
<rect x="480.14" y="810.05" width="4.60" height="4.60" fill="#b33333" fill-opacity="0.3" stroke="#b33333" stroke-width="1.5"/>
<rect x="504.74" y="776.40" width="4.60" height="4.60" fill="#b33333" fill-opacity="0.3" stroke="#b33333" stroke-width="1.5"/>
<rect x="529.33" y="746.21" width="4.60" height="4.60" fill="#b33333" fill-opacity="0.3" stroke="#b33333" stroke-width="1.5"/>
<rect x="553.92" y="728.52" width="4.60" height="4.60" fill="#b33333" fill-opacity="0.3" stroke="#b33333" stroke-width="1.5"/>
<rect x="578.52" y="709.07" width="4.60" height="4.60" fill="#b33333" fill-opacity="0.3" stroke="#b33333" stroke-width="1.5"/>
<rect x="603.11" y="690.14" width="4.60" height="4.60" fill="#b33333" fill-opacity="0.3" stroke="#b33333" stroke-width="1.5"/>
<rect x="627.71" y="673.31" width="4.60" height="4.60" fill="#b33333" fill-opacity="0.3" stroke="#b33333" stroke-width="1.5"/>
<rect x="652.30" y="655.48" width="4.60" height="4.60" fill="#b33333" fill-opacity="0.3" stroke="#b33333" stroke-width="1.5"/>
<path d="M457.85 840.68V836.39M456.25 840.68h3.20M456.25 836.39h3.20" stroke="#b27cf2" stroke-width="1.35"/>
<path d="M482.44 823.36V819.07M480.84 823.36h3.20M480.84 819.07h3.20" stroke="#b27cf2" stroke-width="1.35"/>
<path d="M507.04 762.56V758.27M505.44 762.56h3.20M505.44 758.27h3.20" stroke="#b27cf2" stroke-width="1.35"/>
<path d="M531.63 739.23V734.94M530.03 739.23h3.20M530.03 734.94h3.20" stroke="#b27cf2" stroke-width="1.35"/>
<path d="M556.22 722.31V718.01M554.62 722.31h3.20M554.62 718.01h3.20" stroke="#b27cf2" stroke-width="1.35"/>
<path d="M580.82 705.56V701.27M579.22 705.56h3.20M579.22 701.27h3.20" stroke="#b27cf2" stroke-width="1.35"/>
<path d="M605.41 689.69V685.40M603.81 689.69h3.20M603.81 685.40h3.20" stroke="#b27cf2" stroke-width="1.35"/>
<path d="M630.01 674.17V669.88M628.41 674.17h3.20M628.41 669.88h3.20" stroke="#b27cf2" stroke-width="1.35"/>
<path d="M654.60 657.98V653.68M653.00 657.98h3.20M653.00 653.68h3.20" stroke="#b27cf2" stroke-width="1.35"/>
<path d="M455.65 836.29L460.05 840.69M455.65 840.69L460.05 836.29" stroke="#b27cf2" stroke-width="1.3"/>
<path d="M480.24 818.97L484.64 823.37M480.24 823.37L484.64 818.97" stroke="#b27cf2" stroke-width="1.3"/>
<path d="M504.84 758.17L509.24 762.57M504.84 762.57L509.24 758.17" stroke="#b27cf2" stroke-width="1.3"/>
<path d="M529.43 734.84L533.83 739.24M529.43 739.24L533.83 734.84" stroke="#b27cf2" stroke-width="1.3"/>
<path d="M554.02 717.91L558.42 722.31M554.02 722.31L558.42 717.91" stroke="#b27cf2" stroke-width="1.3"/>
<path d="M578.62 701.16L583.02 705.56M578.62 705.56L583.02 701.16" stroke="#b27cf2" stroke-width="1.3"/>
<path d="M603.21 685.30L607.61 689.70M603.21 689.70L607.61 685.30" stroke="#b27cf2" stroke-width="1.3"/>
<path d="M627.81 669.78L632.21 674.18M627.81 674.18L632.21 669.78" stroke="#b27cf2" stroke-width="1.3"/>
<path d="M652.40 653.58L656.80 657.98M652.40 657.98L656.80 653.58" stroke="#b27cf2" stroke-width="1.3"/>
</g>
<rect x="406.70" y="634.50" width="251.20" height="251.20" fill="none" stroke="#1a1a1a" stroke-width="1.6"/>
<path d="M409.50 885.70v-5M409.50 634.50v5M434.09 885.70v-3M434.09 634.50v3M448.48 885.70v-3M448.48 634.50v3M458.69 885.70v-3M458.69 634.50v3M466.61 885.70v-3M466.61 634.50v3M473.07 885.70v-3M473.07 634.50v3M478.54 885.70v-3M478.54 634.50v3M483.28 885.70v-3M483.28 634.50v3M487.46 885.70v-3M487.46 634.50v3M491.20 885.70v-5M491.20 634.50v5M515.79 885.70v-3M515.79 634.50v3M530.18 885.70v-3M530.18 634.50v3M540.39 885.70v-3M540.39 634.50v3M548.31 885.70v-3M548.31 634.50v3M554.77 885.70v-3M554.77 634.50v3M560.24 885.70v-3M560.24 634.50v3M564.98 885.70v-3M564.98 634.50v3M569.16 885.70v-3M569.16 634.50v3M572.90 885.70v-5M572.90 634.50v5M597.49 885.70v-3M597.49 634.50v3M611.88 885.70v-3M611.88 634.50v3M622.09 885.70v-3M622.09 634.50v3M630.01 885.70v-3M630.01 634.50v3M636.47 885.70v-3M636.47 634.50v3M641.94 885.70v-3M641.94 634.50v3M646.68 885.70v-3M646.68 634.50v3M650.86 885.70v-3M650.86 634.50v3M654.60 885.70v-5M654.60 634.50v5M406.70 877.86h3M657.90 877.86h-3M406.70 870.51h3M657.90 870.51h-3M406.70 864.14h3M657.90 864.14h-3M406.70 858.52h3M657.90 858.52h-3M406.70 853.50h5M657.90 853.50h-5M406.70 820.45h3M657.90 820.45h-3M406.70 801.11h3M657.90 801.11h-3M406.70 787.39h3M657.90 787.39h-3M406.70 776.75h3M657.90 776.75h-3M406.70 768.06h3M657.90 768.06h-3M406.70 760.71h3M657.90 760.71h-3M406.70 754.34h3M657.90 754.34h-3M406.70 748.72h3M657.90 748.72h-3M406.70 743.70h5M657.90 743.70h-5M406.70 710.65h3M657.90 710.65h-3M406.70 691.31h3M657.90 691.31h-3M406.70 677.59h3M657.90 677.59h-3M406.70 666.95h3M657.90 666.95h-3M406.70 658.26h3M657.90 658.26h-3M406.70 650.91h3M657.90 650.91h-3M406.70 644.54h3M657.90 644.54h-3M406.70 638.92h3M657.90 638.92h-3" stroke="#111" stroke-width="1.1" fill="none"/>
<clipPath id="clipL3"><rect x="58.20" y="949.40" width="251.20" height="251.20"/></clipPath>
<text x="61.00" y="1217.40" class="tl" text-anchor="middle">0.001</text>
<text x="142.70" y="1217.40" class="tl" text-anchor="middle">0.01</text>
<text x="224.40" y="1217.40" class="tl" text-anchor="middle">0.1</text>
<text x="306.10" y="1217.40" class="tl" text-anchor="middle">1</text>
<text x="50.80" y="1205.10" class="tl" text-anchor="end">0</text>
<text x="50.80" y="1175.58" class="tl" text-anchor="end">0.1</text>
<text x="50.80" y="1146.06" class="tl" text-anchor="end">0.2</text>
<text x="50.80" y="1116.54" class="tl" text-anchor="end">0.3</text>
<text x="50.80" y="1087.02" class="tl" text-anchor="end">0.4</text>
<text x="50.80" y="1057.50" class="tl" text-anchor="end">0.5</text>
<text x="50.80" y="1027.98" class="tl" text-anchor="end">0.6</text>
<text x="50.80" y="998.46" class="tl" text-anchor="end">0.7</text>
<text x="50.80" y="968.94" class="tl" text-anchor="end">0.8</text>
<text x="181.10" y="1236.70" class="at" text-anchor="middle">Melanin concentration [a.u.]</text>
<text transform="translate(21.80,1076.00) rotate(-90)" class="at ay" text-anchor="middle">Metrics of depolarization [a.u.]</text>
<text x="-0.80" y="952.00" class="pl">(g)</text>
<g clip-path="url(#clipL3)">
<path d="M58.20 1191.39 L59.77 1191.38 L61.34 1191.38 L62.91 1191.37 L64.48 1191.36 L66.05 1191.36 L67.62 1191.35 L69.19 1191.34 L70.76 1191.33 L72.33 1191.32 L73.90 1191.32 L75.47 1191.31 L77.04 1191.30 L78.61 1191.29 L80.18 1191.28 L81.75 1191.27 L83.32 1191.25 L84.89 1191.24 L86.46 1191.23 L88.03 1191.22 L89.60 1191.20 L91.17 1191.19 L92.74 1191.17 L94.31 1191.16 L95.88 1191.14 L97.45 1191.13 L99.02 1191.11 L100.59 1191.09 L102.16 1191.07 L103.73 1191.05 L105.30 1191.03 L106.87 1191.01 L108.44 1190.99 L110.01 1190.97 L111.58 1190.94 L113.15 1190.92 L114.72 1190.89 L116.29 1190.86 L117.86 1190.84 L119.43 1190.81 L121.00 1190.78 L122.57 1190.74 L124.14 1190.71 L125.71 1190.68 L127.28 1190.64 L128.85 1190.60 L130.42 1190.56 L131.99 1190.52 L133.56 1190.48 L135.13 1190.43 L136.70 1190.39 L138.27 1190.34 L139.84 1190.29 L141.41 1190.24 L142.98 1190.18 L144.55 1190.13 L146.12 1190.07 L147.69 1190.00 L149.26 1189.94 L150.83 1189.87 L152.40 1189.80 L153.97 1189.73 L155.54 1189.65 L157.11 1189.58 L158.68 1189.49 L160.25 1189.41 L161.82 1189.32 L163.39 1189.22 L164.96 1189.13 L166.53 1189.03 L168.10 1188.92 L169.67 1188.81 L171.24 1188.70 L172.81 1188.58 L174.38 1188.45 L175.95 1188.32 L177.52 1188.19 L179.09 1188.05 L180.66 1187.90 L182.23 1187.75 L183.80 1187.59 L185.37 1187.42 L186.94 1187.25 L188.51 1187.07 L190.08 1186.88 L191.65 1186.69 L193.22 1186.48 L194.79 1186.27 L196.36 1186.05 L197.93 1185.82 L199.50 1185.58 L201.07 1185.33 L202.64 1185.07 L204.21 1184.80 L205.78 1184.51 L207.35 1184.22 L208.92 1183.91 L210.49 1183.59 L212.06 1183.25 L213.63 1182.91 L215.20 1182.54 L216.77 1182.17 L218.34 1181.77 L219.91 1181.36 L221.48 1180.94 L223.05 1180.49 L224.62 1180.03 L226.19 1179.54 L227.76 1179.04 L229.33 1178.51 L230.90 1177.97 L232.47 1177.40 L234.04 1176.80 L235.61 1176.18 L237.18 1175.54 L238.75 1174.87 L240.32 1174.17 L241.89 1173.44 L243.46 1172.68 L245.03 1171.88 L246.60 1171.06 L248.17 1170.20 L249.74 1169.30 L251.31 1168.37 L252.88 1167.39 L254.45 1166.38 L256.02 1165.32 L257.59 1164.22 L259.16 1163.07 L260.73 1161.88 L262.30 1160.63 L263.87 1159.33 L265.44 1157.98 L267.01 1156.57 L268.58 1155.10 L270.15 1153.57 L271.72 1151.98 L273.29 1150.31 L274.86 1148.58 L276.43 1146.78 L278.00 1144.90 L279.57 1142.94 L281.14 1140.90 L282.71 1138.77 L284.28 1136.55 L285.85 1134.24 L287.42 1131.83 L288.99 1129.33 L290.56 1126.71 L292.13 1123.99 L293.70 1121.15 L295.27 1118.20 L296.84 1115.11 L298.41 1111.90 L299.98 1108.56 L301.55 1105.07 L303.12 1101.44 L304.69 1097.66 L306.26 1093.71 L307.83 1089.60 L309.40 1085.32" stroke="#4a66e2" stroke-width="1.6" fill="none"/>
<path d="M58.20 1186.65 L59.77 1186.65 L61.34 1186.64 L62.91 1186.64 L64.48 1186.63 L66.05 1186.62 L67.62 1186.62 L69.19 1186.61 L70.76 1186.60 L72.33 1186.60 L73.90 1186.59 L75.47 1186.58 L77.04 1186.57 L78.61 1186.56 L80.18 1186.55 L81.75 1186.54 L83.32 1186.53 L84.89 1186.52 L86.46 1186.51 L88.03 1186.50 L89.60 1186.49 L91.17 1186.48 L92.74 1186.46 L94.31 1186.45 L95.88 1186.43 L97.45 1186.42 L99.02 1186.40 L100.59 1186.39 L102.16 1186.37 L103.73 1186.35 L105.30 1186.34 L106.87 1186.32 L108.44 1186.30 L110.01 1186.28 L111.58 1186.26 L113.15 1186.23 L114.72 1186.21 L116.29 1186.19 L117.86 1186.16 L119.43 1186.14 L121.00 1186.11 L122.57 1186.08 L124.14 1186.05 L125.71 1186.02 L127.28 1185.99 L128.85 1185.95 L130.42 1185.92 L131.99 1185.88 L133.56 1185.85 L135.13 1185.81 L136.70 1185.76 L138.27 1185.72 L139.84 1185.68 L141.41 1185.63 L142.98 1185.58 L144.55 1185.53 L146.12 1185.48 L147.69 1185.42 L149.26 1185.37 L150.83 1185.31 L152.40 1185.25 L153.97 1185.18 L155.54 1185.11 L157.11 1185.04 L158.68 1184.97 L160.25 1184.89 L161.82 1184.81 L163.39 1184.73 L164.96 1184.64 L166.53 1184.55 L168.10 1184.46 L169.67 1184.36 L171.24 1184.26 L172.81 1184.16 L174.38 1184.05 L175.95 1183.93 L177.52 1183.81 L179.09 1183.69 L180.66 1183.56 L182.23 1183.42 L183.80 1183.28 L185.37 1183.13 L186.94 1182.98 L188.51 1182.82 L190.08 1182.65 L191.65 1182.48 L193.22 1182.30 L194.79 1182.11 L196.36 1181.91 L197.93 1181.71 L199.50 1181.49 L201.07 1181.27 L202.64 1181.04 L204.21 1180.80 L205.78 1180.55 L207.35 1180.28 L208.92 1180.01 L210.49 1179.73 L212.06 1179.43 L213.63 1179.12 L215.20 1178.80 L216.77 1178.46 L218.34 1178.11 L219.91 1177.75 L221.48 1177.37 L223.05 1176.98 L224.62 1176.56 L226.19 1176.13 L227.76 1175.69 L229.33 1175.22 L230.90 1174.73 L232.47 1174.23 L234.04 1173.70 L235.61 1173.15 L237.18 1172.58 L238.75 1171.98 L240.32 1171.36 L241.89 1170.71 L243.46 1170.04 L245.03 1169.33 L246.60 1168.60 L248.17 1167.84 L249.74 1167.04 L251.31 1166.21 L252.88 1165.35 L254.45 1164.45 L256.02 1163.51 L257.59 1162.53 L259.16 1161.51 L260.73 1160.45 L262.30 1159.34 L263.87 1158.19 L265.44 1156.99 L267.01 1155.74 L268.58 1154.43 L270.15 1153.07 L271.72 1151.66 L273.29 1150.18 L274.86 1148.65 L276.43 1147.04 L278.00 1145.37 L279.57 1143.63 L281.14 1141.82 L282.71 1139.93 L284.28 1137.96 L285.85 1135.91 L287.42 1133.78 L288.99 1131.55 L290.56 1129.23 L292.13 1126.81 L293.70 1124.29 L295.27 1121.67 L296.84 1118.93 L298.41 1116.08 L299.98 1113.11 L301.55 1110.01 L303.12 1106.79 L304.69 1103.43 L306.26 1099.93 L307.83 1096.28 L309.40 1092.48" stroke="#22cdd0" stroke-width="1.6" fill="none"/>
<path d="M58.20 1191.39 L59.77 1191.38 L61.34 1191.38 L62.91 1191.37 L64.48 1191.36 L66.05 1191.36 L67.62 1191.35 L69.19 1191.34 L70.76 1191.33 L72.33 1191.32 L73.90 1191.32 L75.47 1191.31 L77.04 1191.30 L78.61 1191.29 L80.18 1191.28 L81.75 1191.27 L83.32 1191.25 L84.89 1191.24 L86.46 1191.23 L88.03 1191.22 L89.60 1191.20 L91.17 1191.19 L92.74 1191.17 L94.31 1191.16 L95.88 1191.14 L97.45 1191.13 L99.02 1191.11 L100.59 1191.09 L102.16 1191.07 L103.73 1191.05 L105.30 1191.03 L106.87 1191.01 L108.44 1190.99 L110.01 1190.97 L111.58 1190.94 L113.15 1190.92 L114.72 1190.89 L116.29 1190.86 L117.86 1190.84 L119.43 1190.81 L121.00 1190.78 L122.57 1190.74 L124.14 1190.71 L125.71 1190.68 L127.28 1190.64 L128.85 1190.60 L130.42 1190.56 L131.99 1190.52 L133.56 1190.48 L135.13 1190.43 L136.70 1190.39 L138.27 1190.34 L139.84 1190.29 L141.41 1190.24 L142.98 1190.18 L144.55 1190.13 L146.12 1190.07 L147.69 1190.00 L149.26 1189.94 L150.83 1189.87 L152.40 1189.80 L153.97 1189.73 L155.54 1189.65 L157.11 1189.58 L158.68 1189.49 L160.25 1189.41 L161.82 1189.32 L163.39 1189.22 L164.96 1189.13 L166.53 1189.03 L168.10 1188.92 L169.67 1188.81 L171.24 1188.70 L172.81 1188.58 L174.38 1188.45 L175.95 1188.32 L177.52 1188.19 L179.09 1188.05 L180.66 1187.90 L182.23 1187.75 L183.80 1187.59 L185.37 1187.42 L186.94 1187.25 L188.51 1187.07 L190.08 1186.88 L191.65 1186.69 L193.22 1186.48 L194.79 1186.27 L196.36 1186.05 L197.93 1185.82 L199.50 1185.58 L201.07 1185.33 L202.64 1185.07 L204.21 1184.80 L205.78 1184.51 L207.35 1184.22 L208.92 1183.91 L210.49 1183.59 L212.06 1183.25 L213.63 1182.91 L215.20 1182.54 L216.77 1182.17 L218.34 1181.77 L219.91 1181.36 L221.48 1180.94 L223.05 1180.49 L224.62 1180.03 L226.19 1179.54 L227.76 1179.04 L229.33 1178.51 L230.90 1177.97 L232.47 1177.40 L234.04 1176.80 L235.61 1176.18 L237.18 1175.54 L238.75 1174.87 L240.32 1174.17 L241.89 1173.44 L243.46 1172.68 L245.03 1171.88 L246.60 1171.06 L248.17 1170.20 L249.74 1169.30 L251.31 1168.37 L252.88 1167.39 L254.45 1166.38 L256.02 1165.32 L257.59 1164.22 L259.16 1163.07 L260.73 1161.88 L262.30 1160.63 L263.87 1159.33 L265.44 1157.98 L267.01 1156.57 L268.58 1155.10 L270.15 1153.57 L271.72 1151.98 L273.29 1150.31 L274.86 1148.58 L276.43 1146.78 L278.00 1144.90 L279.57 1142.94 L281.14 1140.90 L282.71 1138.77 L284.28 1136.55 L285.85 1134.24 L287.42 1131.83 L288.99 1129.33 L290.56 1126.71 L292.13 1123.99 L293.70 1121.15 L295.27 1118.20 L296.84 1115.11 L298.41 1111.90 L299.98 1108.56 L301.55 1105.07 L303.12 1101.44 L304.69 1097.66 L306.26 1093.71 L307.83 1089.60 L309.40 1085.32" stroke="#b33333" stroke-width="1.6" fill="none"/>
<path d="M58.20 1186.65 L59.77 1186.65 L61.34 1186.64 L62.91 1186.64 L64.48 1186.63 L66.05 1186.62 L67.62 1186.62 L69.19 1186.61 L70.76 1186.60 L72.33 1186.60 L73.90 1186.59 L75.47 1186.58 L77.04 1186.57 L78.61 1186.56 L80.18 1186.55 L81.75 1186.54 L83.32 1186.53 L84.89 1186.52 L86.46 1186.51 L88.03 1186.50 L89.60 1186.49 L91.17 1186.48 L92.74 1186.46 L94.31 1186.45 L95.88 1186.43 L97.45 1186.42 L99.02 1186.40 L100.59 1186.39 L102.16 1186.37 L103.73 1186.35 L105.30 1186.34 L106.87 1186.32 L108.44 1186.30 L110.01 1186.28 L111.58 1186.26 L113.15 1186.23 L114.72 1186.21 L116.29 1186.19 L117.86 1186.16 L119.43 1186.14 L121.00 1186.11 L122.57 1186.08 L124.14 1186.05 L125.71 1186.02 L127.28 1185.99 L128.85 1185.95 L130.42 1185.92 L131.99 1185.88 L133.56 1185.85 L135.13 1185.81 L136.70 1185.76 L138.27 1185.72 L139.84 1185.68 L141.41 1185.63 L142.98 1185.58 L144.55 1185.53 L146.12 1185.48 L147.69 1185.42 L149.26 1185.37 L150.83 1185.31 L152.40 1185.25 L153.97 1185.18 L155.54 1185.11 L157.11 1185.04 L158.68 1184.97 L160.25 1184.89 L161.82 1184.81 L163.39 1184.73 L164.96 1184.64 L166.53 1184.55 L168.10 1184.46 L169.67 1184.36 L171.24 1184.26 L172.81 1184.16 L174.38 1184.05 L175.95 1183.93 L177.52 1183.81 L179.09 1183.69 L180.66 1183.56 L182.23 1183.42 L183.80 1183.28 L185.37 1183.13 L186.94 1182.98 L188.51 1182.82 L190.08 1182.65 L191.65 1182.48 L193.22 1182.30 L194.79 1182.11 L196.36 1181.91 L197.93 1181.71 L199.50 1181.49 L201.07 1181.27 L202.64 1181.04 L204.21 1180.80 L205.78 1180.55 L207.35 1180.28 L208.92 1180.01 L210.49 1179.73 L212.06 1179.43 L213.63 1179.12 L215.20 1178.80 L216.77 1178.46 L218.34 1178.11 L219.91 1177.75 L221.48 1177.37 L223.05 1176.98 L224.62 1176.56 L226.19 1176.13 L227.76 1175.69 L229.33 1175.22 L230.90 1174.73 L232.47 1174.23 L234.04 1173.70 L235.61 1173.15 L237.18 1172.58 L238.75 1171.98 L240.32 1171.36 L241.89 1170.71 L243.46 1170.04 L245.03 1169.33 L246.60 1168.60 L248.17 1167.84 L249.74 1167.04 L251.31 1166.21 L252.88 1165.35 L254.45 1164.45 L256.02 1163.51 L257.59 1162.53 L259.16 1161.51 L260.73 1160.45 L262.30 1159.34 L263.87 1158.19 L265.44 1156.99 L267.01 1155.74 L268.58 1154.43 L270.15 1153.07 L271.72 1151.66 L273.29 1150.18 L274.86 1148.65 L276.43 1147.04 L278.00 1145.37 L279.57 1143.63 L281.14 1141.82 L282.71 1139.93 L284.28 1137.96 L285.85 1135.91 L287.42 1133.78 L288.99 1131.55 L290.56 1129.23 L292.13 1126.81 L293.70 1124.29 L295.27 1121.67 L296.84 1118.93 L298.41 1116.08 L299.98 1113.11 L301.55 1110.01 L303.12 1106.79 L304.69 1103.43 L306.26 1099.93 L307.83 1096.28 L309.40 1092.48" stroke="#b27cf2" stroke-width="1.6" fill="none"/>
<path d="M58.20 1194.64 L59.77 1194.63 L61.34 1194.63 L62.91 1194.63 L64.48 1194.62 L66.05 1194.62 L67.62 1194.61 L69.19 1194.61 L70.76 1194.60 L72.33 1194.60 L73.90 1194.59 L75.47 1194.58 L77.04 1194.58 L78.61 1194.57 L80.18 1194.56 L81.75 1194.56 L83.32 1194.55 L84.89 1194.54 L86.46 1194.53 L88.03 1194.52 L89.60 1194.51 L91.17 1194.50 L92.74 1194.49 L94.31 1194.48 L95.88 1194.47 L97.45 1194.46 L99.02 1194.45 L100.59 1194.44 L102.16 1194.42 L103.73 1194.41 L105.30 1194.40 L106.87 1194.38 L108.44 1194.37 L110.01 1194.35 L111.58 1194.33 L113.15 1194.31 L114.72 1194.30 L116.29 1194.28 L117.86 1194.26 L119.43 1194.24 L121.00 1194.21 L122.57 1194.19 L124.14 1194.17 L125.71 1194.14 L127.28 1194.11 L128.85 1194.09 L130.42 1194.06 L131.99 1194.03 L133.56 1194.00 L135.13 1193.96 L136.70 1193.93 L138.27 1193.89 L139.84 1193.85 L141.41 1193.81 L142.98 1193.77 L144.55 1193.73 L146.12 1193.69 L147.69 1193.64 L149.26 1193.59 L150.83 1193.54 L152.40 1193.48 L153.97 1193.43 L155.54 1193.37 L157.11 1193.31 L158.68 1193.24 L160.25 1193.18 L161.82 1193.11 L163.39 1193.03 L164.96 1192.96 L166.53 1192.88 L168.10 1192.79 L169.67 1192.71 L171.24 1192.61 L172.81 1192.52 L174.38 1192.42 L175.95 1192.31 L177.52 1192.21 L179.09 1192.09 L180.66 1191.97 L182.23 1191.85 L183.80 1191.72 L185.37 1191.58 L186.94 1191.44 L188.51 1191.29 L190.08 1191.13 L191.65 1190.97 L193.22 1190.80 L194.79 1190.62 L196.36 1190.44 L197.93 1190.25 L199.50 1190.04 L201.07 1189.83 L202.64 1189.61 L204.21 1189.38 L205.78 1189.14 L207.35 1188.88 L208.92 1188.62 L210.49 1188.34 L212.06 1188.05 L213.63 1187.75 L215.20 1187.44 L216.77 1187.11 L218.34 1186.76 L219.91 1186.40 L221.48 1186.03 L223.05 1185.63 L224.62 1185.22 L226.19 1184.79 L227.76 1184.34 L229.33 1183.87 L230.90 1183.38 L232.47 1182.87 L234.04 1182.33 L235.61 1181.77 L237.18 1181.18 L238.75 1180.57 L240.32 1179.93 L241.89 1179.26 L243.46 1178.56 L245.03 1177.83 L246.60 1177.07 L248.17 1176.27 L249.74 1175.43 L251.31 1174.56 L252.88 1173.65 L254.45 1172.69 L256.02 1171.70 L257.59 1170.65 L259.16 1169.56 L260.73 1168.43 L262.30 1167.24 L263.87 1165.99 L265.44 1164.69 L267.01 1163.33 L268.58 1161.91 L270.15 1160.43 L271.72 1158.88 L273.29 1157.26 L274.86 1155.56 L276.43 1153.79 L278.00 1151.94 L279.57 1150.00 L281.14 1147.98 L282.71 1145.86 L284.28 1143.65 L285.85 1141.34 L287.42 1138.93 L288.99 1136.40 L290.56 1133.76 L292.13 1131.01 L293.70 1128.12 L295.27 1125.11 L296.84 1121.96 L298.41 1118.67 L299.98 1115.23 L301.55 1111.63 L303.12 1107.87 L304.69 1103.94 L306.26 1099.83 L307.83 1095.54 L309.40 1091.05" stroke="#1f7a1f" stroke-width="1.6" fill="none"/>
<path d="M58.20 1191.73 L59.77 1191.73 L61.34 1191.72 L62.91 1191.72 L64.48 1191.72 L66.05 1191.71 L67.62 1191.71 L69.19 1191.70 L70.76 1191.70 L72.33 1191.69 L73.90 1191.69 L75.47 1191.68 L77.04 1191.68 L78.61 1191.67 L80.18 1191.67 L81.75 1191.66 L83.32 1191.65 L84.89 1191.65 L86.46 1191.64 L88.03 1191.63 L89.60 1191.62 L91.17 1191.62 L92.74 1191.61 L94.31 1191.60 L95.88 1191.59 L97.45 1191.58 L99.02 1191.57 L100.59 1191.56 L102.16 1191.55 L103.73 1191.54 L105.30 1191.53 L106.87 1191.51 L108.44 1191.50 L110.01 1191.49 L111.58 1191.47 L113.15 1191.46 L114.72 1191.44 L116.29 1191.42 L117.86 1191.41 L119.43 1191.39 L121.00 1191.37 L122.57 1191.35 L124.14 1191.33 L125.71 1191.31 L127.28 1191.29 L128.85 1191.26 L130.42 1191.24 L131.99 1191.21 L133.56 1191.19 L135.13 1191.16 L136.70 1191.13 L138.27 1191.10 L139.84 1191.07 L141.41 1191.03 L142.98 1191.00 L144.55 1190.96 L146.12 1190.93 L147.69 1190.89 L149.26 1190.84 L150.83 1190.80 L152.40 1190.76 L153.97 1190.71 L155.54 1190.66 L157.11 1190.61 L158.68 1190.55 L160.25 1190.50 L161.82 1190.44 L163.39 1190.38 L164.96 1190.31 L166.53 1190.24 L168.10 1190.17 L169.67 1190.10 L171.24 1190.02 L172.81 1189.94 L174.38 1189.86 L175.95 1189.77 L177.52 1189.68 L179.09 1189.58 L180.66 1189.48 L182.23 1189.37 L183.80 1189.26 L185.37 1189.15 L186.94 1189.03 L188.51 1188.90 L190.08 1188.77 L191.65 1188.64 L193.22 1188.49 L194.79 1188.34 L196.36 1188.19 L197.93 1188.02 L199.50 1187.85 L201.07 1187.67 L202.64 1187.49 L204.21 1187.29 L205.78 1187.09 L207.35 1186.87 L208.92 1186.65 L210.49 1186.42 L212.06 1186.17 L213.63 1185.92 L215.20 1185.65 L216.77 1185.37 L218.34 1185.08 L219.91 1184.78 L221.48 1184.46 L223.05 1184.13 L224.62 1183.78 L226.19 1183.42 L227.76 1183.04 L229.33 1182.64 L230.90 1182.23 L232.47 1181.80 L234.04 1181.34 L235.61 1180.87 L237.18 1180.38 L238.75 1179.86 L240.32 1179.32 L241.89 1178.75 L243.46 1178.16 L245.03 1177.55 L246.60 1176.90 L248.17 1176.23 L249.74 1175.52 L251.31 1174.79 L252.88 1174.02 L254.45 1173.21 L256.02 1172.37 L257.59 1171.49 L259.16 1170.57 L260.73 1169.61 L262.30 1168.61 L263.87 1167.56 L265.44 1166.46 L267.01 1165.32 L268.58 1164.12 L270.15 1162.87 L271.72 1161.56 L273.29 1160.19 L274.86 1158.76 L276.43 1157.26 L278.00 1155.70 L279.57 1154.07 L281.14 1152.36 L282.71 1150.58 L284.28 1148.71 L285.85 1146.76 L287.42 1144.72 L288.99 1142.59 L290.56 1140.37 L292.13 1138.04 L293.70 1135.61 L295.27 1133.06 L296.84 1130.41 L298.41 1127.63 L299.98 1124.73 L301.55 1121.69 L303.12 1118.52 L304.69 1115.20 L306.26 1111.74 L307.83 1108.12 L309.40 1104.33" stroke="#2ee82e" stroke-width="1.6" fill="none"/>
<path d="M58.20 1195.92 L59.77 1195.92 L61.34 1195.92 L62.91 1195.91 L64.48 1195.91 L66.05 1195.91 L67.62 1195.91 L69.19 1195.91 L70.76 1195.91 L72.33 1195.91 L73.90 1195.90 L75.47 1195.90 L77.04 1195.90 L78.61 1195.90 L80.18 1195.90 L81.75 1195.89 L83.32 1195.89 L84.89 1195.89 L86.46 1195.88 L88.03 1195.88 L89.60 1195.88 L91.17 1195.88 L92.74 1195.87 L94.31 1195.87 L95.88 1195.86 L97.45 1195.86 L99.02 1195.86 L100.59 1195.85 L102.16 1195.85 L103.73 1195.84 L105.30 1195.83 L106.87 1195.83 L108.44 1195.82 L110.01 1195.81 L111.58 1195.81 L113.15 1195.80 L114.72 1195.79 L116.29 1195.78 L117.86 1195.77 L119.43 1195.77 L121.00 1195.76 L122.57 1195.74 L124.14 1195.73 L125.71 1195.72 L127.28 1195.71 L128.85 1195.69 L130.42 1195.68 L131.99 1195.67 L133.56 1195.65 L135.13 1195.63 L136.70 1195.61 L138.27 1195.60 L139.84 1195.58 L141.41 1195.55 L142.98 1195.53 L144.55 1195.51 L146.12 1195.48 L147.69 1195.46 L149.26 1195.43 L150.83 1195.40 L152.40 1195.36 L153.97 1195.33 L155.54 1195.29 L157.11 1195.26 L158.68 1195.22 L160.25 1195.17 L161.82 1195.13 L163.39 1195.08 L164.96 1195.03 L166.53 1194.98 L168.10 1194.92 L169.67 1194.86 L171.24 1194.80 L172.81 1194.73 L174.38 1194.66 L175.95 1194.58 L177.52 1194.50 L179.09 1194.42 L180.66 1194.33 L182.23 1194.23 L183.80 1194.13 L185.37 1194.02 L186.94 1193.91 L188.51 1193.79 L190.08 1193.66 L191.65 1193.53 L193.22 1193.39 L194.79 1193.24 L196.36 1193.08 L197.93 1192.91 L199.50 1192.73 L201.07 1192.54 L202.64 1192.34 L204.21 1192.12 L205.78 1191.90 L207.35 1191.66 L208.92 1191.40 L210.49 1191.14 L212.06 1190.85 L213.63 1190.55 L215.20 1190.23 L216.77 1189.89 L218.34 1189.54 L219.91 1189.16 L221.48 1188.76 L223.05 1188.33 L224.62 1187.88 L226.19 1187.40 L227.76 1186.90 L229.33 1186.36 L230.90 1185.80 L232.47 1185.20 L234.04 1184.56 L235.61 1183.89 L237.18 1183.18 L238.75 1182.42 L240.32 1181.62 L241.89 1180.77 L243.46 1179.87 L245.03 1178.92 L246.60 1177.92 L248.17 1176.85 L249.74 1175.72 L251.31 1174.52 L252.88 1173.25 L254.45 1171.91 L256.02 1170.49 L257.59 1168.98 L259.16 1167.39 L260.73 1165.70 L262.30 1163.90 L263.87 1162.01 L265.44 1160.00 L267.01 1157.87 L268.58 1155.62 L270.15 1153.23 L271.72 1150.70 L273.29 1148.02 L274.86 1145.19 L276.43 1142.18 L278.00 1139.00 L279.57 1135.63 L281.14 1132.06 L282.71 1128.28 L284.28 1124.27 L285.85 1120.03 L287.42 1115.54 L288.99 1110.78 L290.56 1105.74 L292.13 1100.41 L293.70 1094.78 L295.27 1088.81 L296.84 1082.52 L298.41 1075.89 L299.98 1068.92 L301.55 1061.64 L303.12 1054.09 L304.69 1046.39 L306.26 1038.71 L307.83 1031.40 L309.40 1025.05" stroke="#cc9222" stroke-width="1.6" fill="none"/>
<path d="M58.20 1201.70 L59.77 1201.69 L61.34 1201.69 L62.91 1201.69 L64.48 1201.68 L66.05 1201.68 L67.62 1201.67 L69.19 1201.67 L70.76 1201.66 L72.33 1201.65 L73.90 1201.65 L75.47 1201.64 L77.04 1201.63 L78.61 1201.63 L80.18 1201.62 L81.75 1201.61 L83.32 1201.60 L84.89 1201.60 L86.46 1201.59 L88.03 1201.58 L89.60 1201.57 L91.17 1201.56 L92.74 1201.55 L94.31 1201.53 L95.88 1201.52 L97.45 1201.51 L99.02 1201.50 L100.59 1201.48 L102.16 1201.47 L103.73 1201.45 L105.30 1201.44 L106.87 1201.42 L108.44 1201.40 L110.01 1201.38 L111.58 1201.36 L113.15 1201.34 L114.72 1201.32 L116.29 1201.30 L117.86 1201.27 L119.43 1201.25 L121.00 1201.22 L122.57 1201.20 L124.14 1201.17 L125.71 1201.14 L127.28 1201.11 L128.85 1201.07 L130.42 1201.04 L131.99 1201.00 L133.56 1200.96 L135.13 1200.92 L136.70 1200.88 L138.27 1200.84 L139.84 1200.79 L141.41 1200.74 L142.98 1200.69 L144.55 1200.64 L146.12 1200.58 L147.69 1200.53 L149.26 1200.46 L150.83 1200.40 L152.40 1200.33 L153.97 1200.26 L155.54 1200.19 L157.11 1200.11 L158.68 1200.03 L160.25 1199.94 L161.82 1199.85 L163.39 1199.76 L164.96 1199.66 L166.53 1199.55 L168.10 1199.44 L169.67 1199.33 L171.24 1199.21 L172.81 1199.08 L174.38 1198.95 L175.95 1198.81 L177.52 1198.67 L179.09 1198.52 L180.66 1198.36 L182.23 1198.19 L183.80 1198.01 L185.37 1197.83 L186.94 1197.64 L188.51 1197.43 L190.08 1197.22 L191.65 1197.00 L193.22 1196.76 L194.79 1196.52 L196.36 1196.26 L197.93 1195.99 L199.50 1195.71 L201.07 1195.41 L202.64 1195.10 L204.21 1194.77 L205.78 1194.43 L207.35 1194.07 L208.92 1193.69 L210.49 1193.29 L212.06 1192.88 L213.63 1192.44 L215.20 1191.98 L216.77 1191.50 L218.34 1191.00 L219.91 1190.47 L221.48 1189.92 L223.05 1189.34 L224.62 1188.73 L226.19 1188.09 L227.76 1187.42 L229.33 1186.72 L230.90 1185.98 L232.47 1185.21 L234.04 1184.40 L235.61 1183.54 L237.18 1182.65 L238.75 1181.72 L240.32 1180.73 L241.89 1179.70 L243.46 1178.62 L245.03 1177.49 L246.60 1176.30 L248.17 1175.05 L249.74 1173.74 L251.31 1172.37 L252.88 1170.93 L254.45 1169.42 L256.02 1167.84 L257.59 1166.18 L259.16 1164.43 L260.73 1162.61 L262.30 1160.69 L263.87 1158.68 L265.44 1156.57 L267.01 1154.35 L268.58 1152.03 L270.15 1149.60 L271.72 1147.04 L273.29 1144.36 L274.86 1141.55 L276.43 1138.61 L278.00 1135.51 L279.57 1132.27 L281.14 1128.87 L282.71 1125.30 L284.28 1121.56 L285.85 1117.63 L287.42 1113.51 L288.99 1109.19 L290.56 1104.66 L292.13 1099.90 L293.70 1094.92 L295.27 1089.69 L296.84 1084.20 L298.41 1078.44 L299.98 1072.41 L301.55 1066.07 L303.12 1059.43 L304.69 1052.46 L306.26 1045.15 L307.83 1037.49 L309.40 1029.45" stroke="#d2cc92" stroke-width="1.6" fill="none"/>
<path d="M58.20 1196.25 L59.77 1196.25 L61.34 1196.25 L62.91 1196.25 L64.48 1196.25 L66.05 1196.25 L67.62 1196.25 L69.19 1196.25 L70.76 1196.25 L72.33 1196.25 L73.90 1196.25 L75.47 1196.25 L77.04 1196.25 L78.61 1196.24 L80.18 1196.24 L81.75 1196.24 L83.32 1196.24 L84.89 1196.24 L86.46 1196.24 L88.03 1196.24 L89.60 1196.24 L91.17 1196.23 L92.74 1196.23 L94.31 1196.23 L95.88 1196.23 L97.45 1196.23 L99.02 1196.23 L100.59 1196.22 L102.16 1196.22 L103.73 1196.22 L105.30 1196.22 L106.87 1196.21 L108.44 1196.21 L110.01 1196.21 L111.58 1196.20 L113.15 1196.20 L114.72 1196.20 L116.29 1196.19 L117.86 1196.19 L119.43 1196.18 L121.00 1196.18 L122.57 1196.17 L124.14 1196.17 L125.71 1196.16 L127.28 1196.16 L128.85 1196.15 L130.42 1196.14 L131.99 1196.14 L133.56 1196.13 L135.13 1196.12 L136.70 1196.11 L138.27 1196.10 L139.84 1196.09 L141.41 1196.08 L142.98 1196.07 L144.55 1196.06 L146.12 1196.05 L147.69 1196.04 L149.26 1196.02 L150.83 1196.01 L152.40 1195.99 L153.97 1195.98 L155.54 1195.96 L157.11 1195.94 L158.68 1195.92 L160.25 1195.90 L161.82 1195.88 L163.39 1195.85 L164.96 1195.83 L166.53 1195.80 L168.10 1195.77 L169.67 1195.74 L171.24 1195.71 L172.81 1195.68 L174.38 1195.64 L175.95 1195.60 L177.52 1195.56 L179.09 1195.52 L180.66 1195.47 L182.23 1195.43 L183.80 1195.37 L185.37 1195.32 L186.94 1195.26 L188.51 1195.20 L190.08 1195.14 L191.65 1195.07 L193.22 1194.99 L194.79 1194.91 L196.36 1194.83 L197.93 1194.74 L199.50 1194.65 L201.07 1194.55 L202.64 1194.45 L204.21 1194.33 L205.78 1194.22 L207.35 1194.09 L208.92 1193.96 L210.49 1193.81 L212.06 1193.66 L213.63 1193.50 L215.20 1193.33 L216.77 1193.15 L218.34 1192.96 L219.91 1192.76 L221.48 1192.54 L223.05 1192.31 L224.62 1192.07 L226.19 1191.81 L227.76 1191.54 L229.33 1191.25 L230.90 1190.94 L232.47 1190.61 L234.04 1190.27 L235.61 1189.90 L237.18 1189.51 L238.75 1189.09 L240.32 1188.65 L241.89 1188.18 L243.46 1187.68 L245.03 1187.15 L246.60 1186.59 L248.17 1186.00 L249.74 1185.37 L251.31 1184.70 L252.88 1183.99 L254.45 1183.23 L256.02 1182.43 L257.59 1181.58 L259.16 1180.67 L260.73 1179.71 L262.30 1178.69 L263.87 1177.61 L265.44 1176.47 L267.01 1175.25 L268.58 1173.95 L270.15 1172.58 L271.72 1171.12 L273.29 1169.57 L274.86 1167.93 L276.43 1166.19 L278.00 1164.34 L279.57 1162.37 L281.14 1160.29 L282.71 1158.07 L284.28 1155.72 L285.85 1153.23 L287.42 1150.58 L288.99 1147.76 L290.56 1144.78 L292.13 1141.61 L293.70 1138.25 L295.27 1134.68 L296.84 1130.88 L298.41 1126.86 L299.98 1122.59 L301.55 1118.05 L303.12 1113.24 L304.69 1108.13 L306.26 1102.70 L307.83 1096.95 L309.40 1090.83" stroke="#555555" stroke-width="1.6" fill="none"/>
<path d="M58.20 1202.37 L59.77 1202.37 L61.34 1202.37 L62.91 1202.37 L64.48 1202.37 L66.05 1202.37 L67.62 1202.37 L69.19 1202.37 L70.76 1202.37 L72.33 1202.37 L73.90 1202.37 L75.47 1202.37 L77.04 1202.37 L78.61 1202.36 L80.18 1202.36 L81.75 1202.36 L83.32 1202.36 L84.89 1202.36 L86.46 1202.36 L88.03 1202.36 L89.60 1202.36 L91.17 1202.36 L92.74 1202.36 L94.31 1202.36 L95.88 1202.36 L97.45 1202.36 L99.02 1202.36 L100.59 1202.35 L102.16 1202.35 L103.73 1202.35 L105.30 1202.35 L106.87 1202.35 L108.44 1202.35 L110.01 1202.35 L111.58 1202.34 L113.15 1202.34 L114.72 1202.34 L116.29 1202.34 L117.86 1202.34 L119.43 1202.33 L121.00 1202.33 L122.57 1202.33 L124.14 1202.33 L125.71 1202.32 L127.28 1202.32 L128.85 1202.32 L130.42 1202.31 L131.99 1202.31 L133.56 1202.30 L135.13 1202.30 L136.70 1202.29 L138.27 1202.29 L139.84 1202.28 L141.41 1202.28 L142.98 1202.27 L144.55 1202.26 L146.12 1202.26 L147.69 1202.25 L149.26 1202.24 L150.83 1202.23 L152.40 1202.22 L153.97 1202.21 L155.54 1202.20 L157.11 1202.19 L158.68 1202.18 L160.25 1202.16 L161.82 1202.15 L163.39 1202.13 L164.96 1202.12 L166.53 1202.10 L168.10 1202.08 L169.67 1202.06 L171.24 1202.04 L172.81 1202.02 L174.38 1201.99 L175.95 1201.97 L177.52 1201.94 L179.09 1201.91 L180.66 1201.88 L182.23 1201.85 L183.80 1201.81 L185.37 1201.77 L186.94 1201.73 L188.51 1201.69 L190.08 1201.64 L191.65 1201.59 L193.22 1201.53 L194.79 1201.48 L196.36 1201.42 L197.93 1201.35 L199.50 1201.28 L201.07 1201.20 L202.64 1201.12 L204.21 1201.04 L205.78 1200.95 L207.35 1200.85 L208.92 1200.75 L210.49 1200.63 L212.06 1200.52 L213.63 1200.39 L215.20 1200.25 L216.77 1200.11 L218.34 1199.95 L219.91 1199.78 L221.48 1199.61 L223.05 1199.42 L224.62 1199.21 L226.19 1199.00 L227.76 1198.77 L229.33 1198.52 L230.90 1198.25 L232.47 1197.97 L234.04 1197.67 L235.61 1197.35 L237.18 1197.00 L238.75 1196.63 L240.32 1196.24 L241.89 1195.82 L243.46 1195.37 L245.03 1194.89 L246.60 1194.38 L248.17 1193.83 L249.74 1193.24 L251.31 1192.62 L252.88 1191.95 L254.45 1191.23 L256.02 1190.47 L257.59 1189.65 L259.16 1188.78 L260.73 1187.84 L262.30 1186.85 L263.87 1185.78 L265.44 1184.64 L267.01 1183.43 L268.58 1182.13 L270.15 1180.74 L271.72 1179.25 L273.29 1177.67 L274.86 1175.97 L276.43 1174.16 L278.00 1172.22 L279.57 1170.16 L281.14 1167.94 L282.71 1165.58 L284.28 1163.06 L285.85 1160.36 L287.42 1157.48 L288.99 1154.40 L290.56 1151.10 L292.13 1147.58 L293.70 1143.82 L295.27 1139.81 L296.84 1135.51 L298.41 1130.93 L299.98 1126.02 L301.55 1120.78 L303.12 1115.18 L304.69 1109.20 L306.26 1102.81 L307.83 1095.98 L309.40 1088.67" stroke="#8c8c8c" stroke-width="1.6" fill="none"/>
<path d="M60.16 1196.61V1192.30M58.56 1196.61h3.20M58.56 1192.30h3.20" stroke="#4a66e2" stroke-width="1.35"/>
<path d="M84.75 1196.12V1191.26M83.15 1196.12h3.20M83.15 1191.26h3.20" stroke="#4a66e2" stroke-width="1.35"/>
<path d="M109.35 1194.58V1188.05M107.75 1194.58h3.20M107.75 1188.05h3.20" stroke="#4a66e2" stroke-width="1.35"/>
<path d="M133.94 1193.87V1186.58M132.34 1193.87h3.20M132.34 1186.58h3.20" stroke="#4a66e2" stroke-width="1.35"/>
<path d="M158.54 1193.16V1185.10M156.94 1193.16h3.20M156.94 1185.10h3.20" stroke="#4a66e2" stroke-width="1.35"/>
<path d="M183.13 1192.10V1182.89M181.53 1192.10h3.20M181.53 1182.89h3.20" stroke="#4a66e2" stroke-width="1.35"/>
<path d="M207.72 1190.50V1179.57M206.12 1190.50h3.20M206.12 1179.57h3.20" stroke="#4a66e2" stroke-width="1.35"/>
<path d="M232.32 1186.43V1171.08M230.72 1186.43h3.20M230.72 1171.08h3.20" stroke="#4a66e2" stroke-width="1.35"/>
<path d="M256.91 1178.11V1153.74M255.31 1178.11h3.20M255.31 1153.74h3.20" stroke="#4a66e2" stroke-width="1.35"/>
<path d="M281.51 1165.18V1126.80M279.91 1165.18h3.20M279.91 1126.80h3.20" stroke="#4a66e2" stroke-width="1.35"/>
<path d="M306.10 1136.84V1067.76M304.50 1136.84h3.20M304.50 1067.76h3.20" stroke="#4a66e2" stroke-width="1.35"/>
<rect x="57.86" y="1191.66" width="4.60" height="4.60" fill="#4a66e2" fill-opacity="0.3" stroke="#4a66e2" stroke-width="1.5"/>
<rect x="82.45" y="1190.83" width="4.60" height="4.60" fill="#4a66e2" fill-opacity="0.3" stroke="#4a66e2" stroke-width="1.5"/>
<rect x="107.05" y="1188.26" width="4.60" height="4.60" fill="#4a66e2" fill-opacity="0.3" stroke="#4a66e2" stroke-width="1.5"/>
<rect x="131.64" y="1187.08" width="4.60" height="4.60" fill="#4a66e2" fill-opacity="0.3" stroke="#4a66e2" stroke-width="1.5"/>
<rect x="156.24" y="1185.90" width="4.60" height="4.60" fill="#4a66e2" fill-opacity="0.3" stroke="#4a66e2" stroke-width="1.5"/>
<rect x="180.83" y="1184.13" width="4.60" height="4.60" fill="#4a66e2" fill-opacity="0.3" stroke="#4a66e2" stroke-width="1.5"/>
<rect x="205.42" y="1181.47" width="4.60" height="4.60" fill="#4a66e2" fill-opacity="0.3" stroke="#4a66e2" stroke-width="1.5"/>
<rect x="230.02" y="1174.68" width="4.60" height="4.60" fill="#4a66e2" fill-opacity="0.3" stroke="#4a66e2" stroke-width="1.5"/>
<rect x="254.61" y="1160.81" width="4.60" height="4.60" fill="#4a66e2" fill-opacity="0.3" stroke="#4a66e2" stroke-width="1.5"/>
<rect x="279.21" y="1139.26" width="4.60" height="4.60" fill="#4a66e2" fill-opacity="0.3" stroke="#4a66e2" stroke-width="1.5"/>
<rect x="303.80" y="1092.03" width="4.60" height="4.60" fill="#4a66e2" fill-opacity="0.3" stroke="#4a66e2" stroke-width="1.5"/>
<path d="M60.16 1189.97V1187.61M58.56 1189.97h3.20M58.56 1187.61h3.20" stroke="#22cdd0" stroke-width="1.35"/>
<path d="M84.75 1187.32V1184.36M83.15 1187.32h3.20M83.15 1184.36h3.20" stroke="#22cdd0" stroke-width="1.35"/>
<path d="M109.35 1186.25V1183.07M107.75 1186.25h3.20M107.75 1183.07h3.20" stroke="#22cdd0" stroke-width="1.35"/>
<path d="M133.94 1187.32V1184.36M132.34 1187.32h3.20M132.34 1184.36h3.20" stroke="#22cdd0" stroke-width="1.35"/>
<path d="M158.54 1186.25V1183.07M156.94 1186.25h3.20M156.94 1183.07h3.20" stroke="#22cdd0" stroke-width="1.35"/>
<path d="M183.13 1184.92V1181.44M181.53 1184.92h3.20M181.53 1181.44h3.20" stroke="#22cdd0" stroke-width="1.35"/>
<path d="M207.72 1182.27V1178.19M206.12 1182.27h3.20M206.12 1178.19h3.20" stroke="#22cdd0" stroke-width="1.35"/>
<path d="M232.32 1176.82V1171.54M230.72 1176.82h3.20M230.72 1171.54h3.20" stroke="#22cdd0" stroke-width="1.35"/>
<path d="M256.91 1165.26V1157.41M255.31 1165.26h3.20M255.31 1157.41h3.20" stroke="#22cdd0" stroke-width="1.35"/>
<path d="M281.51 1147.46V1135.66M279.91 1147.46h3.20M279.91 1135.66h3.20" stroke="#22cdd0" stroke-width="1.35"/>
<path d="M306.10 1110.27V1090.20M304.50 1110.27h3.20M304.50 1090.20h3.20" stroke="#22cdd0" stroke-width="1.35"/>
<path d="M57.96 1186.59L62.36 1190.99M57.96 1190.99L62.36 1186.59" stroke="#22cdd0" stroke-width="1.3"/>
<path d="M82.55 1183.64L86.95 1188.04M82.55 1188.04L86.95 1183.64" stroke="#22cdd0" stroke-width="1.3"/>
<path d="M107.15 1182.46L111.55 1186.86M107.15 1186.86L111.55 1182.46" stroke="#22cdd0" stroke-width="1.3"/>
<path d="M131.74 1183.64L136.14 1188.04M131.74 1188.04L136.14 1183.64" stroke="#22cdd0" stroke-width="1.3"/>
<path d="M156.34 1182.46L160.74 1186.86M156.34 1186.86L160.74 1182.46" stroke="#22cdd0" stroke-width="1.3"/>
<path d="M180.93 1180.98L185.33 1185.38M180.93 1185.38L185.33 1180.98" stroke="#22cdd0" stroke-width="1.3"/>
<path d="M205.52 1178.03L209.92 1182.43M205.52 1182.43L209.92 1178.03" stroke="#22cdd0" stroke-width="1.3"/>
<path d="M230.12 1171.98L234.52 1176.38M230.12 1176.38L234.52 1171.98" stroke="#22cdd0" stroke-width="1.3"/>
<path d="M254.71 1159.14L259.11 1163.54M254.71 1163.54L259.11 1159.14" stroke="#22cdd0" stroke-width="1.3"/>
<path d="M279.31 1139.36L283.71 1143.76M279.31 1143.76L283.71 1139.36" stroke="#22cdd0" stroke-width="1.3"/>
<path d="M303.90 1098.03L308.30 1102.43M303.90 1102.43L308.30 1098.03" stroke="#22cdd0" stroke-width="1.3"/>
<path d="M60.16 1198.24V1192.33M58.56 1198.24h3.20M58.56 1192.33h3.20" stroke="#b33333" stroke-width="1.35"/>
<path d="M84.75 1198.24V1190.86M83.15 1198.24h3.20M83.15 1190.86h3.20" stroke="#b33333" stroke-width="1.35"/>
<path d="M109.35 1196.17V1187.32M107.75 1196.17h3.20M107.75 1187.32h3.20" stroke="#b33333" stroke-width="1.35"/>
<path d="M133.94 1194.70V1185.84M132.34 1194.70h3.20M132.34 1185.84h3.20" stroke="#b33333" stroke-width="1.35"/>
<path d="M158.54 1193.22V1184.36M156.94 1193.22h3.20M156.94 1184.36h3.20" stroke="#b33333" stroke-width="1.35"/>
<path d="M183.13 1191.74V1181.41M181.53 1191.74h3.20M181.53 1181.41h3.20" stroke="#b33333" stroke-width="1.35"/>
<path d="M207.72 1190.27V1178.46M206.12 1190.27h3.20M206.12 1178.46h3.20" stroke="#b33333" stroke-width="1.35"/>
<path d="M232.32 1185.84V1171.08M230.72 1185.84h3.20M230.72 1171.08h3.20" stroke="#b33333" stroke-width="1.35"/>
<path d="M256.91 1176.98V1153.37M255.31 1176.98h3.20M255.31 1153.37h3.20" stroke="#b33333" stroke-width="1.35"/>
<path d="M281.51 1165.18V1123.85M279.91 1165.18h3.20M279.91 1123.85h3.20" stroke="#b33333" stroke-width="1.35"/>
<path d="M306.10 1126.80V1082.52M304.50 1126.80h3.20M304.50 1082.52h3.20" stroke="#b33333" stroke-width="1.35"/>
<rect x="57.86" y="1192.04" width="4.60" height="4.60" fill="#b33333" fill-opacity="0.3" stroke="#b33333" stroke-width="1.5"/>
<rect x="82.45" y="1191.45" width="4.60" height="4.60" fill="#b33333" fill-opacity="0.3" stroke="#b33333" stroke-width="1.5"/>
<rect x="107.05" y="1188.56" width="4.60" height="4.60" fill="#b33333" fill-opacity="0.3" stroke="#b33333" stroke-width="1.5"/>
<rect x="131.64" y="1186.85" width="4.60" height="4.60" fill="#b33333" fill-opacity="0.3" stroke="#b33333" stroke-width="1.5"/>
<rect x="156.24" y="1185.67" width="4.60" height="4.60" fill="#b33333" fill-opacity="0.3" stroke="#b33333" stroke-width="1.5"/>
<rect x="180.83" y="1183.84" width="4.60" height="4.60" fill="#b33333" fill-opacity="0.3" stroke="#b33333" stroke-width="1.5"/>
<rect x="205.42" y="1181.27" width="4.60" height="4.60" fill="#b33333" fill-opacity="0.3" stroke="#b33333" stroke-width="1.5"/>
<rect x="230.02" y="1175.16" width="4.60" height="4.60" fill="#b33333" fill-opacity="0.3" stroke="#b33333" stroke-width="1.5"/>
<rect x="254.61" y="1160.81" width="4.60" height="4.60" fill="#b33333" fill-opacity="0.3" stroke="#b33333" stroke-width="1.5"/>
<rect x="279.21" y="1139.26" width="4.60" height="4.60" fill="#b33333" fill-opacity="0.3" stroke="#b33333" stroke-width="1.5"/>
<rect x="303.80" y="1090.55" width="4.60" height="4.60" fill="#b33333" fill-opacity="0.3" stroke="#b33333" stroke-width="1.5"/>
<path d="M60.16 1188.38V1185.66M58.56 1188.38h3.20M58.56 1185.66h3.20" stroke="#b27cf2" stroke-width="1.35"/>
<path d="M84.75 1187.32V1184.36M83.15 1187.32h3.20M83.15 1184.36h3.20" stroke="#b27cf2" stroke-width="1.35"/>
<path d="M109.35 1186.52V1183.39M107.75 1186.52h3.20M107.75 1183.39h3.20" stroke="#b27cf2" stroke-width="1.35"/>
<path d="M133.94 1187.13V1184.14M132.34 1187.13h3.20M132.34 1184.14h3.20" stroke="#b27cf2" stroke-width="1.35"/>
<path d="M158.54 1186.25V1183.07M156.94 1186.25h3.20M156.94 1183.07h3.20" stroke="#b27cf2" stroke-width="1.35"/>
<path d="M183.13 1184.92V1181.44M181.53 1184.92h3.20M181.53 1181.44h3.20" stroke="#b27cf2" stroke-width="1.35"/>
<path d="M207.72 1182.37V1178.32M206.12 1182.37h3.20M206.12 1178.32h3.20" stroke="#b27cf2" stroke-width="1.35"/>
<path d="M232.32 1176.34V1170.95M230.72 1176.34h3.20M230.72 1170.95h3.20" stroke="#b27cf2" stroke-width="1.35"/>
<path d="M256.91 1166.33V1158.71M255.31 1166.33h3.20M255.31 1158.71h3.20" stroke="#b27cf2" stroke-width="1.35"/>
<path d="M281.51 1147.46V1135.66M279.91 1147.46h3.20M279.91 1135.66h3.20" stroke="#b27cf2" stroke-width="1.35"/>
<path d="M306.10 1110.27V1090.20M304.50 1110.27h3.20M304.50 1090.20h3.20" stroke="#b27cf2" stroke-width="1.35"/>
<path d="M57.96 1184.82L62.36 1189.22M57.96 1189.22L62.36 1184.82" stroke="#b27cf2" stroke-width="1.3"/>
<path d="M82.55 1183.64L86.95 1188.04M82.55 1188.04L86.95 1183.64" stroke="#b27cf2" stroke-width="1.3"/>
<path d="M107.15 1182.75L111.55 1187.15M107.15 1187.15L111.55 1182.75" stroke="#b27cf2" stroke-width="1.3"/>
<path d="M131.74 1183.43L136.14 1187.83M131.74 1187.83L136.14 1183.43" stroke="#b27cf2" stroke-width="1.3"/>
<path d="M156.34 1182.46L160.74 1186.86M156.34 1186.86L160.74 1182.46" stroke="#b27cf2" stroke-width="1.3"/>
<path d="M180.93 1180.98L185.33 1185.38M180.93 1185.38L185.33 1180.98" stroke="#b27cf2" stroke-width="1.3"/>
<path d="M205.52 1178.15L209.92 1182.55M205.52 1182.55L209.92 1178.15" stroke="#b27cf2" stroke-width="1.3"/>
<path d="M230.12 1171.45L234.52 1175.85M230.12 1175.85L234.52 1171.45" stroke="#b27cf2" stroke-width="1.3"/>
<path d="M254.71 1160.32L259.11 1164.72M254.71 1164.72L259.11 1160.32" stroke="#b27cf2" stroke-width="1.3"/>
<path d="M279.31 1139.36L283.71 1143.76M279.31 1143.76L283.71 1139.36" stroke="#b27cf2" stroke-width="1.3"/>
<path d="M303.90 1098.03L308.30 1102.43M303.90 1102.43L308.30 1098.03" stroke="#b27cf2" stroke-width="1.3"/>
<path d="M60.16 1200.01V1190.56M58.56 1200.01h3.20M58.56 1190.56h3.20" stroke="#1f7a1f" stroke-width="1.35"/>
<path d="M84.75 1199.42V1190.86M83.15 1199.42h3.20M83.15 1190.86h3.20" stroke="#1f7a1f" stroke-width="1.35"/>
<path d="M109.35 1197.06V1185.84M107.75 1197.06h3.20M107.75 1185.84h3.20" stroke="#1f7a1f" stroke-width="1.35"/>
<path d="M133.94 1197.65V1188.79M132.34 1197.65h3.20M132.34 1188.79h3.20" stroke="#1f7a1f" stroke-width="1.35"/>
<path d="M158.54 1197.06V1187.32M156.94 1197.06h3.20M156.94 1187.32h3.20" stroke="#1f7a1f" stroke-width="1.35"/>
<path d="M183.13 1196.17V1185.84M181.53 1196.17h3.20M181.53 1185.84h3.20" stroke="#1f7a1f" stroke-width="1.35"/>
<path d="M207.72 1194.70V1182.89M206.12 1194.70h3.20M206.12 1182.89h3.20" stroke="#1f7a1f" stroke-width="1.35"/>
<path d="M232.32 1191.74V1175.51M230.72 1191.74h3.20M230.72 1175.51h3.20" stroke="#1f7a1f" stroke-width="1.35"/>
<path d="M256.91 1185.84V1162.22M255.31 1185.84h3.20M255.31 1162.22h3.20" stroke="#1f7a1f" stroke-width="1.35"/>
<path d="M281.51 1171.08V1135.66M279.91 1171.08h3.20M279.91 1135.66h3.20" stroke="#1f7a1f" stroke-width="1.35"/>
<path d="M306.10 1126.80V1082.52M304.50 1126.80h3.20M304.50 1082.52h3.20" stroke="#1f7a1f" stroke-width="1.35"/>
<rect x="57.86" y="1194.11" width="4.60" height="4.60" fill="#1f7a1f" fill-opacity="0.3" stroke="#1f7a1f" stroke-width="1.5"/>
<rect x="82.45" y="1193.75" width="4.60" height="4.60" fill="#1f7a1f" fill-opacity="0.3" stroke="#1f7a1f" stroke-width="1.5"/>
<rect x="107.05" y="1188.26" width="4.60" height="4.60" fill="#1f7a1f" fill-opacity="0.3" stroke="#1f7a1f" stroke-width="1.5"/>
<rect x="131.64" y="1190.89" width="4.60" height="4.60" fill="#1f7a1f" fill-opacity="0.3" stroke="#1f7a1f" stroke-width="1.5"/>
<rect x="156.24" y="1189.74" width="4.60" height="4.60" fill="#1f7a1f" fill-opacity="0.3" stroke="#1f7a1f" stroke-width="1.5"/>
<rect x="180.83" y="1188.09" width="4.60" height="4.60" fill="#1f7a1f" fill-opacity="0.3" stroke="#1f7a1f" stroke-width="1.5"/>
<rect x="205.42" y="1186.37" width="4.60" height="4.60" fill="#1f7a1f" fill-opacity="0.3" stroke="#1f7a1f" stroke-width="1.5"/>
<rect x="230.02" y="1180.59" width="4.60" height="4.60" fill="#1f7a1f" fill-opacity="0.3" stroke="#1f7a1f" stroke-width="1.5"/>
<rect x="254.61" y="1170.55" width="4.60" height="4.60" fill="#1f7a1f" fill-opacity="0.3" stroke="#1f7a1f" stroke-width="1.5"/>
<rect x="279.21" y="1150.18" width="4.60" height="4.60" fill="#1f7a1f" fill-opacity="0.3" stroke="#1f7a1f" stroke-width="1.5"/>
<rect x="303.80" y="1097.93" width="4.60" height="4.60" fill="#1f7a1f" fill-opacity="0.3" stroke="#1f7a1f" stroke-width="1.5"/>
<path d="M60.16 1193.88V1192.38M58.56 1193.88h3.20M58.56 1192.38h3.20" stroke="#2ee82e" stroke-width="1.35"/>
<path d="M84.75 1193.16V1191.51M83.15 1193.16h3.20M83.15 1191.51h3.20" stroke="#2ee82e" stroke-width="1.35"/>
<path d="M109.35 1192.63V1190.86M107.75 1192.63h3.20M107.75 1190.86h3.20" stroke="#2ee82e" stroke-width="1.35"/>
<path d="M133.94 1192.07V1190.18M132.34 1192.07h3.20M132.34 1190.18h3.20" stroke="#2ee82e" stroke-width="1.35"/>
<path d="M158.54 1191.30V1189.23M156.94 1191.30h3.20M156.94 1189.23h3.20" stroke="#2ee82e" stroke-width="1.35"/>
<path d="M183.13 1189.47V1186.99M181.53 1189.47h3.20M181.53 1186.99h3.20" stroke="#2ee82e" stroke-width="1.35"/>
<path d="M207.72 1187.95V1185.14M206.12 1187.95h3.20M206.12 1185.14h3.20" stroke="#2ee82e" stroke-width="1.35"/>
<path d="M232.32 1183.44V1179.62M230.72 1183.44h3.20M230.72 1179.62h3.20" stroke="#2ee82e" stroke-width="1.35"/>
<path d="M256.91 1175.63V1170.08M255.31 1175.63h3.20M255.31 1170.08h3.20" stroke="#2ee82e" stroke-width="1.35"/>
<path d="M281.51 1158.09V1148.64M279.91 1158.09h3.20M279.91 1148.64h3.20" stroke="#2ee82e" stroke-width="1.35"/>
<path d="M306.10 1121.16V1103.51M304.50 1121.16h3.20M304.50 1103.51h3.20" stroke="#2ee82e" stroke-width="1.35"/>
<path d="M57.96 1190.93L62.36 1195.33M57.96 1195.33L62.36 1190.93" stroke="#2ee82e" stroke-width="1.3"/>
<path d="M82.55 1190.13L86.95 1194.53M82.55 1194.53L86.95 1190.13" stroke="#2ee82e" stroke-width="1.3"/>
<path d="M107.15 1189.54L111.55 1193.94M107.15 1193.94L111.55 1189.54" stroke="#2ee82e" stroke-width="1.3"/>
<path d="M131.74 1188.92L136.14 1193.32M131.74 1193.32L136.14 1188.92" stroke="#2ee82e" stroke-width="1.3"/>
<path d="M156.34 1188.07L160.74 1192.47M156.34 1192.47L160.74 1188.07" stroke="#2ee82e" stroke-width="1.3"/>
<path d="M180.93 1186.03L185.33 1190.43M180.93 1190.43L185.33 1186.03" stroke="#2ee82e" stroke-width="1.3"/>
<path d="M205.52 1184.35L209.92 1188.75M205.52 1188.75L209.92 1184.35" stroke="#2ee82e" stroke-width="1.3"/>
<path d="M230.12 1179.33L234.52 1183.73M230.12 1183.73L234.52 1179.33" stroke="#2ee82e" stroke-width="1.3"/>
<path d="M254.71 1170.65L259.11 1175.05M254.71 1175.05L259.11 1170.65" stroke="#2ee82e" stroke-width="1.3"/>
<path d="M279.31 1151.17L283.71 1155.57M279.31 1155.57L283.71 1151.17" stroke="#2ee82e" stroke-width="1.3"/>
<path d="M303.90 1110.14L308.30 1114.54M303.90 1114.54L308.30 1110.14" stroke="#2ee82e" stroke-width="1.3"/>
<path d="M84.75 1200.30V1184.84M83.15 1200.30h3.20M83.15 1184.84h3.20" stroke="#cc9222" stroke-width="1.35"/>
<path d="M109.35 1200.30V1186.14M107.75 1200.30h3.20M107.75 1186.14h3.20" stroke="#cc9222" stroke-width="1.35"/>
<path d="M133.94 1200.30V1187.32M132.34 1200.30h3.20M132.34 1187.32h3.20" stroke="#cc9222" stroke-width="1.35"/>
<path d="M158.54 1200.30V1184.07M156.94 1200.30h3.20M156.94 1184.07h3.20" stroke="#cc9222" stroke-width="1.35"/>
<path d="M183.13 1200.30V1182.89M181.53 1200.30h3.20M181.53 1182.89h3.20" stroke="#cc9222" stroke-width="1.35"/>
<path d="M207.72 1200.30V1177.87M206.12 1200.30h3.20M206.12 1177.87h3.20" stroke="#cc9222" stroke-width="1.35"/>
<path d="M232.32 1200.30V1169.01M230.72 1200.30h3.20M230.72 1169.01h3.20" stroke="#cc9222" stroke-width="1.35"/>
<path d="M256.91 1191.74V1140.08M255.31 1191.74h3.20M255.31 1140.08h3.20" stroke="#cc9222" stroke-width="1.35"/>
<path d="M281.51 1176.98V1085.47M279.91 1176.98h3.20M279.91 1085.47h3.20" stroke="#cc9222" stroke-width="1.35"/>
<path d="M306.10 1103.18V967.39M304.50 1103.18h3.20M304.50 967.39h3.20" stroke="#cc9222" stroke-width="1.35"/>
<path d="M84.75 1192.10L88.05 1195.40L84.75 1198.70L81.45 1195.40Z" fill="#cc9222" fill-opacity="0.3" stroke="#cc9222" stroke-width="1.4"/>
<path d="M109.35 1190.66L112.65 1193.96L109.35 1197.26L106.05 1193.96Z" fill="#cc9222" fill-opacity="0.3" stroke="#cc9222" stroke-width="1.4"/>
<path d="M133.94 1192.43L137.24 1195.73L133.94 1199.03L130.64 1195.73Z" fill="#cc9222" fill-opacity="0.3" stroke="#cc9222" stroke-width="1.4"/>
<path d="M158.54 1191.48L161.84 1194.78L158.54 1198.08L155.24 1194.78Z" fill="#cc9222" fill-opacity="0.3" stroke="#cc9222" stroke-width="1.4"/>
<path d="M183.13 1190.57L186.43 1193.87L183.13 1197.17L179.83 1193.87Z" fill="#cc9222" fill-opacity="0.3" stroke="#cc9222" stroke-width="1.4"/>
<path d="M207.72 1187.56L211.02 1190.86L207.72 1194.16L204.42 1190.86Z" fill="#cc9222" fill-opacity="0.3" stroke="#cc9222" stroke-width="1.4"/>
<path d="M232.32 1180.62L235.62 1183.92L232.32 1187.22L229.02 1183.92Z" fill="#cc9222" fill-opacity="0.3" stroke="#cc9222" stroke-width="1.4"/>
<path d="M256.91 1160.70L260.21 1164.00L256.91 1167.30L253.61 1164.00Z" fill="#cc9222" fill-opacity="0.3" stroke="#cc9222" stroke-width="1.4"/>
<path d="M281.51 1124.39L284.81 1127.69L281.51 1130.99L278.21 1127.69Z" fill="#cc9222" fill-opacity="0.3" stroke="#cc9222" stroke-width="1.4"/>
<path d="M306.10 1033.17L309.40 1036.47L306.10 1039.77L302.80 1036.47Z" fill="#cc9222" fill-opacity="0.3" stroke="#cc9222" stroke-width="1.4"/>
<path d="M207.72 1197.92V1197.32M206.12 1197.92h3.20M206.12 1197.32h3.20" stroke="#d2cc92" stroke-width="1.35"/>
<path d="M232.32 1186.41V1183.26M230.72 1186.41h3.20M230.72 1183.26h3.20" stroke="#d2cc92" stroke-width="1.35"/>
<path d="M256.91 1167.66V1160.33M255.31 1167.66h3.20M255.31 1160.33h3.20" stroke="#d2cc92" stroke-width="1.35"/>
<path d="M281.51 1136.84V1122.67M279.91 1136.84h3.20M279.91 1122.67h3.20" stroke="#d2cc92" stroke-width="1.35"/>
<path d="M306.10 1061.65V1030.77M304.50 1061.65h3.20M304.50 1030.77h3.20" stroke="#d2cc92" stroke-width="1.35"/>
<circle cx="207.72" cy="1197.62" r="2.00" fill="#d2cc92"/>
<circle cx="232.32" cy="1184.84" r="2.00" fill="#d2cc92"/>
<circle cx="256.91" cy="1164.00" r="2.00" fill="#d2cc92"/>
<circle cx="281.51" cy="1129.75" r="2.00" fill="#d2cc92"/>
<circle cx="306.10" cy="1046.21" r="2.00" fill="#d2cc92"/>
<path d="M84.75 1200.30V1185.84M83.15 1200.30h3.20M83.15 1185.84h3.20" stroke="#555555" stroke-width="1.35"/>
<path d="M109.35 1200.30V1187.32M107.75 1200.30h3.20M107.75 1187.32h3.20" stroke="#555555" stroke-width="1.35"/>
<path d="M133.94 1200.30V1188.79M132.34 1200.30h3.20M132.34 1188.79h3.20" stroke="#555555" stroke-width="1.35"/>
<path d="M158.54 1200.30V1187.32M156.94 1200.30h3.20M156.94 1187.32h3.20" stroke="#555555" stroke-width="1.35"/>
<path d="M183.13 1200.30V1185.84M181.53 1200.30h3.20M181.53 1185.84h3.20" stroke="#555555" stroke-width="1.35"/>
<path d="M207.72 1200.30V1182.89M206.12 1200.30h3.20M206.12 1182.89h3.20" stroke="#555555" stroke-width="1.35"/>
<path d="M232.32 1200.30V1176.98M230.72 1200.30h3.20M230.72 1176.98h3.20" stroke="#555555" stroke-width="1.35"/>
<path d="M256.91 1196.64V1141.56M255.31 1196.64h3.20M255.31 1141.56h3.20" stroke="#555555" stroke-width="1.35"/>
<path d="M281.51 1188.79V1117.94M279.91 1188.79h3.20M279.91 1117.94h3.20" stroke="#555555" stroke-width="1.35"/>
<path d="M306.10 1153.37V1053.00M304.50 1153.37h3.20M304.50 1053.00h3.20" stroke="#555555" stroke-width="1.35"/>
<path d="M84.75 1191.10L88.05 1194.40L84.75 1197.70L81.45 1194.40Z" fill="#555555" fill-opacity="0.3" stroke="#555555" stroke-width="1.4"/>
<path d="M109.35 1192.16L112.65 1195.46L109.35 1198.76L106.05 1195.46Z" fill="#555555" fill-opacity="0.3" stroke="#555555" stroke-width="1.4"/>
<path d="M133.94 1193.14L137.24 1196.44L133.94 1199.74L130.64 1196.44Z" fill="#555555" fill-opacity="0.3" stroke="#555555" stroke-width="1.4"/>
<path d="M158.54 1192.96L161.84 1196.26L158.54 1199.56L155.24 1196.26Z" fill="#555555" fill-opacity="0.3" stroke="#555555" stroke-width="1.4"/>
<path d="M183.13 1192.78L186.43 1196.08L183.13 1199.38L179.83 1196.08Z" fill="#555555" fill-opacity="0.3" stroke="#555555" stroke-width="1.4"/>
<path d="M207.72 1191.10L211.02 1194.40L207.72 1197.70L204.42 1194.40Z" fill="#555555" fill-opacity="0.3" stroke="#555555" stroke-width="1.4"/>
<path d="M232.32 1187.35L235.62 1190.65L232.32 1193.95L229.02 1190.65Z" fill="#555555" fill-opacity="0.3" stroke="#555555" stroke-width="1.4"/>
<path d="M256.91 1177.05L260.21 1180.35L256.91 1183.65L253.61 1180.35Z" fill="#555555" fill-opacity="0.3" stroke="#555555" stroke-width="1.4"/>
<path d="M281.51 1156.86L284.81 1160.16L281.51 1163.46L278.21 1160.16Z" fill="#555555" fill-opacity="0.3" stroke="#555555" stroke-width="1.4"/>
<path d="M306.10 1099.88L309.40 1103.18L306.10 1106.48L302.80 1103.18Z" fill="#555555" fill-opacity="0.3" stroke="#555555" stroke-width="1.4"/>
<path d="M232.32 1197.94V1197.35M230.72 1197.94h3.20M230.72 1197.35h3.20" stroke="#8c8c8c" stroke-width="1.35"/>
<path d="M256.91 1187.95V1185.14M255.31 1187.95h3.20M255.31 1185.14h3.20" stroke="#8c8c8c" stroke-width="1.35"/>
<path d="M281.51 1164.20V1156.11M279.91 1164.20h3.20M279.91 1156.11h3.20" stroke="#8c8c8c" stroke-width="1.35"/>
<path d="M306.10 1112.93V1093.44M304.50 1112.93h3.20M304.50 1093.44h3.20" stroke="#8c8c8c" stroke-width="1.35"/>
<circle cx="232.32" cy="1197.65" r="2.00" fill="#8c8c8c"/>
<circle cx="256.91" cy="1186.55" r="2.00" fill="#8c8c8c"/>
<circle cx="281.51" cy="1160.16" r="2.00" fill="#8c8c8c"/>
<circle cx="306.10" cy="1103.18" r="2.00" fill="#8c8c8c"/>
</g>
<rect x="58.20" y="949.40" width="251.20" height="251.20" fill="none" stroke="#1a1a1a" stroke-width="1.6"/>
<path d="M61.00 1200.60v-5M61.00 949.40v5M85.59 1200.60v-3M85.59 949.40v3M99.98 1200.60v-3M99.98 949.40v3M110.19 1200.60v-3M110.19 949.40v3M118.11 1200.60v-3M118.11 949.40v3M124.57 1200.60v-3M124.57 949.40v3M130.04 1200.60v-3M130.04 949.40v3M134.78 1200.60v-3M134.78 949.40v3M138.96 1200.60v-3M138.96 949.40v3M142.70 1200.60v-5M142.70 949.40v5M167.29 1200.60v-3M167.29 949.40v3M181.68 1200.60v-3M181.68 949.40v3M191.89 1200.60v-3M191.89 949.40v3M199.81 1200.60v-3M199.81 949.40v3M206.27 1200.60v-3M206.27 949.40v3M211.74 1200.60v-3M211.74 949.40v3M216.48 1200.60v-3M216.48 949.40v3M220.66 1200.60v-3M220.66 949.40v3M224.40 1200.60v-5M224.40 949.40v5M248.99 1200.60v-3M248.99 949.40v3M263.38 1200.60v-3M263.38 949.40v3M273.59 1200.60v-3M273.59 949.40v3M281.51 1200.60v-3M281.51 949.40v3M287.97 1200.60v-3M287.97 949.40v3M293.44 1200.60v-3M293.44 949.40v3M298.18 1200.60v-3M298.18 949.40v3M302.36 1200.60v-3M302.36 949.40v3M306.10 1200.60v-5M306.10 949.40v5M58.20 1185.84h3M309.40 1185.84h-3M58.20 1171.08h5M309.40 1171.08h-5M58.20 1156.32h3M309.40 1156.32h-3M58.20 1141.56h5M309.40 1141.56h-5M58.20 1126.80h3M309.40 1126.80h-3M58.20 1112.04h5M309.40 1112.04h-5M58.20 1097.28h3M309.40 1097.28h-3M58.20 1082.52h5M309.40 1082.52h-5M58.20 1067.76h3M309.40 1067.76h-3M58.20 1053.00h5M309.40 1053.00h-5M58.20 1038.24h3M309.40 1038.24h-3M58.20 1023.48h5M309.40 1023.48h-5M58.20 1008.72h3M309.40 1008.72h-3M58.20 993.96h5M309.40 993.96h-5M58.20 979.20h3M309.40 979.20h-3M58.20 964.44h5M309.40 964.44h-5" stroke="#111" stroke-width="1.1" fill="none"/>
<clipPath id="clipR3"><rect x="406.70" y="949.40" width="251.20" height="251.20"/></clipPath>
<text x="409.50" y="1217.40" class="tl" text-anchor="middle">0.001</text>
<text x="491.20" y="1217.40" class="tl" text-anchor="middle">0.01</text>
<text x="572.90" y="1217.40" class="tl" text-anchor="middle">0.1</text>
<text x="654.60" y="1217.40" class="tl" text-anchor="middle">1</text>
<text x="397.30" y="1172.90" class="tl" text-anchor="end">0.01</text>
<text x="397.30" y="1063.10" class="tl" text-anchor="end">0.1</text>
<text x="397.30" y="953.30" class="tl" text-anchor="end">1</text>
<text x="533.60" y="1236.70" class="at" text-anchor="middle">Melanin concentration [a.u.]</text>
<text transform="translate(365.10,1076.10) rotate(-90)" class="at ay" text-anchor="middle">Metrics of depolarization [a.u.]</text>
<text x="343.40" y="952.00" class="pl">(h)</text>
<g clip-path="url(#clipR3)">
<path d="M406.70 1114.15 L408.27 1114.11 L409.84 1114.08 L411.41 1114.05 L412.98 1114.01 L414.55 1113.97 L416.12 1113.93 L417.69 1113.89 L419.26 1113.85 L420.83 1113.81 L422.40 1113.76 L423.97 1113.71 L425.54 1113.66 L427.11 1113.61 L428.68 1113.56 L430.25 1113.50 L431.82 1113.44 L433.39 1113.38 L434.96 1113.32 L436.53 1113.25 L438.10 1113.18 L439.67 1113.11 L441.24 1113.04 L442.81 1112.96 L444.38 1112.88 L445.95 1112.80 L447.52 1112.71 L449.09 1112.62 L450.66 1112.53 L452.23 1112.43 L453.80 1112.33 L455.37 1112.22 L456.94 1112.11 L458.51 1112.00 L460.08 1111.88 L461.65 1111.76 L463.22 1111.63 L464.79 1111.50 L466.36 1111.36 L467.93 1111.21 L469.50 1111.07 L471.07 1110.91 L472.64 1110.75 L474.21 1110.58 L475.78 1110.41 L477.35 1110.23 L478.92 1110.04 L480.49 1109.85 L482.06 1109.65 L483.63 1109.44 L485.20 1109.22 L486.77 1109.00 L488.34 1108.76 L489.91 1108.52 L491.48 1108.27 L493.05 1108.01 L494.62 1107.74 L496.19 1107.46 L497.76 1107.17 L499.33 1106.87 L500.90 1106.56 L502.47 1106.24 L504.04 1105.91 L505.61 1105.57 L507.18 1105.21 L508.75 1104.85 L510.32 1104.47 L511.89 1104.07 L513.46 1103.67 L515.03 1103.25 L516.60 1102.82 L518.17 1102.37 L519.74 1101.91 L521.31 1101.43 L522.88 1100.94 L524.45 1100.44 L526.02 1099.91 L527.59 1099.38 L529.16 1098.82 L530.73 1098.25 L532.30 1097.67 L533.87 1097.06 L535.44 1096.44 L537.01 1095.80 L538.58 1095.14 L540.15 1094.47 L541.72 1093.78 L543.29 1093.06 L544.86 1092.33 L546.43 1091.58 L548.00 1090.81 L549.57 1090.03 L551.14 1089.22 L552.71 1088.39 L554.28 1087.54 L555.85 1086.68 L557.42 1085.79 L558.99 1084.88 L560.56 1083.96 L562.13 1083.01 L563.70 1082.04 L565.27 1081.06 L566.84 1080.05 L568.41 1079.02 L569.98 1077.97 L571.55 1076.90 L573.12 1075.82 L574.69 1074.71 L576.26 1073.58 L577.83 1072.43 L579.40 1071.27 L580.97 1070.08 L582.54 1068.87 L584.11 1067.65 L585.68 1066.41 L587.25 1065.14 L588.82 1063.86 L590.39 1062.57 L591.96 1061.25 L593.53 1059.91 L595.10 1058.56 L596.67 1057.19 L598.24 1055.81 L599.81 1054.41 L601.38 1052.99 L602.95 1051.55 L604.52 1050.10 L606.09 1048.64 L607.66 1047.16 L609.23 1045.66 L610.80 1044.15 L612.37 1042.62 L613.94 1041.09 L615.51 1039.54 L617.08 1037.97 L618.65 1036.39 L620.22 1034.80 L621.79 1033.20 L623.36 1031.58 L624.93 1029.96 L626.50 1028.32 L628.07 1026.67 L629.64 1025.01 L631.21 1023.34 L632.78 1021.66 L634.35 1019.97 L635.92 1018.28 L637.49 1016.57 L639.06 1014.85 L640.63 1013.12 L642.20 1011.39 L643.77 1009.65 L645.34 1007.90 L646.91 1006.14 L648.48 1004.37 L650.05 1002.60 L651.62 1000.82 L653.19 999.04 L654.76 997.24 L656.33 995.44 L657.90 993.64" stroke="#4a66e2" stroke-width="1.6" fill="none"/>
<path d="M406.70 1094.36 L408.27 1094.34 L409.84 1094.32 L411.41 1094.30 L412.98 1094.28 L414.55 1094.26 L416.12 1094.23 L417.69 1094.21 L419.26 1094.19 L420.83 1094.16 L422.40 1094.13 L423.97 1094.10 L425.54 1094.08 L427.11 1094.04 L428.68 1094.01 L430.25 1093.98 L431.82 1093.95 L433.39 1093.91 L434.96 1093.87 L436.53 1093.83 L438.10 1093.79 L439.67 1093.75 L441.24 1093.71 L442.81 1093.66 L444.38 1093.61 L445.95 1093.56 L447.52 1093.51 L449.09 1093.46 L450.66 1093.40 L452.23 1093.35 L453.80 1093.29 L455.37 1093.22 L456.94 1093.16 L458.51 1093.09 L460.08 1093.02 L461.65 1092.94 L463.22 1092.87 L464.79 1092.79 L466.36 1092.70 L467.93 1092.62 L469.50 1092.53 L471.07 1092.44 L472.64 1092.34 L474.21 1092.24 L475.78 1092.13 L477.35 1092.02 L478.92 1091.91 L480.49 1091.79 L482.06 1091.67 L483.63 1091.54 L485.20 1091.41 L486.77 1091.27 L488.34 1091.13 L489.91 1090.98 L491.48 1090.83 L493.05 1090.67 L494.62 1090.50 L496.19 1090.33 L497.76 1090.15 L499.33 1089.96 L500.90 1089.77 L502.47 1089.57 L504.04 1089.36 L505.61 1089.14 L507.18 1088.92 L508.75 1088.69 L510.32 1088.45 L511.89 1088.20 L513.46 1087.94 L515.03 1087.67 L516.60 1087.39 L518.17 1087.11 L519.74 1086.81 L521.31 1086.50 L522.88 1086.18 L524.45 1085.85 L526.02 1085.51 L527.59 1085.16 L529.16 1084.79 L530.73 1084.41 L532.30 1084.02 L533.87 1083.62 L535.44 1083.20 L537.01 1082.77 L538.58 1082.33 L540.15 1081.87 L541.72 1081.39 L543.29 1080.90 L544.86 1080.40 L546.43 1079.88 L548.00 1079.35 L549.57 1078.79 L551.14 1078.23 L552.71 1077.64 L554.28 1077.04 L555.85 1076.42 L557.42 1075.78 L558.99 1075.13 L560.56 1074.46 L562.13 1073.77 L563.70 1073.06 L565.27 1072.33 L566.84 1071.58 L568.41 1070.81 L569.98 1070.03 L571.55 1069.22 L573.12 1068.40 L574.69 1067.56 L576.26 1066.69 L577.83 1065.81 L579.40 1064.90 L580.97 1063.98 L582.54 1063.03 L584.11 1062.07 L585.68 1061.09 L587.25 1060.08 L588.82 1059.06 L590.39 1058.01 L591.96 1056.94 L593.53 1055.86 L595.10 1054.75 L596.67 1053.63 L598.24 1052.48 L599.81 1051.32 L601.38 1050.14 L602.95 1048.93 L604.52 1047.71 L606.09 1046.47 L607.66 1045.21 L609.23 1043.93 L610.80 1042.64 L612.37 1041.32 L613.94 1039.99 L615.51 1038.64 L617.08 1037.28 L618.65 1035.89 L620.22 1034.49 L621.79 1033.08 L623.36 1031.64 L624.93 1030.19 L626.50 1028.73 L628.07 1027.25 L629.64 1025.76 L631.21 1024.25 L632.78 1022.73 L634.35 1021.19 L635.92 1019.64 L637.49 1018.08 L639.06 1016.50 L640.63 1014.91 L642.20 1013.31 L643.77 1011.70 L645.34 1010.07 L646.91 1008.44 L648.48 1006.79 L650.05 1005.13 L651.62 1003.47 L653.19 1001.79 L654.76 1000.10 L656.33 998.40 L657.90 996.69" stroke="#22cdd0" stroke-width="1.6" fill="none"/>
<path d="M406.70 1114.15 L408.27 1114.11 L409.84 1114.08 L411.41 1114.05 L412.98 1114.01 L414.55 1113.97 L416.12 1113.93 L417.69 1113.89 L419.26 1113.85 L420.83 1113.81 L422.40 1113.76 L423.97 1113.71 L425.54 1113.66 L427.11 1113.61 L428.68 1113.56 L430.25 1113.50 L431.82 1113.44 L433.39 1113.38 L434.96 1113.32 L436.53 1113.25 L438.10 1113.18 L439.67 1113.11 L441.24 1113.04 L442.81 1112.96 L444.38 1112.88 L445.95 1112.80 L447.52 1112.71 L449.09 1112.62 L450.66 1112.53 L452.23 1112.43 L453.80 1112.33 L455.37 1112.22 L456.94 1112.11 L458.51 1112.00 L460.08 1111.88 L461.65 1111.76 L463.22 1111.63 L464.79 1111.50 L466.36 1111.36 L467.93 1111.21 L469.50 1111.07 L471.07 1110.91 L472.64 1110.75 L474.21 1110.58 L475.78 1110.41 L477.35 1110.23 L478.92 1110.04 L480.49 1109.85 L482.06 1109.65 L483.63 1109.44 L485.20 1109.22 L486.77 1109.00 L488.34 1108.76 L489.91 1108.52 L491.48 1108.27 L493.05 1108.01 L494.62 1107.74 L496.19 1107.46 L497.76 1107.17 L499.33 1106.87 L500.90 1106.56 L502.47 1106.24 L504.04 1105.91 L505.61 1105.57 L507.18 1105.21 L508.75 1104.85 L510.32 1104.47 L511.89 1104.07 L513.46 1103.67 L515.03 1103.25 L516.60 1102.82 L518.17 1102.37 L519.74 1101.91 L521.31 1101.43 L522.88 1100.94 L524.45 1100.44 L526.02 1099.91 L527.59 1099.38 L529.16 1098.82 L530.73 1098.25 L532.30 1097.67 L533.87 1097.06 L535.44 1096.44 L537.01 1095.80 L538.58 1095.14 L540.15 1094.47 L541.72 1093.78 L543.29 1093.06 L544.86 1092.33 L546.43 1091.58 L548.00 1090.81 L549.57 1090.03 L551.14 1089.22 L552.71 1088.39 L554.28 1087.54 L555.85 1086.68 L557.42 1085.79 L558.99 1084.88 L560.56 1083.96 L562.13 1083.01 L563.70 1082.04 L565.27 1081.06 L566.84 1080.05 L568.41 1079.02 L569.98 1077.97 L571.55 1076.90 L573.12 1075.82 L574.69 1074.71 L576.26 1073.58 L577.83 1072.43 L579.40 1071.27 L580.97 1070.08 L582.54 1068.87 L584.11 1067.65 L585.68 1066.41 L587.25 1065.14 L588.82 1063.86 L590.39 1062.57 L591.96 1061.25 L593.53 1059.91 L595.10 1058.56 L596.67 1057.19 L598.24 1055.81 L599.81 1054.41 L601.38 1052.99 L602.95 1051.55 L604.52 1050.10 L606.09 1048.64 L607.66 1047.16 L609.23 1045.66 L610.80 1044.15 L612.37 1042.62 L613.94 1041.09 L615.51 1039.54 L617.08 1037.97 L618.65 1036.39 L620.22 1034.80 L621.79 1033.20 L623.36 1031.58 L624.93 1029.96 L626.50 1028.32 L628.07 1026.67 L629.64 1025.01 L631.21 1023.34 L632.78 1021.66 L634.35 1019.97 L635.92 1018.28 L637.49 1016.57 L639.06 1014.85 L640.63 1013.12 L642.20 1011.39 L643.77 1009.65 L645.34 1007.90 L646.91 1006.14 L648.48 1004.37 L650.05 1002.60 L651.62 1000.82 L653.19 999.04 L654.76 997.24 L656.33 995.44 L657.90 993.64" stroke="#b33333" stroke-width="1.6" fill="none"/>
<path d="M406.70 1094.36 L408.27 1094.34 L409.84 1094.32 L411.41 1094.30 L412.98 1094.28 L414.55 1094.26 L416.12 1094.23 L417.69 1094.21 L419.26 1094.19 L420.83 1094.16 L422.40 1094.13 L423.97 1094.10 L425.54 1094.08 L427.11 1094.04 L428.68 1094.01 L430.25 1093.98 L431.82 1093.95 L433.39 1093.91 L434.96 1093.87 L436.53 1093.83 L438.10 1093.79 L439.67 1093.75 L441.24 1093.71 L442.81 1093.66 L444.38 1093.61 L445.95 1093.56 L447.52 1093.51 L449.09 1093.46 L450.66 1093.40 L452.23 1093.35 L453.80 1093.29 L455.37 1093.22 L456.94 1093.16 L458.51 1093.09 L460.08 1093.02 L461.65 1092.94 L463.22 1092.87 L464.79 1092.79 L466.36 1092.70 L467.93 1092.62 L469.50 1092.53 L471.07 1092.44 L472.64 1092.34 L474.21 1092.24 L475.78 1092.13 L477.35 1092.02 L478.92 1091.91 L480.49 1091.79 L482.06 1091.67 L483.63 1091.54 L485.20 1091.41 L486.77 1091.27 L488.34 1091.13 L489.91 1090.98 L491.48 1090.83 L493.05 1090.67 L494.62 1090.50 L496.19 1090.33 L497.76 1090.15 L499.33 1089.96 L500.90 1089.77 L502.47 1089.57 L504.04 1089.36 L505.61 1089.14 L507.18 1088.92 L508.75 1088.69 L510.32 1088.45 L511.89 1088.20 L513.46 1087.94 L515.03 1087.67 L516.60 1087.39 L518.17 1087.11 L519.74 1086.81 L521.31 1086.50 L522.88 1086.18 L524.45 1085.85 L526.02 1085.51 L527.59 1085.16 L529.16 1084.79 L530.73 1084.41 L532.30 1084.02 L533.87 1083.62 L535.44 1083.20 L537.01 1082.77 L538.58 1082.33 L540.15 1081.87 L541.72 1081.39 L543.29 1080.90 L544.86 1080.40 L546.43 1079.88 L548.00 1079.35 L549.57 1078.79 L551.14 1078.23 L552.71 1077.64 L554.28 1077.04 L555.85 1076.42 L557.42 1075.78 L558.99 1075.13 L560.56 1074.46 L562.13 1073.77 L563.70 1073.06 L565.27 1072.33 L566.84 1071.58 L568.41 1070.81 L569.98 1070.03 L571.55 1069.22 L573.12 1068.40 L574.69 1067.56 L576.26 1066.69 L577.83 1065.81 L579.40 1064.90 L580.97 1063.98 L582.54 1063.03 L584.11 1062.07 L585.68 1061.09 L587.25 1060.08 L588.82 1059.06 L590.39 1058.01 L591.96 1056.94 L593.53 1055.86 L595.10 1054.75 L596.67 1053.63 L598.24 1052.48 L599.81 1051.32 L601.38 1050.14 L602.95 1048.93 L604.52 1047.71 L606.09 1046.47 L607.66 1045.21 L609.23 1043.93 L610.80 1042.64 L612.37 1041.32 L613.94 1039.99 L615.51 1038.64 L617.08 1037.28 L618.65 1035.89 L620.22 1034.49 L621.79 1033.08 L623.36 1031.64 L624.93 1030.19 L626.50 1028.73 L628.07 1027.25 L629.64 1025.76 L631.21 1024.25 L632.78 1022.73 L634.35 1021.19 L635.92 1019.64 L637.49 1018.08 L639.06 1016.50 L640.63 1014.91 L642.20 1013.31 L643.77 1011.70 L645.34 1010.07 L646.91 1008.44 L648.48 1006.79 L650.05 1005.13 L651.62 1003.47 L653.19 1001.79 L654.76 1000.10 L656.33 998.40 L657.90 996.69" stroke="#b27cf2" stroke-width="1.6" fill="none"/>
<path d="M406.70 1134.88 L408.27 1134.85 L409.84 1134.82 L411.41 1134.78 L412.98 1134.75 L414.55 1134.71 L416.12 1134.67 L417.69 1134.63 L419.26 1134.59 L420.83 1134.54 L422.40 1134.50 L423.97 1134.45 L425.54 1134.40 L427.11 1134.34 L428.68 1134.29 L430.25 1134.23 L431.82 1134.17 L433.39 1134.11 L434.96 1134.04 L436.53 1133.97 L438.10 1133.90 L439.67 1133.82 L441.24 1133.75 L442.81 1133.66 L444.38 1133.58 L445.95 1133.49 L447.52 1133.40 L449.09 1133.30 L450.66 1133.20 L452.23 1133.10 L453.80 1132.99 L455.37 1132.87 L456.94 1132.75 L458.51 1132.63 L460.08 1132.50 L461.65 1132.36 L463.22 1132.22 L464.79 1132.08 L466.36 1131.92 L467.93 1131.76 L469.50 1131.60 L471.07 1131.42 L472.64 1131.24 L474.21 1131.06 L475.78 1130.86 L477.35 1130.66 L478.92 1130.45 L480.49 1130.23 L482.06 1130.00 L483.63 1129.76 L485.20 1129.51 L486.77 1129.26 L488.34 1128.99 L489.91 1128.71 L491.48 1128.42 L493.05 1128.12 L494.62 1127.81 L496.19 1127.49 L497.76 1127.15 L499.33 1126.80 L500.90 1126.44 L502.47 1126.07 L504.04 1125.68 L505.61 1125.28 L507.18 1124.86 L508.75 1124.43 L510.32 1123.98 L511.89 1123.51 L513.46 1123.03 L515.03 1122.54 L516.60 1122.02 L518.17 1121.49 L519.74 1120.94 L521.31 1120.38 L522.88 1119.79 L524.45 1119.19 L526.02 1118.56 L527.59 1117.92 L529.16 1117.26 L530.73 1116.57 L532.30 1115.87 L533.87 1115.14 L535.44 1114.40 L537.01 1113.63 L538.58 1112.84 L540.15 1112.03 L541.72 1111.19 L543.29 1110.34 L544.86 1109.46 L546.43 1108.56 L548.00 1107.63 L549.57 1106.69 L551.14 1105.72 L552.71 1104.72 L554.28 1103.70 L555.85 1102.66 L557.42 1101.60 L558.99 1100.51 L560.56 1099.40 L562.13 1098.27 L563.70 1097.11 L565.27 1095.93 L566.84 1094.73 L568.41 1093.50 L569.98 1092.26 L571.55 1090.99 L573.12 1089.69 L574.69 1088.38 L576.26 1087.04 L577.83 1085.68 L579.40 1084.30 L580.97 1082.90 L582.54 1081.48 L584.11 1080.04 L585.68 1078.58 L587.25 1077.10 L588.82 1075.59 L590.39 1074.08 L591.96 1072.54 L593.53 1070.98 L595.10 1069.41 L596.67 1067.81 L598.24 1066.20 L599.81 1064.58 L601.38 1062.94 L602.95 1061.28 L604.52 1059.60 L606.09 1057.92 L607.66 1056.21 L609.23 1054.50 L610.80 1052.76 L612.37 1051.02 L613.94 1049.26 L615.51 1047.49 L617.08 1045.71 L618.65 1043.91 L620.22 1042.10 L621.79 1040.28 L623.36 1038.45 L624.93 1036.61 L626.50 1034.76 L628.07 1032.90 L629.64 1031.03 L631.21 1029.16 L632.78 1027.27 L634.35 1025.37 L635.92 1023.47 L637.49 1021.55 L639.06 1019.63 L640.63 1017.70 L642.20 1015.77 L643.77 1013.83 L645.34 1011.88 L646.91 1009.92 L648.48 1007.96 L650.05 1005.99 L651.62 1004.02 L653.19 1002.04 L654.76 1000.06 L656.33 998.07 L657.90 996.07" stroke="#1f7a1f" stroke-width="1.6" fill="none"/>
<path d="M406.70 1115.93 L408.27 1115.92 L409.84 1115.90 L411.41 1115.88 L412.98 1115.86 L414.55 1115.84 L416.12 1115.81 L417.69 1115.79 L419.26 1115.77 L420.83 1115.74 L422.40 1115.71 L423.97 1115.69 L425.54 1115.66 L427.11 1115.63 L428.68 1115.59 L430.25 1115.56 L431.82 1115.53 L433.39 1115.49 L434.96 1115.45 L436.53 1115.41 L438.10 1115.37 L439.67 1115.33 L441.24 1115.29 L442.81 1115.24 L444.38 1115.19 L445.95 1115.14 L447.52 1115.09 L449.09 1115.03 L450.66 1114.97 L452.23 1114.91 L453.80 1114.85 L455.37 1114.78 L456.94 1114.71 L458.51 1114.64 L460.08 1114.57 L461.65 1114.49 L463.22 1114.41 L464.79 1114.32 L466.36 1114.23 L467.93 1114.14 L469.50 1114.04 L471.07 1113.94 L472.64 1113.84 L474.21 1113.73 L475.78 1113.61 L477.35 1113.49 L478.92 1113.37 L480.49 1113.24 L482.06 1113.10 L483.63 1112.96 L485.20 1112.82 L486.77 1112.66 L488.34 1112.50 L489.91 1112.34 L491.48 1112.16 L493.05 1111.98 L494.62 1111.80 L496.19 1111.60 L497.76 1111.40 L499.33 1111.19 L500.90 1110.97 L502.47 1110.74 L504.04 1110.50 L505.61 1110.25 L507.18 1109.99 L508.75 1109.73 L510.32 1109.45 L511.89 1109.16 L513.46 1108.86 L515.03 1108.55 L516.60 1108.22 L518.17 1107.89 L519.74 1107.54 L521.31 1107.17 L522.88 1106.80 L524.45 1106.41 L526.02 1106.01 L527.59 1105.59 L529.16 1105.16 L530.73 1104.71 L532.30 1104.24 L533.87 1103.76 L535.44 1103.26 L537.01 1102.75 L538.58 1102.22 L540.15 1101.67 L541.72 1101.10 L543.29 1100.51 L544.86 1099.91 L546.43 1099.29 L548.00 1098.64 L549.57 1097.98 L551.14 1097.29 L552.71 1096.59 L554.28 1095.86 L555.85 1095.12 L557.42 1094.35 L558.99 1093.56 L560.56 1092.74 L562.13 1091.91 L563.70 1091.05 L565.27 1090.17 L566.84 1089.27 L568.41 1088.35 L569.98 1087.40 L571.55 1086.43 L573.12 1085.43 L574.69 1084.41 L576.26 1083.37 L577.83 1082.31 L579.40 1081.22 L580.97 1080.11 L582.54 1078.97 L584.11 1077.82 L585.68 1076.64 L587.25 1075.43 L588.82 1074.21 L590.39 1072.96 L591.96 1071.69 L593.53 1070.39 L595.10 1069.08 L596.67 1067.74 L598.24 1066.38 L599.81 1065.00 L601.38 1063.60 L602.95 1062.18 L604.52 1060.73 L606.09 1059.27 L607.66 1057.79 L609.23 1056.29 L610.80 1054.77 L612.37 1053.23 L613.94 1051.67 L615.51 1050.10 L617.08 1048.50 L618.65 1046.89 L620.22 1045.27 L621.79 1043.62 L623.36 1041.97 L624.93 1040.29 L626.50 1038.60 L628.07 1036.90 L629.64 1035.18 L631.21 1033.45 L632.78 1031.70 L634.35 1029.94 L635.92 1028.17 L637.49 1026.39 L639.06 1024.59 L640.63 1022.78 L642.20 1020.97 L643.77 1019.14 L645.34 1017.30 L646.91 1015.45 L648.48 1013.58 L650.05 1011.71 L651.62 1009.84 L653.19 1007.95 L654.76 1006.05 L656.33 1004.14 L657.90 1002.23" stroke="#2ee82e" stroke-width="1.6" fill="none"/>
<path d="M406.70 1146.40 L408.27 1146.39 L409.84 1146.38 L411.41 1146.37 L412.98 1146.35 L414.55 1146.34 L416.12 1146.33 L417.69 1146.31 L419.26 1146.29 L420.83 1146.28 L422.40 1146.26 L423.97 1146.24 L425.54 1146.22 L427.11 1146.20 L428.68 1146.17 L430.25 1146.15 L431.82 1146.12 L433.39 1146.10 L434.96 1146.07 L436.53 1146.04 L438.10 1146.01 L439.67 1145.97 L441.24 1145.94 L442.81 1145.90 L444.38 1145.86 L445.95 1145.81 L447.52 1145.77 L449.09 1145.72 L450.66 1145.67 L452.23 1145.62 L453.80 1145.56 L455.37 1145.50 L456.94 1145.43 L458.51 1145.37 L460.08 1145.30 L461.65 1145.22 L463.22 1145.14 L464.79 1145.06 L466.36 1144.97 L467.93 1144.87 L469.50 1144.77 L471.07 1144.67 L472.64 1144.56 L474.21 1144.44 L475.78 1144.32 L477.35 1144.18 L478.92 1144.05 L480.49 1143.90 L482.06 1143.75 L483.63 1143.58 L485.20 1143.41 L486.77 1143.23 L488.34 1143.04 L489.91 1142.83 L491.48 1142.62 L493.05 1142.40 L494.62 1142.16 L496.19 1141.91 L497.76 1141.65 L499.33 1141.37 L500.90 1141.08 L502.47 1140.77 L504.04 1140.45 L505.61 1140.11 L507.18 1139.75 L508.75 1139.37 L510.32 1138.98 L511.89 1138.57 L513.46 1138.13 L515.03 1137.67 L516.60 1137.19 L518.17 1136.69 L519.74 1136.17 L521.31 1135.61 L522.88 1135.04 L524.45 1134.43 L526.02 1133.80 L527.59 1133.14 L529.16 1132.46 L530.73 1131.74 L532.30 1130.99 L533.87 1130.21 L535.44 1129.39 L537.01 1128.54 L538.58 1127.66 L540.15 1126.75 L541.72 1125.80 L543.29 1124.81 L544.86 1123.78 L546.43 1122.72 L548.00 1121.62 L549.57 1120.49 L551.14 1119.31 L552.71 1118.10 L554.28 1116.84 L555.85 1115.55 L557.42 1114.22 L558.99 1112.85 L560.56 1111.44 L562.13 1109.99 L563.70 1108.50 L565.27 1106.97 L566.84 1105.40 L568.41 1103.80 L569.98 1102.15 L571.55 1100.47 L573.12 1098.75 L574.69 1097.00 L576.26 1095.21 L577.83 1093.38 L579.40 1091.52 L580.97 1089.62 L582.54 1087.69 L584.11 1085.73 L585.68 1083.74 L587.25 1081.72 L588.82 1079.66 L590.39 1077.58 L591.96 1075.47 L593.53 1073.33 L595.10 1071.16 L596.67 1068.97 L598.24 1066.75 L599.81 1064.51 L601.38 1062.25 L602.95 1059.96 L604.52 1057.65 L606.09 1055.33 L607.66 1052.98 L609.23 1050.61 L610.80 1048.22 L612.37 1045.82 L613.94 1043.40 L615.51 1040.97 L617.08 1038.52 L618.65 1036.05 L620.22 1033.57 L621.79 1031.08 L623.36 1028.57 L624.93 1026.05 L626.50 1023.52 L628.07 1020.98 L629.64 1018.43 L631.21 1015.87 L632.78 1013.30 L634.35 1010.72 L635.92 1008.13 L637.49 1005.54 L639.06 1002.94 L640.63 1000.33 L642.20 997.72 L643.77 995.11 L645.34 992.49 L646.91 989.89 L648.48 987.30 L650.05 984.73 L651.62 982.21 L653.19 979.76 L654.76 977.45 L656.33 975.34 L657.90 973.58" stroke="#cc9222" stroke-width="1.6" fill="none"/>
<path d="M406.70 1250.60 L408.27 1250.60 L409.84 1250.60 L411.41 1250.60 L412.98 1250.60 L414.55 1250.60 L416.12 1250.60 L417.69 1250.60 L419.26 1250.60 L420.83 1250.60 L422.40 1250.60 L423.97 1250.60 L425.54 1250.60 L427.11 1250.60 L428.68 1250.60 L430.25 1250.60 L431.82 1250.60 L433.39 1250.60 L434.96 1250.60 L436.53 1250.60 L438.10 1250.60 L439.67 1250.60 L441.24 1250.60 L442.81 1250.60 L444.38 1250.60 L445.95 1250.60 L447.52 1250.60 L449.09 1250.60 L450.66 1250.60 L452.23 1250.60 L453.80 1250.60 L455.37 1250.60 L456.94 1250.60 L458.51 1250.60 L460.08 1250.60 L461.65 1250.60 L463.22 1250.60 L464.79 1250.60 L466.36 1250.60 L467.93 1250.60 L469.50 1250.60 L471.07 1250.60 L472.64 1250.60 L474.21 1250.60 L475.78 1250.60 L477.35 1250.60 L478.92 1250.60 L480.49 1250.60 L482.06 1250.60 L483.63 1250.60 L485.20 1250.60 L486.77 1250.60 L488.34 1250.60 L489.91 1250.60 L491.48 1250.60 L493.05 1250.60 L494.62 1417.72 L496.19 1343.92 L497.76 1315.21 L499.33 1296.70 L500.90 1282.83 L502.47 1271.63 L504.04 1262.17 L505.61 1253.92 L507.18 1246.57 L508.75 1239.91 L510.32 1233.80 L511.89 1228.14 L513.46 1222.84 L515.03 1217.86 L516.60 1213.13 L518.17 1208.63 L519.74 1204.32 L521.31 1200.19 L522.88 1196.21 L524.45 1192.36 L526.02 1188.64 L527.59 1185.01 L529.16 1181.49 L530.73 1178.06 L532.30 1174.70 L533.87 1171.42 L535.44 1168.20 L537.01 1165.04 L538.58 1161.94 L540.15 1158.89 L541.72 1155.89 L543.29 1152.93 L544.86 1150.01 L546.43 1147.13 L548.00 1144.29 L549.57 1141.47 L551.14 1138.69 L552.71 1135.94 L554.28 1133.21 L555.85 1130.51 L557.42 1127.83 L558.99 1125.17 L560.56 1122.53 L562.13 1119.92 L563.70 1117.32 L565.27 1114.73 L566.84 1112.17 L568.41 1109.61 L569.98 1107.08 L571.55 1104.55 L573.12 1102.04 L574.69 1099.54 L576.26 1097.05 L577.83 1094.58 L579.40 1092.11 L580.97 1089.65 L582.54 1087.20 L584.11 1084.76 L585.68 1082.33 L587.25 1079.90 L588.82 1077.48 L590.39 1075.07 L591.96 1072.67 L593.53 1070.27 L595.10 1067.88 L596.67 1065.49 L598.24 1063.11 L599.81 1060.73 L601.38 1058.36 L602.95 1056.00 L604.52 1053.63 L606.09 1051.27 L607.66 1048.92 L609.23 1046.57 L610.80 1044.22 L612.37 1041.87 L613.94 1039.53 L615.51 1037.19 L617.08 1034.86 L618.65 1032.53 L620.22 1030.20 L621.79 1027.87 L623.36 1025.54 L624.93 1023.22 L626.50 1020.90 L628.07 1018.58 L629.64 1016.26 L631.21 1013.95 L632.78 1011.63 L634.35 1009.32 L635.92 1007.01 L637.49 1004.70 L639.06 1002.39 L640.63 1000.09 L642.20 997.78 L643.77 995.48 L645.34 993.18 L646.91 990.88 L648.48 988.57 L650.05 986.28 L651.62 983.98 L653.19 981.68 L654.76 979.38 L656.33 977.09 L657.90 974.79" stroke="#d2cc92" stroke-width="1.6" fill="none"/>
<path d="M406.70 1149.95 L408.27 1149.94 L409.84 1149.94 L411.41 1149.93 L412.98 1149.92 L414.55 1149.92 L416.12 1149.91 L417.69 1149.90 L419.26 1149.90 L420.83 1149.89 L422.40 1149.88 L423.97 1149.87 L425.54 1149.86 L427.11 1149.85 L428.68 1149.84 L430.25 1149.83 L431.82 1149.82 L433.39 1149.80 L434.96 1149.79 L436.53 1149.77 L438.10 1149.76 L439.67 1149.74 L441.24 1149.72 L442.81 1149.71 L444.38 1149.69 L445.95 1149.67 L447.52 1149.64 L449.09 1149.62 L450.66 1149.59 L452.23 1149.57 L453.80 1149.54 L455.37 1149.51 L456.94 1149.48 L458.51 1149.44 L460.08 1149.41 L461.65 1149.37 L463.22 1149.33 L464.79 1149.29 L466.36 1149.24 L467.93 1149.19 L469.50 1149.14 L471.07 1149.09 L472.64 1149.03 L474.21 1148.97 L475.78 1148.91 L477.35 1148.84 L478.92 1148.77 L480.49 1148.69 L482.06 1148.61 L483.63 1148.52 L485.20 1148.43 L486.77 1148.34 L488.34 1148.23 L489.91 1148.13 L491.48 1148.01 L493.05 1147.89 L494.62 1147.76 L496.19 1147.63 L497.76 1147.48 L499.33 1147.33 L500.90 1147.17 L502.47 1147.00 L504.04 1146.82 L505.61 1146.63 L507.18 1146.42 L508.75 1146.21 L510.32 1145.98 L511.89 1145.75 L513.46 1145.50 L515.03 1145.23 L516.60 1144.95 L518.17 1144.65 L519.74 1144.34 L521.31 1144.01 L522.88 1143.67 L524.45 1143.30 L526.02 1142.92 L527.59 1142.51 L529.16 1142.09 L530.73 1141.64 L532.30 1141.17 L533.87 1140.67 L535.44 1140.15 L537.01 1139.61 L538.58 1139.03 L540.15 1138.43 L541.72 1137.80 L543.29 1137.14 L544.86 1136.45 L546.43 1135.73 L548.00 1134.98 L549.57 1134.19 L551.14 1133.37 L552.71 1132.51 L554.28 1131.61 L555.85 1130.68 L557.42 1129.71 L558.99 1128.71 L560.56 1127.66 L562.13 1126.57 L563.70 1125.45 L565.27 1124.28 L566.84 1123.07 L568.41 1121.82 L569.98 1120.53 L571.55 1119.19 L573.12 1117.81 L574.69 1116.39 L576.26 1114.93 L577.83 1113.42 L579.40 1111.88 L580.97 1110.29 L582.54 1108.65 L584.11 1106.98 L585.68 1105.27 L587.25 1103.51 L588.82 1101.72 L590.39 1099.89 L591.96 1098.01 L593.53 1096.10 L595.10 1094.15 L596.67 1092.17 L598.24 1090.15 L599.81 1088.10 L601.38 1086.01 L602.95 1083.89 L604.52 1081.74 L606.09 1079.55 L607.66 1077.34 L609.23 1075.10 L610.80 1072.83 L612.37 1070.53 L613.94 1068.20 L615.51 1065.86 L617.08 1063.48 L618.65 1061.09 L620.22 1058.67 L621.79 1056.23 L623.36 1053.77 L624.93 1051.29 L626.50 1048.79 L628.07 1046.27 L629.64 1043.74 L631.21 1041.19 L632.78 1038.62 L634.35 1036.04 L635.92 1033.45 L637.49 1030.84 L639.06 1028.22 L640.63 1025.59 L642.20 1022.94 L643.77 1020.29 L645.34 1017.62 L646.91 1014.95 L648.48 1012.26 L650.05 1009.57 L651.62 1006.86 L653.19 1004.15 L654.76 1001.43 L656.33 998.71 L657.90 995.97" stroke="#555555" stroke-width="1.6" fill="none"/>
<path d="M406.70 1250.60 L408.27 1250.60 L409.84 1250.60 L411.41 1250.60 L412.98 1250.60 L414.55 1250.60 L416.12 1250.60 L417.69 1250.60 L419.26 1250.60 L420.83 1250.60 L422.40 1250.60 L423.97 1250.60 L425.54 1250.60 L427.11 1250.60 L428.68 1250.60 L430.25 1250.60 L431.82 1250.60 L433.39 1250.60 L434.96 1250.60 L436.53 1250.60 L438.10 1250.60 L439.67 1250.60 L441.24 1250.60 L442.81 1250.60 L444.38 1250.60 L445.95 1250.60 L447.52 1250.60 L449.09 1250.60 L450.66 1250.60 L452.23 1250.60 L453.80 1250.60 L455.37 1250.60 L456.94 1250.60 L458.51 1250.60 L460.08 1250.60 L461.65 1250.60 L463.22 1250.60 L464.79 1250.60 L466.36 1250.60 L467.93 1250.60 L469.50 1250.60 L471.07 1250.60 L472.64 1250.60 L474.21 1250.60 L475.78 1250.60 L477.35 1250.60 L478.92 1250.60 L480.49 1250.60 L482.06 1250.60 L483.63 1250.60 L485.20 1250.60 L486.77 1250.60 L488.34 1250.60 L489.91 1250.60 L491.48 1250.60 L493.05 1250.60 L494.62 1250.60 L496.19 1250.60 L497.76 1250.60 L499.33 1250.60 L500.90 1250.60 L502.47 1250.60 L504.04 1250.60 L505.61 1250.60 L507.18 1250.60 L508.75 1250.60 L510.32 1250.60 L511.89 1250.60 L513.46 1250.60 L515.03 1250.60 L516.60 1250.60 L518.17 1250.60 L519.74 1250.60 L521.31 1250.60 L522.88 1250.60 L524.45 1250.60 L526.02 1250.60 L527.59 1250.60 L529.16 1250.60 L530.73 1250.60 L532.30 1250.60 L533.87 1250.60 L535.44 1250.60 L537.01 1250.60 L538.58 1250.60 L540.15 1250.60 L541.72 1250.60 L543.29 1250.60 L544.86 1250.60 L546.43 1250.60 L548.00 1250.60 L549.57 1250.60 L551.14 1250.60 L552.71 1250.60 L554.28 1250.60 L555.85 1250.60 L557.42 1250.60 L558.99 1250.60 L560.56 1337.63 L562.13 1293.93 L563.70 1270.30 L565.27 1253.66 L566.84 1240.61 L568.41 1229.75 L569.98 1220.36 L571.55 1212.02 L573.12 1204.48 L574.69 1197.55 L576.26 1191.11 L577.83 1185.08 L579.40 1179.38 L580.97 1173.95 L582.54 1168.77 L584.11 1163.79 L585.68 1158.98 L587.25 1154.33 L588.82 1149.82 L590.39 1145.42 L591.96 1141.14 L593.53 1136.95 L595.10 1132.84 L596.67 1128.81 L598.24 1124.85 L599.81 1120.96 L601.38 1117.12 L602.95 1113.33 L604.52 1109.59 L606.09 1105.89 L607.66 1102.23 L609.23 1098.61 L610.80 1095.02 L612.37 1091.47 L613.94 1087.94 L615.51 1084.43 L617.08 1080.95 L618.65 1077.50 L620.22 1074.06 L621.79 1070.64 L623.36 1067.24 L624.93 1063.85 L626.50 1060.48 L628.07 1057.13 L629.64 1053.79 L631.21 1050.46 L632.78 1047.14 L634.35 1043.83 L635.92 1040.53 L637.49 1037.24 L639.06 1033.95 L640.63 1030.68 L642.20 1027.41 L643.77 1024.15 L645.34 1020.90 L646.91 1017.65 L648.48 1014.41 L650.05 1011.17 L651.62 1007.94 L653.19 1004.71 L654.76 1001.48 L656.33 998.26 L657.90 995.05" stroke="#8c8c8c" stroke-width="1.6" fill="none"/>
<path d="M408.66 1154.09V1119.09M407.06 1154.09h3.20M407.06 1119.09h3.20" stroke="#4a66e2" stroke-width="1.35"/>
<path d="M433.25 1148.50V1113.50M431.65 1148.50h3.20M431.65 1113.50h3.20" stroke="#4a66e2" stroke-width="1.35"/>
<path d="M457.85 1134.40V1099.40M456.25 1134.40h3.20M456.25 1099.40h3.20" stroke="#4a66e2" stroke-width="1.35"/>
<path d="M482.44 1129.10V1094.10M480.84 1129.10h3.20M480.84 1094.10h3.20" stroke="#4a66e2" stroke-width="1.35"/>
<path d="M507.04 1124.33V1089.33M505.44 1124.33h3.20M505.44 1089.33h3.20" stroke="#4a66e2" stroke-width="1.35"/>
<path d="M531.63 1117.96V1082.96M530.03 1117.96h3.20M530.03 1082.96h3.20" stroke="#4a66e2" stroke-width="1.35"/>
<path d="M556.22 1109.76V1074.76M554.62 1109.76h3.20M554.62 1074.76h3.20" stroke="#4a66e2" stroke-width="1.35"/>
<path d="M580.82 1093.60V1058.60M579.22 1093.60h3.20M579.22 1058.60h3.20" stroke="#4a66e2" stroke-width="1.35"/>
<path d="M605.41 1071.56V1036.56M603.81 1071.56h3.20M603.81 1036.56h3.20" stroke="#4a66e2" stroke-width="1.35"/>
<path d="M630.01 1049.91V1014.91M628.41 1049.91h3.20M628.41 1014.91h3.20" stroke="#4a66e2" stroke-width="1.35"/>
<path d="M654.60 1021.88V986.88M653.00 1021.88h3.20M653.00 986.88h3.20" stroke="#4a66e2" stroke-width="1.35"/>
<rect x="406.36" y="1127.43" width="4.60" height="4.60" fill="#4a66e2" fill-opacity="0.3" stroke="#4a66e2" stroke-width="1.5"/>
<rect x="430.95" y="1121.84" width="4.60" height="4.60" fill="#4a66e2" fill-opacity="0.3" stroke="#4a66e2" stroke-width="1.5"/>
<rect x="455.55" y="1107.74" width="4.60" height="4.60" fill="#4a66e2" fill-opacity="0.3" stroke="#4a66e2" stroke-width="1.5"/>
<rect x="480.14" y="1102.44" width="4.60" height="4.60" fill="#4a66e2" fill-opacity="0.3" stroke="#4a66e2" stroke-width="1.5"/>
<rect x="504.74" y="1097.67" width="4.60" height="4.60" fill="#4a66e2" fill-opacity="0.3" stroke="#4a66e2" stroke-width="1.5"/>
<rect x="529.33" y="1091.30" width="4.60" height="4.60" fill="#4a66e2" fill-opacity="0.3" stroke="#4a66e2" stroke-width="1.5"/>
<rect x="553.92" y="1083.10" width="4.60" height="4.60" fill="#4a66e2" fill-opacity="0.3" stroke="#4a66e2" stroke-width="1.5"/>
<rect x="578.52" y="1066.94" width="4.60" height="4.60" fill="#4a66e2" fill-opacity="0.3" stroke="#4a66e2" stroke-width="1.5"/>
<rect x="603.11" y="1044.90" width="4.60" height="4.60" fill="#4a66e2" fill-opacity="0.3" stroke="#4a66e2" stroke-width="1.5"/>
<rect x="627.71" y="1023.25" width="4.60" height="4.60" fill="#4a66e2" fill-opacity="0.3" stroke="#4a66e2" stroke-width="1.5"/>
<rect x="652.30" y="995.22" width="4.60" height="4.60" fill="#4a66e2" fill-opacity="0.3" stroke="#4a66e2" stroke-width="1.5"/>
<path d="M408.66 1107.32V1097.75M407.06 1107.32h3.20M407.06 1097.75h3.20" stroke="#22cdd0" stroke-width="1.35"/>
<path d="M433.25 1096.68V1087.11M431.65 1096.68h3.20M431.65 1087.11h3.20" stroke="#22cdd0" stroke-width="1.35"/>
<path d="M457.85 1093.01V1083.44M456.25 1093.01h3.20M456.25 1083.44h3.20" stroke="#22cdd0" stroke-width="1.35"/>
<path d="M482.44 1096.68V1087.11M480.84 1096.68h3.20M480.84 1087.11h3.20" stroke="#22cdd0" stroke-width="1.35"/>
<path d="M507.04 1093.01V1083.44M505.44 1093.01h3.20M505.44 1083.44h3.20" stroke="#22cdd0" stroke-width="1.35"/>
<path d="M531.63 1088.78V1079.22M530.03 1088.78h3.20M530.03 1079.22h3.20" stroke="#22cdd0" stroke-width="1.35"/>
<path d="M556.22 1081.32V1071.75M554.62 1081.32h3.20M554.62 1071.75h3.20" stroke="#22cdd0" stroke-width="1.35"/>
<path d="M580.82 1068.91V1059.34M579.22 1068.91h3.20M579.22 1059.34h3.20" stroke="#22cdd0" stroke-width="1.35"/>
<path d="M605.41 1050.03V1040.46M603.81 1050.03h3.20M603.81 1040.46h3.20" stroke="#22cdd0" stroke-width="1.35"/>
<path d="M630.01 1030.57V1021.00M628.41 1030.57h3.20M628.41 1021.00h3.20" stroke="#22cdd0" stroke-width="1.35"/>
<path d="M654.60 1005.27V995.70M653.00 1005.27h3.20M653.00 995.70h3.20" stroke="#22cdd0" stroke-width="1.35"/>
<path d="M406.46 1100.09L410.86 1104.49M406.46 1104.49L410.86 1100.09" stroke="#22cdd0" stroke-width="1.3"/>
<path d="M431.05 1089.45L435.45 1093.85M431.05 1093.85L435.45 1089.45" stroke="#22cdd0" stroke-width="1.3"/>
<path d="M455.65 1085.78L460.05 1090.18M455.65 1090.18L460.05 1085.78" stroke="#22cdd0" stroke-width="1.3"/>
<path d="M480.24 1089.45L484.64 1093.85M480.24 1093.85L484.64 1089.45" stroke="#22cdd0" stroke-width="1.3"/>
<path d="M504.84 1085.78L509.24 1090.18M504.84 1090.18L509.24 1085.78" stroke="#22cdd0" stroke-width="1.3"/>
<path d="M529.43 1081.56L533.83 1085.96M529.43 1085.96L533.83 1081.56" stroke="#22cdd0" stroke-width="1.3"/>
<path d="M554.02 1074.09L558.42 1078.49M554.02 1078.49L558.42 1074.09" stroke="#22cdd0" stroke-width="1.3"/>
<path d="M578.62 1061.69L583.02 1066.09M578.62 1066.09L583.02 1061.69" stroke="#22cdd0" stroke-width="1.3"/>
<path d="M603.21 1042.80L607.61 1047.20M603.21 1047.20L607.61 1042.80" stroke="#22cdd0" stroke-width="1.3"/>
<path d="M627.81 1023.35L632.21 1027.75M627.81 1027.75L632.21 1023.35" stroke="#22cdd0" stroke-width="1.3"/>
<path d="M652.40 998.04L656.80 1002.44M652.40 1002.44L656.80 998.04" stroke="#22cdd0" stroke-width="1.3"/>
<path d="M408.66 1179.04V1119.30M407.06 1179.04h3.20M407.06 1119.30h3.20" stroke="#b33333" stroke-width="1.35"/>
<path d="M433.25 1179.04V1111.47M431.65 1179.04h3.20M431.65 1111.47h3.20" stroke="#b33333" stroke-width="1.35"/>
<path d="M457.85 1149.07V1096.68M456.25 1149.07h3.20M456.25 1096.68h3.20" stroke="#b33333" stroke-width="1.35"/>
<path d="M482.44 1135.35V1091.65M480.84 1135.35h3.20M480.84 1091.65h3.20" stroke="#b33333" stroke-width="1.35"/>
<path d="M507.04 1124.71V1087.11M505.44 1124.71h3.20M505.44 1087.11h3.20" stroke="#b33333" stroke-width="1.35"/>
<path d="M531.63 1116.01V1079.14M530.03 1116.01h3.20M530.03 1079.14h3.20" stroke="#b33333" stroke-width="1.35"/>
<path d="M556.22 1108.66V1072.32M554.62 1108.66h3.20M554.62 1072.32h3.20" stroke="#b33333" stroke-width="1.35"/>
<path d="M580.82 1091.65V1058.60M579.22 1091.65h3.20M579.22 1058.60h3.20" stroke="#b33333" stroke-width="1.35"/>
<path d="M605.41 1069.24V1036.19M603.81 1069.24h3.20M603.81 1036.19h3.20" stroke="#b33333" stroke-width="1.35"/>
<path d="M630.01 1049.91V1013.04M628.41 1049.91h3.20M628.41 1013.04h3.20" stroke="#b33333" stroke-width="1.35"/>
<path d="M654.60 1014.91V992.49M653.00 1014.91h3.20M653.00 992.49h3.20" stroke="#b33333" stroke-width="1.35"/>
<rect x="406.36" y="1130.27" width="4.60" height="4.60" fill="#b33333" fill-opacity="0.3" stroke="#b33333" stroke-width="1.5"/>
<rect x="430.95" y="1125.97" width="4.60" height="4.60" fill="#b33333" fill-opacity="0.3" stroke="#b33333" stroke-width="1.5"/>
<rect x="455.55" y="1109.17" width="4.60" height="4.60" fill="#b33333" fill-opacity="0.3" stroke="#b33333" stroke-width="1.5"/>
<rect x="480.14" y="1101.45" width="4.60" height="4.60" fill="#b33333" fill-opacity="0.3" stroke="#b33333" stroke-width="1.5"/>
<rect x="504.74" y="1096.77" width="4.60" height="4.60" fill="#b33333" fill-opacity="0.3" stroke="#b33333" stroke-width="1.5"/>
<rect x="529.33" y="1090.32" width="4.60" height="4.60" fill="#b33333" fill-opacity="0.3" stroke="#b33333" stroke-width="1.5"/>
<rect x="553.92" y="1082.52" width="4.60" height="4.60" fill="#b33333" fill-opacity="0.3" stroke="#b33333" stroke-width="1.5"/>
<rect x="578.52" y="1067.90" width="4.60" height="4.60" fill="#b33333" fill-opacity="0.3" stroke="#b33333" stroke-width="1.5"/>
<rect x="603.11" y="1044.90" width="4.60" height="4.60" fill="#b33333" fill-opacity="0.3" stroke="#b33333" stroke-width="1.5"/>
<rect x="627.71" y="1023.25" width="4.60" height="4.60" fill="#b33333" fill-opacity="0.3" stroke="#b33333" stroke-width="1.5"/>
<rect x="652.30" y="994.56" width="4.60" height="4.60" fill="#b33333" fill-opacity="0.3" stroke="#b33333" stroke-width="1.5"/>
<path d="M408.66 1100.65V1091.08M407.06 1100.65h3.20M407.06 1091.08h3.20" stroke="#b27cf2" stroke-width="1.35"/>
<path d="M433.25 1096.68V1087.11M431.65 1096.68h3.20M431.65 1087.11h3.20" stroke="#b27cf2" stroke-width="1.35"/>
<path d="M457.85 1093.90V1084.33M456.25 1093.90h3.20M456.25 1084.33h3.20" stroke="#b27cf2" stroke-width="1.35"/>
<path d="M482.44 1096.01V1086.45M480.84 1096.01h3.20M480.84 1086.45h3.20" stroke="#b27cf2" stroke-width="1.35"/>
<path d="M507.04 1093.01V1083.44M505.44 1093.01h3.20M505.44 1083.44h3.20" stroke="#b27cf2" stroke-width="1.35"/>
<path d="M531.63 1088.78V1079.22M530.03 1088.78h3.20M530.03 1079.22h3.20" stroke="#b27cf2" stroke-width="1.35"/>
<path d="M556.22 1081.60V1072.03M554.62 1081.60h3.20M554.62 1072.03h3.20" stroke="#b27cf2" stroke-width="1.35"/>
<path d="M580.82 1067.96V1058.40M579.22 1067.96h3.20M579.22 1058.40h3.20" stroke="#b27cf2" stroke-width="1.35"/>
<path d="M605.41 1051.48V1041.91M603.81 1051.48h3.20M603.81 1041.91h3.20" stroke="#b27cf2" stroke-width="1.35"/>
<path d="M630.01 1030.57V1021.00M628.41 1030.57h3.20M628.41 1021.00h3.20" stroke="#b27cf2" stroke-width="1.35"/>
<path d="M654.60 1005.27V995.70M653.00 1005.27h3.20M653.00 995.70h3.20" stroke="#b27cf2" stroke-width="1.35"/>
<path d="M406.46 1093.43L410.86 1097.83M406.46 1097.83L410.86 1093.43" stroke="#b27cf2" stroke-width="1.3"/>
<path d="M431.05 1089.45L435.45 1093.85M431.05 1093.85L435.45 1089.45" stroke="#b27cf2" stroke-width="1.3"/>
<path d="M455.65 1086.67L460.05 1091.07M455.65 1091.07L460.05 1086.67" stroke="#b27cf2" stroke-width="1.3"/>
<path d="M480.24 1088.79L484.64 1093.19M480.24 1093.19L484.64 1088.79" stroke="#b27cf2" stroke-width="1.3"/>
<path d="M504.84 1085.78L509.24 1090.18M504.84 1090.18L509.24 1085.78" stroke="#b27cf2" stroke-width="1.3"/>
<path d="M529.43 1081.56L533.83 1085.96M529.43 1085.96L533.83 1081.56" stroke="#b27cf2" stroke-width="1.3"/>
<path d="M554.02 1074.37L558.42 1078.77M554.02 1078.77L558.42 1074.37" stroke="#b27cf2" stroke-width="1.3"/>
<path d="M578.62 1060.74L583.02 1065.14M578.62 1065.14L583.02 1060.74" stroke="#b27cf2" stroke-width="1.3"/>
<path d="M603.21 1044.26L607.61 1048.66M603.21 1048.66L607.61 1044.26" stroke="#b27cf2" stroke-width="1.3"/>
<path d="M627.81 1023.35L632.21 1027.75M627.81 1027.75L632.21 1023.35" stroke="#b27cf2" stroke-width="1.3"/>
<path d="M652.40 998.04L656.80 1002.44M652.40 1002.44L656.80 998.04" stroke="#b27cf2" stroke-width="1.3"/>
<path d="M408.66 1205.60V1110.04M407.06 1205.60h3.20M407.06 1110.04h3.20" stroke="#1f7a1f" stroke-width="1.35"/>
<path d="M433.25 1205.60V1111.47M431.65 1205.60h3.20M431.65 1111.47h3.20" stroke="#1f7a1f" stroke-width="1.35"/>
<path d="M457.85 1159.71V1091.65M456.25 1159.71h3.20M456.25 1091.65h3.20" stroke="#1f7a1f" stroke-width="1.35"/>
<path d="M482.44 1168.40V1102.29M480.84 1168.40h3.20M480.84 1102.29h3.20" stroke="#1f7a1f" stroke-width="1.35"/>
<path d="M507.04 1159.71V1096.68M505.44 1159.71h3.20M505.44 1096.68h3.20" stroke="#1f7a1f" stroke-width="1.35"/>
<path d="M531.63 1149.07V1091.65M530.03 1149.07h3.20M530.03 1091.65h3.20" stroke="#1f7a1f" stroke-width="1.35"/>
<path d="M556.22 1135.35V1082.96M554.62 1135.35h3.20M554.62 1082.96h3.20" stroke="#1f7a1f" stroke-width="1.35"/>
<path d="M580.82 1116.01V1066.35M579.22 1116.01h3.20M579.22 1066.35h3.20" stroke="#1f7a1f" stroke-width="1.35"/>
<path d="M605.41 1091.65V1046.09M603.81 1091.65h3.20M603.81 1046.09h3.20" stroke="#1f7a1f" stroke-width="1.35"/>
<path d="M630.01 1058.60V1021.00M628.41 1058.60h3.20M628.41 1021.00h3.20" stroke="#1f7a1f" stroke-width="1.35"/>
<path d="M654.60 1014.91V992.49M653.00 1014.91h3.20M653.00 992.49h3.20" stroke="#1f7a1f" stroke-width="1.35"/>
<rect x="406.36" y="1149.38" width="4.60" height="4.60" fill="#1f7a1f" fill-opacity="0.3" stroke="#1f7a1f" stroke-width="1.5"/>
<rect x="430.95" y="1145.51" width="4.60" height="4.60" fill="#1f7a1f" fill-opacity="0.3" stroke="#1f7a1f" stroke-width="1.5"/>
<rect x="455.55" y="1107.74" width="4.60" height="4.60" fill="#1f7a1f" fill-opacity="0.3" stroke="#1f7a1f" stroke-width="1.5"/>
<rect x="480.14" y="1122.22" width="4.60" height="4.60" fill="#1f7a1f" fill-opacity="0.3" stroke="#1f7a1f" stroke-width="1.5"/>
<rect x="504.74" y="1115.33" width="4.60" height="4.60" fill="#1f7a1f" fill-opacity="0.3" stroke="#1f7a1f" stroke-width="1.5"/>
<rect x="529.33" y="1106.91" width="4.60" height="4.60" fill="#1f7a1f" fill-opacity="0.3" stroke="#1f7a1f" stroke-width="1.5"/>
<rect x="553.92" y="1099.52" width="4.60" height="4.60" fill="#1f7a1f" fill-opacity="0.3" stroke="#1f7a1f" stroke-width="1.5"/>
<rect x="578.52" y="1080.66" width="4.60" height="4.60" fill="#1f7a1f" fill-opacity="0.3" stroke="#1f7a1f" stroke-width="1.5"/>
<rect x="603.11" y="1059.25" width="4.60" height="4.60" fill="#1f7a1f" fill-opacity="0.3" stroke="#1f7a1f" stroke-width="1.5"/>
<rect x="627.71" y="1033.00" width="4.60" height="4.60" fill="#1f7a1f" fill-opacity="0.3" stroke="#1f7a1f" stroke-width="1.5"/>
<rect x="652.30" y="997.94" width="4.60" height="4.60" fill="#1f7a1f" fill-opacity="0.3" stroke="#1f7a1f" stroke-width="1.5"/>
<path d="M408.66 1129.16V1119.59M407.06 1129.16h3.20M407.06 1119.59h3.20" stroke="#2ee82e" stroke-width="1.35"/>
<path d="M433.25 1124.33V1114.76M431.65 1124.33h3.20M431.65 1114.76h3.20" stroke="#2ee82e" stroke-width="1.35"/>
<path d="M457.85 1121.04V1111.47M456.25 1121.04h3.20M456.25 1111.47h3.20" stroke="#2ee82e" stroke-width="1.35"/>
<path d="M482.44 1117.81V1108.24M480.84 1117.81h3.20M480.84 1108.24h3.20" stroke="#2ee82e" stroke-width="1.35"/>
<path d="M507.04 1113.69V1104.12M505.44 1113.69h3.20M505.44 1104.12h3.20" stroke="#2ee82e" stroke-width="1.35"/>
<path d="M531.63 1105.11V1095.54M530.03 1105.11h3.20M530.03 1095.54h3.20" stroke="#2ee82e" stroke-width="1.35"/>
<path d="M556.22 1099.02V1089.45M554.62 1099.02h3.20M554.62 1089.45h3.20" stroke="#2ee82e" stroke-width="1.35"/>
<path d="M580.82 1084.46V1074.89M579.22 1084.46h3.20M579.22 1074.89h3.20" stroke="#2ee82e" stroke-width="1.35"/>
<path d="M605.41 1066.57V1057.01M603.81 1066.57h3.20M603.81 1057.01h3.20" stroke="#2ee82e" stroke-width="1.35"/>
<path d="M630.01 1041.21V1031.64M628.41 1041.21h3.20M628.41 1031.64h3.20" stroke="#2ee82e" stroke-width="1.35"/>
<path d="M654.60 1011.40V1001.83M653.00 1011.40h3.20M653.00 1001.83h3.20" stroke="#2ee82e" stroke-width="1.35"/>
<path d="M406.46 1121.94L410.86 1126.34M406.46 1126.34L410.86 1121.94" stroke="#2ee82e" stroke-width="1.3"/>
<path d="M431.05 1117.10L435.45 1121.50M431.05 1121.50L435.45 1117.10" stroke="#2ee82e" stroke-width="1.3"/>
<path d="M455.65 1113.81L460.05 1118.21M455.65 1118.21L460.05 1113.81" stroke="#2ee82e" stroke-width="1.3"/>
<path d="M480.24 1110.59L484.64 1114.99M480.24 1114.99L484.64 1110.59" stroke="#2ee82e" stroke-width="1.3"/>
<path d="M504.84 1106.46L509.24 1110.86M504.84 1110.86L509.24 1106.46" stroke="#2ee82e" stroke-width="1.3"/>
<path d="M529.43 1097.88L533.83 1102.28M529.43 1102.28L533.83 1097.88" stroke="#2ee82e" stroke-width="1.3"/>
<path d="M554.02 1091.80L558.42 1096.20M554.02 1096.20L558.42 1091.80" stroke="#2ee82e" stroke-width="1.3"/>
<path d="M578.62 1077.24L583.02 1081.64M578.62 1081.64L583.02 1077.24" stroke="#2ee82e" stroke-width="1.3"/>
<path d="M603.21 1059.35L607.61 1063.75M603.21 1063.75L607.61 1059.35" stroke="#2ee82e" stroke-width="1.3"/>
<path d="M627.81 1033.99L632.21 1038.39M627.81 1038.39L632.21 1033.99" stroke="#2ee82e" stroke-width="1.3"/>
<path d="M652.40 1004.17L656.80 1008.57M652.40 1008.57L656.80 1004.17" stroke="#2ee82e" stroke-width="1.3"/>
<path d="M433.25 1205.60V1088.52M431.65 1205.60h3.20M431.65 1088.52h3.20" stroke="#cc9222" stroke-width="1.35"/>
<path d="M457.85 1205.60V1092.62M456.25 1205.60h3.20M456.25 1092.62h3.20" stroke="#cc9222" stroke-width="1.35"/>
<path d="M482.44 1205.60V1096.68M480.84 1205.60h3.20M480.84 1096.68h3.20" stroke="#cc9222" stroke-width="1.35"/>
<path d="M507.04 1205.60V1086.25M505.44 1205.60h3.20M505.44 1086.25h3.20" stroke="#cc9222" stroke-width="1.35"/>
<path d="M531.63 1205.60V1082.96M530.03 1205.60h3.20M530.03 1082.96h3.20" stroke="#cc9222" stroke-width="1.35"/>
<path d="M556.22 1205.60V1071.06M554.62 1205.60h3.20M554.62 1071.06h3.20" stroke="#cc9222" stroke-width="1.35"/>
<path d="M580.82 1205.60V1055.37M579.22 1205.60h3.20M579.22 1055.37h3.20" stroke="#cc9222" stroke-width="1.35"/>
<path d="M605.41 1116.01V1024.37M603.81 1116.01h3.20M603.81 1024.37h3.20" stroke="#cc9222" stroke-width="1.35"/>
<path d="M630.01 1069.24V993.70M628.41 1069.24h3.20M628.41 993.70h3.20" stroke="#cc9222" stroke-width="1.35"/>
<path d="M654.60 1001.67V960.04M653.00 1001.67h3.20M653.00 960.04h3.20" stroke="#cc9222" stroke-width="1.35"/>
<path d="M433.25 1138.14L436.55 1141.44L433.25 1144.74L429.95 1141.44Z" fill="#cc9222" fill-opacity="0.3" stroke="#cc9222" stroke-width="1.4"/>
<path d="M457.85 1126.43L461.15 1129.73L457.85 1133.03L454.55 1129.73Z" fill="#cc9222" fill-opacity="0.3" stroke="#cc9222" stroke-width="1.4"/>
<path d="M482.44 1141.22L485.74 1144.52L482.44 1147.82L479.14 1144.52Z" fill="#cc9222" fill-opacity="0.3" stroke="#cc9222" stroke-width="1.4"/>
<path d="M507.04 1132.77L510.34 1136.07L507.04 1139.37L503.74 1136.07Z" fill="#cc9222" fill-opacity="0.3" stroke="#cc9222" stroke-width="1.4"/>
<path d="M531.63 1125.80L534.93 1129.10L531.63 1132.40L528.33 1129.10Z" fill="#cc9222" fill-opacity="0.3" stroke="#cc9222" stroke-width="1.4"/>
<path d="M556.22 1108.17L559.52 1111.47L556.22 1114.77L552.92 1111.47Z" fill="#cc9222" fill-opacity="0.3" stroke="#cc9222" stroke-width="1.4"/>
<path d="M580.82 1082.53L584.12 1085.83L580.82 1089.13L577.52 1085.83Z" fill="#cc9222" fill-opacity="0.3" stroke="#cc9222" stroke-width="1.4"/>
<path d="M605.41 1045.04L608.71 1048.34L605.41 1051.64L602.11 1048.34Z" fill="#cc9222" fill-opacity="0.3" stroke="#cc9222" stroke-width="1.4"/>
<path d="M630.01 1012.18L633.31 1015.48L630.01 1018.78L626.71 1015.48Z" fill="#cc9222" fill-opacity="0.3" stroke="#cc9222" stroke-width="1.4"/>
<path d="M654.60 973.49L657.90 976.79L654.60 980.09L651.30 976.79Z" fill="#cc9222" fill-opacity="0.3" stroke="#cc9222" stroke-width="1.4"/>
<path d="M556.22 1172.95V1163.38M554.62 1172.95h3.20M554.62 1163.38h3.20" stroke="#d2cc92" stroke-width="1.35"/>
<path d="M580.82 1093.54V1083.97M579.22 1093.54h3.20M579.22 1083.97h3.20" stroke="#d2cc92" stroke-width="1.35"/>
<path d="M605.41 1053.37V1043.80M603.81 1053.37h3.20M603.81 1043.80h3.20" stroke="#d2cc92" stroke-width="1.35"/>
<path d="M630.01 1021.88V1012.31M628.41 1021.88h3.20M628.41 1012.31h3.20" stroke="#d2cc92" stroke-width="1.35"/>
<path d="M654.60 984.73V975.16M653.00 984.73h3.20M653.00 975.16h3.20" stroke="#d2cc92" stroke-width="1.35"/>
<circle cx="556.22" cy="1167.93" r="2.00" fill="#d2cc92"/>
<circle cx="580.82" cy="1088.52" r="2.00" fill="#d2cc92"/>
<circle cx="605.41" cy="1048.34" r="2.00" fill="#d2cc92"/>
<circle cx="630.01" cy="1016.85" r="2.00" fill="#d2cc92"/>
<circle cx="654.60" cy="979.71" r="2.00" fill="#d2cc92"/>
<path d="M433.25 1205.60V1091.65M431.65 1205.60h3.20M431.65 1091.65h3.20" stroke="#555555" stroke-width="1.35"/>
<path d="M457.85 1205.60V1096.68M456.25 1205.60h3.20M456.25 1096.68h3.20" stroke="#555555" stroke-width="1.35"/>
<path d="M482.44 1205.60V1102.29M480.84 1205.60h3.20M480.84 1102.29h3.20" stroke="#555555" stroke-width="1.35"/>
<path d="M507.04 1205.60V1096.68M505.44 1205.60h3.20M505.44 1096.68h3.20" stroke="#555555" stroke-width="1.35"/>
<path d="M531.63 1205.60V1091.65M530.03 1205.60h3.20M530.03 1091.65h3.20" stroke="#555555" stroke-width="1.35"/>
<path d="M556.22 1205.60V1082.96M554.62 1205.60h3.20M554.62 1082.96h3.20" stroke="#555555" stroke-width="1.35"/>
<path d="M580.82 1205.60V1069.24M579.22 1205.60h3.20M579.22 1069.24h3.20" stroke="#555555" stroke-width="1.35"/>
<path d="M605.41 1154.44V1025.55M603.81 1154.44h3.20M603.81 1025.55h3.20" stroke="#555555" stroke-width="1.35"/>
<path d="M630.01 1102.29V1009.50M628.41 1102.29h3.20M628.41 1009.50h3.20" stroke="#555555" stroke-width="1.35"/>
<path d="M654.60 1036.19V981.85M653.00 1036.19h3.20M653.00 981.85h3.20" stroke="#555555" stroke-width="1.35"/>
<path d="M433.25 1129.72L436.55 1133.02L433.25 1136.32L429.95 1133.02Z" fill="#555555" fill-opacity="0.3" stroke="#555555" stroke-width="1.4"/>
<path d="M457.85 1138.69L461.15 1141.99L457.85 1145.29L454.55 1141.99Z" fill="#555555" fill-opacity="0.3" stroke="#555555" stroke-width="1.4"/>
<path d="M482.44 1148.72L485.74 1152.02L482.44 1155.32L479.14 1152.02Z" fill="#555555" fill-opacity="0.3" stroke="#555555" stroke-width="1.4"/>
<path d="M507.04 1146.73L510.34 1150.03L507.04 1153.33L503.74 1150.03Z" fill="#555555" fill-opacity="0.3" stroke="#555555" stroke-width="1.4"/>
<path d="M531.63 1144.82L534.93 1148.12L531.63 1151.42L528.33 1148.12Z" fill="#555555" fill-opacity="0.3" stroke="#555555" stroke-width="1.4"/>
<path d="M556.22 1129.72L559.52 1133.02L556.22 1136.32L552.92 1133.02Z" fill="#555555" fill-opacity="0.3" stroke="#555555" stroke-width="1.4"/>
<path d="M580.82 1107.17L584.12 1110.47L580.82 1113.77L577.52 1110.47Z" fill="#555555" fill-opacity="0.3" stroke="#555555" stroke-width="1.4"/>
<path d="M605.41 1073.27L608.71 1076.57L605.41 1079.87L602.11 1076.57Z" fill="#555555" fill-opacity="0.3" stroke="#555555" stroke-width="1.4"/>
<path d="M630.01 1040.29L633.31 1043.59L630.01 1046.89L626.71 1043.59Z" fill="#555555" fill-opacity="0.3" stroke="#555555" stroke-width="1.4"/>
<path d="M654.60 998.37L657.90 1001.67L654.60 1004.97L651.30 1001.67Z" fill="#555555" fill-opacity="0.3" stroke="#555555" stroke-width="1.4"/>
<path d="M580.82 1173.42V1163.86M579.22 1173.42h3.20M579.22 1163.86h3.20" stroke="#8c8c8c" stroke-width="1.35"/>
<path d="M605.41 1099.02V1089.45M603.81 1099.02h3.20M603.81 1089.45h3.20" stroke="#8c8c8c" stroke-width="1.35"/>
<path d="M630.01 1048.61V1039.04M628.41 1048.61h3.20M628.41 1039.04h3.20" stroke="#8c8c8c" stroke-width="1.35"/>
<path d="M654.60 1006.69V997.12M653.00 1006.69h3.20M653.00 997.12h3.20" stroke="#8c8c8c" stroke-width="1.35"/>
<circle cx="580.82" cy="1168.40" r="2.00" fill="#8c8c8c"/>
<circle cx="605.41" cy="1094.00" r="2.00" fill="#8c8c8c"/>
<circle cx="630.01" cy="1043.59" r="2.00" fill="#8c8c8c"/>
<circle cx="654.60" cy="1001.67" r="2.00" fill="#8c8c8c"/>
</g>
<rect x="406.70" y="949.40" width="251.20" height="251.20" fill="none" stroke="#1a1a1a" stroke-width="1.6"/>
<path d="M409.50 1200.60v-5M409.50 949.40v5M434.09 1200.60v-3M434.09 949.40v3M448.48 1200.60v-3M448.48 949.40v3M458.69 1200.60v-3M458.69 949.40v3M466.61 1200.60v-3M466.61 949.40v3M473.07 1200.60v-3M473.07 949.40v3M478.54 1200.60v-3M478.54 949.40v3M483.28 1200.60v-3M483.28 949.40v3M487.46 1200.60v-3M487.46 949.40v3M491.20 1200.60v-5M491.20 949.40v5M515.79 1200.60v-3M515.79 949.40v3M530.18 1200.60v-3M530.18 949.40v3M540.39 1200.60v-3M540.39 949.40v3M548.31 1200.60v-3M548.31 949.40v3M554.77 1200.60v-3M554.77 949.40v3M560.24 1200.60v-3M560.24 949.40v3M564.98 1200.60v-3M564.98 949.40v3M569.16 1200.60v-3M569.16 949.40v3M572.90 1200.60v-5M572.90 949.40v5M597.49 1200.60v-3M597.49 949.40v3M611.88 1200.60v-3M611.88 949.40v3M622.09 1200.60v-3M622.09 949.40v3M630.01 1200.60v-3M630.01 949.40v3M636.47 1200.60v-3M636.47 949.40v3M641.94 1200.60v-3M641.94 949.40v3M646.68 1200.60v-3M646.68 949.40v3M650.86 1200.60v-3M650.86 949.40v3M654.60 1200.60v-5M654.60 949.40v5M406.70 1192.76h3M657.90 1192.76h-3M406.70 1185.41h3M657.90 1185.41h-3M406.70 1179.04h3M657.90 1179.04h-3M406.70 1173.42h3M657.90 1173.42h-3M406.70 1168.40h5M657.90 1168.40h-5M406.70 1135.35h3M657.90 1135.35h-3M406.70 1116.01h3M657.90 1116.01h-3M406.70 1102.29h3M657.90 1102.29h-3M406.70 1091.65h3M657.90 1091.65h-3M406.70 1082.96h3M657.90 1082.96h-3M406.70 1075.61h3M657.90 1075.61h-3M406.70 1069.24h3M657.90 1069.24h-3M406.70 1063.62h3M657.90 1063.62h-3M406.70 1058.60h5M657.90 1058.60h-5M406.70 1025.55h3M657.90 1025.55h-3M406.70 1006.21h3M657.90 1006.21h-3M406.70 992.49h3M657.90 992.49h-3M406.70 981.85h3M657.90 981.85h-3M406.70 973.16h3M657.90 973.16h-3M406.70 965.81h3M657.90 965.81h-3M406.70 959.44h3M657.90 959.44h-3M406.70 953.82h3M657.90 953.82h-3" stroke="#111" stroke-width="1.1" fill="none"/>
<text x="84.40" y="28.30" class="lg">Δ</text><text x="94.70" y="31.90" class="sr">DOP</text>
<path d="M137.80 25.40H166.50" stroke="#4a66e2" stroke-width="1.5"/>
<path d="M152.15 18.60V32.20M150.55 18.60h3.2M150.55 32.20h3.2" stroke="#4a66e2" stroke-width="1.3"/>
<rect x="149.85" y="23.10" width="4.60" height="4.60" fill="#4a66e2" fill-opacity="0.3" stroke="#4a66e2" stroke-width="1.5"/>
<text x="84.40" y="49.20" class="lg">Δ</text><text x="94.70" y="52.80" class="sr">DOP</text><path d="M85.80 36.40h7.90" stroke="#111" stroke-width="1.3"/>
<path d="M137.80 46.30H166.50" stroke="#22cdd0" stroke-width="1.5"/>
<path d="M152.15 44.30V48.30" stroke="#22cdd0" stroke-width="1.2"/>
<path d="M149.95 44.10L154.35 48.50M149.95 48.50L154.35 44.10" stroke="#22cdd0" stroke-width="1.3"/>
<text x="84.40" y="70.80" class="lg">Δ</text><text x="94.70" y="74.40" class="sr">MDOP</text>
<path d="M137.80 67.90H166.50" stroke="#b33333" stroke-width="1.5"/>
<path d="M152.15 61.10V74.70M150.55 61.10h3.2M150.55 74.70h3.2" stroke="#b33333" stroke-width="1.3"/>
<rect x="149.85" y="65.60" width="4.60" height="4.60" fill="#b33333" fill-opacity="0.3" stroke="#b33333" stroke-width="1.5"/>
<text x="84.40" y="93.10" class="lg">Δ</text><text x="94.70" y="96.70" class="sr">MDOP</text><path d="M85.80 80.30h7.90" stroke="#111" stroke-width="1.3"/>
<path d="M137.80 90.20H166.50" stroke="#b27cf2" stroke-width="1.5"/>
<path d="M152.15 88.20V92.20" stroke="#b27cf2" stroke-width="1.2"/>
<path d="M149.95 88.00L154.35 92.40M149.95 92.40L154.35 88.00" stroke="#b27cf2" stroke-width="1.3"/>
<text x="436.30" y="27.60" class="lg">Δ</text><text x="446.60" y="31.20" class="sr">DOP</text>
<path d="M490.00 24.70H518.80" stroke="#4a66e2" stroke-width="1.5"/>
<path d="M504.40 17.90V31.50M502.80 17.90h3.2M502.80 31.50h3.2" stroke="#4a66e2" stroke-width="1.3"/>
<rect x="502.10" y="22.40" width="4.60" height="4.60" fill="#4a66e2" fill-opacity="0.3" stroke="#4a66e2" stroke-width="1.5"/>
<text x="436.30" y="48.50" class="lg">Δ</text><text x="446.60" y="52.10" class="sr">DOP</text><path d="M437.70 35.70h7.90" stroke="#111" stroke-width="1.3"/>
<path d="M490.00 45.60H518.80" stroke="#22cdd0" stroke-width="1.5"/>
<path d="M504.40 43.60V47.60" stroke="#22cdd0" stroke-width="1.2"/>
<path d="M502.20 43.40L506.60 47.80M502.20 47.80L506.60 43.40" stroke="#22cdd0" stroke-width="1.3"/>
<text x="436.30" y="70.10" class="lg">Δ</text><text x="446.60" y="73.70" class="sr">MDOP</text>
<path d="M490.00 67.20H518.80" stroke="#b33333" stroke-width="1.5"/>
<path d="M504.40 60.40V74.00M502.80 60.40h3.2M502.80 74.00h3.2" stroke="#b33333" stroke-width="1.3"/>
<rect x="502.10" y="64.90" width="4.60" height="4.60" fill="#b33333" fill-opacity="0.3" stroke="#b33333" stroke-width="1.5"/>
<text x="436.30" y="92.30" class="lg">Δ</text><text x="446.60" y="95.90" class="sr">MDOP</text><path d="M437.70 79.50h7.90" stroke="#111" stroke-width="1.3"/>
<path d="M490.00 89.40H518.80" stroke="#b27cf2" stroke-width="1.5"/>
<path d="M504.40 87.40V91.40" stroke="#b27cf2" stroke-width="1.2"/>
<path d="M502.20 87.20L506.60 91.60M502.20 91.60L506.60 87.20" stroke="#b27cf2" stroke-width="1.3"/>
<text x="100.72" y="344.20" class="lg it">H</text><text x="112.28" y="347.80" class="sr">C</text>
<path d="M140.20 341.30H168.00" stroke="#4a66e2" stroke-width="1.5"/>
<path d="M154.10 334.50V348.10M152.50 334.50h3.2M152.50 348.10h3.2" stroke="#4a66e2" stroke-width="1.3"/>
<rect x="151.80" y="339.00" width="4.60" height="4.60" fill="#4a66e2" fill-opacity="0.3" stroke="#4a66e2" stroke-width="1.5"/>
<text x="100.72" y="365.00" class="lg it">H</text><text x="112.28" y="368.60" class="sr">C</text><path d="M103.72 352.20h9.16" stroke="#111" stroke-width="1.3"/>
<path d="M140.20 362.10H168.00" stroke="#22cdd0" stroke-width="1.5"/>
<path d="M154.10 360.10V364.10" stroke="#22cdd0" stroke-width="1.2"/>
<path d="M151.90 359.90L156.30 364.30M151.90 364.30L156.30 359.90" stroke="#22cdd0" stroke-width="1.3"/>
<text x="85.38" y="386.90" class="lg it">H</text><text x="96.95" y="390.50" class="sr">C_NBC</text>
<path d="M140.20 384.00H168.00" stroke="#b33333" stroke-width="1.5"/>
<path d="M154.10 377.20V390.80M152.50 377.20h3.2M152.50 390.80h3.2" stroke="#b33333" stroke-width="1.3"/>
<rect x="151.80" y="381.70" width="4.60" height="4.60" fill="#b33333" fill-opacity="0.3" stroke="#b33333" stroke-width="1.5"/>
<text x="85.38" y="409.30" class="lg it">H</text><text x="96.95" y="412.90" class="sr">C_NBC</text><path d="M88.38 396.50h9.16" stroke="#111" stroke-width="1.3"/>
<path d="M140.20 406.40H168.00" stroke="#b27cf2" stroke-width="1.5"/>
<path d="M154.10 404.40V408.40" stroke="#b27cf2" stroke-width="1.2"/>
<path d="M151.90 404.20L156.30 408.60M151.90 408.60L156.30 404.20" stroke="#b27cf2" stroke-width="1.3"/>
<text x="571.42" y="485.30" class="lg it">H</text><text x="582.98" y="488.90" class="sr">C</text>
<path d="M611.00 482.40H639.40" stroke="#4a66e2" stroke-width="1.5"/>
<path d="M625.20 475.60V489.20M623.60 475.60h3.2M623.60 489.20h3.2" stroke="#4a66e2" stroke-width="1.3"/>
<rect x="622.90" y="480.10" width="4.60" height="4.60" fill="#4a66e2" fill-opacity="0.3" stroke="#4a66e2" stroke-width="1.5"/>
<text x="571.42" y="505.80" class="lg it">H</text><text x="582.98" y="509.40" class="sr">C</text><path d="M574.42 493.00h9.16" stroke="#111" stroke-width="1.3"/>
<path d="M611.00 502.90H639.40" stroke="#22cdd0" stroke-width="1.5"/>
<path d="M625.20 500.90V504.90" stroke="#22cdd0" stroke-width="1.2"/>
<path d="M623.00 500.70L627.40 505.10M623.00 505.10L627.40 500.70" stroke="#22cdd0" stroke-width="1.3"/>
<text x="556.08" y="527.40" class="lg it">H</text><text x="567.65" y="531.00" class="sr">C_NBC</text>
<path d="M611.00 524.50H639.40" stroke="#b33333" stroke-width="1.5"/>
<path d="M625.20 517.70V531.30M623.60 517.70h3.2M623.60 531.30h3.2" stroke="#b33333" stroke-width="1.3"/>
<rect x="622.90" y="522.20" width="4.60" height="4.60" fill="#b33333" fill-opacity="0.3" stroke="#b33333" stroke-width="1.5"/>
<text x="556.08" y="549.70" class="lg it">H</text><text x="567.65" y="553.30" class="sr">C_NBC</text><path d="M559.08 536.90h9.16" stroke="#111" stroke-width="1.3"/>
<path d="M611.00 546.80H639.40" stroke="#b27cf2" stroke-width="1.5"/>
<path d="M625.20 544.80V548.80" stroke="#b27cf2" stroke-width="1.2"/>
<path d="M623.00 544.60L627.40 549.00M623.00 549.00L627.40 544.60" stroke="#b27cf2" stroke-width="1.3"/>
<text x="101.95" y="660.50" class="lg it">H</text><text x="113.52" y="664.10" class="sr">L</text>
<path d="M141.30 657.60H169.60" stroke="#4a66e2" stroke-width="1.5"/>
<path d="M155.45 650.80V664.40M153.85 650.80h3.2M153.85 664.40h3.2" stroke="#4a66e2" stroke-width="1.3"/>
<rect x="153.15" y="655.30" width="4.60" height="4.60" fill="#4a66e2" fill-opacity="0.3" stroke="#4a66e2" stroke-width="1.5"/>
<text x="101.95" y="681.20" class="lg it">H</text><text x="113.52" y="684.80" class="sr">L</text><path d="M104.95 668.40h9.16" stroke="#111" stroke-width="1.3"/>
<path d="M141.30 678.30H169.60" stroke="#22cdd0" stroke-width="1.5"/>
<path d="M155.45 676.30V680.30" stroke="#22cdd0" stroke-width="1.2"/>
<path d="M153.25 676.10L157.65 680.50M153.25 680.50L157.65 676.10" stroke="#22cdd0" stroke-width="1.3"/>
<text x="86.62" y="703.10" class="lg it">H</text><text x="98.18" y="706.70" class="sr">L_NBC</text>
<path d="M141.30 700.20H169.60" stroke="#b33333" stroke-width="1.5"/>
<path d="M155.45 693.40V707.00M153.85 693.40h3.2M153.85 707.00h3.2" stroke="#b33333" stroke-width="1.3"/>
<rect x="153.15" y="697.90" width="4.60" height="4.60" fill="#b33333" fill-opacity="0.3" stroke="#b33333" stroke-width="1.5"/>
<text x="86.62" y="725.40" class="lg it">H</text><text x="98.18" y="729.00" class="sr">L_NBC</text><path d="M89.62 712.60h9.16" stroke="#111" stroke-width="1.3"/>
<path d="M141.30 722.50H169.60" stroke="#b27cf2" stroke-width="1.5"/>
<path d="M155.45 720.50V724.50" stroke="#b27cf2" stroke-width="1.2"/>
<path d="M153.25 720.30L157.65 724.70M153.25 724.70L157.65 720.30" stroke="#b27cf2" stroke-width="1.3"/>
<text x="573.75" y="800.30" class="lg it">H</text><text x="585.32" y="803.90" class="sr">L</text>
<path d="M613.20 797.40H641.00" stroke="#4a66e2" stroke-width="1.5"/>
<path d="M627.10 790.60V804.20M625.50 790.60h3.2M625.50 804.20h3.2" stroke="#4a66e2" stroke-width="1.3"/>
<rect x="624.80" y="795.10" width="4.60" height="4.60" fill="#4a66e2" fill-opacity="0.3" stroke="#4a66e2" stroke-width="1.5"/>
<text x="573.75" y="820.80" class="lg it">H</text><text x="585.32" y="824.40" class="sr">L</text><path d="M576.75 808.00h9.16" stroke="#111" stroke-width="1.3"/>
<path d="M613.20 817.90H641.00" stroke="#22cdd0" stroke-width="1.5"/>
<path d="M627.10 815.90V819.90" stroke="#22cdd0" stroke-width="1.2"/>
<path d="M624.90 815.70L629.30 820.10M624.90 820.10L629.30 815.70" stroke="#22cdd0" stroke-width="1.3"/>
<text x="558.42" y="842.40" class="lg it">H</text><text x="569.98" y="846.00" class="sr">L_NBC</text>
<path d="M613.20 839.50H641.00" stroke="#b33333" stroke-width="1.5"/>
<path d="M627.10 832.70V846.30M625.50 832.70h3.2M625.50 846.30h3.2" stroke="#b33333" stroke-width="1.3"/>
<rect x="624.80" y="837.20" width="4.60" height="4.60" fill="#b33333" fill-opacity="0.3" stroke="#b33333" stroke-width="1.5"/>
<text x="558.42" y="864.70" class="lg it">H</text><text x="569.98" y="868.30" class="sr">L_NBC</text><path d="M561.42 851.90h9.16" stroke="#111" stroke-width="1.3"/>
<path d="M613.20 861.80H641.00" stroke="#b27cf2" stroke-width="1.5"/>
<path d="M627.10 859.80V863.80" stroke="#b27cf2" stroke-width="1.2"/>
<path d="M624.90 859.60L629.30 864.00M624.90 864.00L629.30 859.60" stroke="#b27cf2" stroke-width="1.3"/>
<text x="78.95" y="973.70" class="lg it">P</text><text x="88.54" y="973.20" class="lg">′</text><text x="86.94" y="977.10" class="sr" style="font-size:9.5px">Δ</text>
<path d="M104.50 968.30H132.50" stroke="#4a66e2" stroke-width="1.5"/>
<path d="M118.50 961.50V975.10M116.90 961.50h3.2M116.90 975.10h3.2" stroke="#4a66e2" stroke-width="1.3"/>
<rect x="116.20" y="966.00" width="4.60" height="4.60" fill="#4a66e2" fill-opacity="0.3" stroke="#4a66e2" stroke-width="1.5"/>
<text x="78.95" y="994.80" class="lg it">P</text><text x="88.54" y="994.30" class="lg">′</text><text x="86.94" y="998.20" class="sr" style="font-size:9.5px">Δ</text><path d="M81.95 982.00h7.38" stroke="#111" stroke-width="1.3"/>
<path d="M104.50 989.40H132.50" stroke="#22cdd0" stroke-width="1.5"/>
<path d="M118.50 987.40V991.40" stroke="#22cdd0" stroke-width="1.2"/>
<path d="M116.30 987.20L120.70 991.60M116.30 991.60L120.70 987.20" stroke="#22cdd0" stroke-width="1.3"/>
<text x="79.57" y="1016.60" class="lg it">L</text><text x="88.28" y="1016.10" class="lg">′</text><text x="86.68" y="1020.00" class="sr" style="font-size:11.5px">1</text>
<path d="M104.50 1011.20H132.50" stroke="#b33333" stroke-width="1.5"/>
<path d="M118.50 1004.40V1018.00M116.90 1004.40h3.2M116.90 1018.00h3.2" stroke="#b33333" stroke-width="1.3"/>
<rect x="116.20" y="1008.90" width="4.60" height="4.60" fill="#b33333" fill-opacity="0.3" stroke="#b33333" stroke-width="1.5"/>
<text x="79.57" y="1038.60" class="lg it">L</text><text x="88.28" y="1038.10" class="lg">′</text><text x="86.68" y="1042.00" class="sr" style="font-size:11.5px">1</text><path d="M82.57 1025.80h6.51" stroke="#111" stroke-width="1.3"/>
<path d="M104.50 1033.20H132.50" stroke="#b27cf2" stroke-width="1.5"/>
<path d="M118.50 1031.20V1035.20" stroke="#b27cf2" stroke-width="1.2"/>
<path d="M116.30 1031.00L120.70 1035.40M116.30 1035.40L120.70 1031.00" stroke="#b27cf2" stroke-width="1.3"/>
<text x="79.07" y="1061.60" class="lg it">L</text><text x="87.98" y="1065.00" class="sr" style="font-size:11.5px">2</text>
<path d="M104.50 1056.20H132.50" stroke="#1f7a1f" stroke-width="1.5"/>
<path d="M118.50 1049.40V1063.00M116.90 1049.40h3.2M116.90 1063.00h3.2" stroke="#1f7a1f" stroke-width="1.3"/>
<rect x="116.20" y="1053.90" width="4.60" height="4.60" fill="#1f7a1f" fill-opacity="0.3" stroke="#1f7a1f" stroke-width="1.5"/>
<text x="161.37" y="973.20" class="lg it">L</text><text x="170.28" y="976.80" class="sr" style="font-size:11.5px">2</text><path d="M164.37 960.40h6.51" stroke="#111" stroke-width="1.3"/>
<path d="M191.90 968.30H219.90" stroke="#2ee82e" stroke-width="1.5"/>
<path d="M205.90 966.30V970.30" stroke="#2ee82e" stroke-width="1.2"/>
<path d="M203.70 966.10L208.10 970.50M203.70 970.50L208.10 966.10" stroke="#2ee82e" stroke-width="1.3"/>
<text x="152.36" y="994.30" class="lg">Δ</text><text x="162.66" y="997.90" class="sr" style="font-size:13px">max</text>
<path d="M191.90 989.40H219.90" stroke="#cc9222" stroke-width="1.5"/>
<path d="M205.90 982.60V996.20M204.30 982.60h3.2M204.30 996.20h3.2" stroke="#cc9222" stroke-width="1.3"/>
<path d="M205.90 986.10L209.20 989.40L205.90 992.70L202.60 989.40Z" fill="#cc9222" fill-opacity="0.3" stroke="#cc9222" stroke-width="1.4"/>
<text x="152.36" y="1016.10" class="lg">Δ</text><text x="162.66" y="1019.70" class="sr" style="font-size:13px">max</text><path d="M153.76 1003.30h7.90" stroke="#111" stroke-width="1.3"/>
<path d="M191.90 1011.20H219.90" stroke="#d2cc92" stroke-width="1.5"/>
<path d="M205.90 1009.20V1013.20" stroke="#d2cc92" stroke-width="1.2"/>
<circle cx="205.90" cy="1011.20" r="2.00" fill="#d2cc92"/>
<text x="154.17" y="1038.10" class="lg">Δ</text><text x="164.47" y="1041.70" class="sr" style="font-size:13px">dep</text>
<path d="M191.90 1033.20H219.90" stroke="#555555" stroke-width="1.5"/>
<path d="M205.90 1026.40V1040.00M204.30 1026.40h3.2M204.30 1040.00h3.2" stroke="#555555" stroke-width="1.3"/>
<path d="M205.90 1029.90L209.20 1033.20L205.90 1036.50L202.60 1033.20Z" fill="#555555" fill-opacity="0.3" stroke="#555555" stroke-width="1.4"/>
<text x="154.17" y="1061.10" class="lg">Δ</text><text x="164.47" y="1064.70" class="sr" style="font-size:13px">dep</text><path d="M155.57 1048.30h7.90" stroke="#111" stroke-width="1.3"/>
<path d="M191.90 1056.20H219.90" stroke="#8c8c8c" stroke-width="1.5"/>
<path d="M205.90 1054.20V1058.20" stroke="#8c8c8c" stroke-width="1.2"/>
<circle cx="205.90" cy="1056.20" r="2.00" fill="#8c8c8c"/>
<text x="427.45" y="973.70" class="lg it">P</text><text x="437.04" y="973.20" class="lg">′</text><text x="435.44" y="977.10" class="sr" style="font-size:9.5px">Δ</text>
<path d="M453.00 968.30H481.00" stroke="#4a66e2" stroke-width="1.5"/>
<path d="M467.00 961.50V975.10M465.40 961.50h3.2M465.40 975.10h3.2" stroke="#4a66e2" stroke-width="1.3"/>
<rect x="464.70" y="966.00" width="4.60" height="4.60" fill="#4a66e2" fill-opacity="0.3" stroke="#4a66e2" stroke-width="1.5"/>
<text x="427.45" y="994.80" class="lg it">P</text><text x="437.04" y="994.30" class="lg">′</text><text x="435.44" y="998.20" class="sr" style="font-size:9.5px">Δ</text><path d="M430.45 982.00h7.38" stroke="#111" stroke-width="1.3"/>
<path d="M453.00 989.40H481.00" stroke="#22cdd0" stroke-width="1.5"/>
<path d="M467.00 987.40V991.40" stroke="#22cdd0" stroke-width="1.2"/>
<path d="M464.80 987.20L469.20 991.60M464.80 991.60L469.20 987.20" stroke="#22cdd0" stroke-width="1.3"/>
<text x="428.07" y="1016.60" class="lg it">L</text><text x="436.78" y="1016.10" class="lg">′</text><text x="435.18" y="1020.00" class="sr" style="font-size:11.5px">1</text>
<path d="M453.00 1011.20H481.00" stroke="#b33333" stroke-width="1.5"/>
<path d="M467.00 1004.40V1018.00M465.40 1004.40h3.2M465.40 1018.00h3.2" stroke="#b33333" stroke-width="1.3"/>
<rect x="464.70" y="1008.90" width="4.60" height="4.60" fill="#b33333" fill-opacity="0.3" stroke="#b33333" stroke-width="1.5"/>
<text x="428.07" y="1038.60" class="lg it">L</text><text x="436.78" y="1038.10" class="lg">′</text><text x="435.18" y="1042.00" class="sr" style="font-size:11.5px">1</text><path d="M431.07 1025.80h6.51" stroke="#111" stroke-width="1.3"/>
<path d="M453.00 1033.20H481.00" stroke="#b27cf2" stroke-width="1.5"/>
<path d="M467.00 1031.20V1035.20" stroke="#b27cf2" stroke-width="1.2"/>
<path d="M464.80 1031.00L469.20 1035.40M464.80 1035.40L469.20 1031.00" stroke="#b27cf2" stroke-width="1.3"/>
<text x="427.57" y="1061.60" class="lg it">L</text><text x="436.48" y="1065.00" class="sr" style="font-size:11.5px">2</text>
<path d="M453.00 1056.20H481.00" stroke="#1f7a1f" stroke-width="1.5"/>
<path d="M467.00 1049.40V1063.00M465.40 1049.40h3.2M465.40 1063.00h3.2" stroke="#1f7a1f" stroke-width="1.3"/>
<rect x="464.70" y="1053.90" width="4.60" height="4.60" fill="#1f7a1f" fill-opacity="0.3" stroke="#1f7a1f" stroke-width="1.5"/>
<text x="509.87" y="973.20" class="lg it">L</text><text x="518.78" y="976.80" class="sr" style="font-size:11.5px">2</text><path d="M512.87 960.40h6.51" stroke="#111" stroke-width="1.3"/>
<path d="M540.40 968.30H568.40" stroke="#2ee82e" stroke-width="1.5"/>
<path d="M554.40 966.30V970.30" stroke="#2ee82e" stroke-width="1.2"/>
<path d="M552.20 966.10L556.60 970.50M552.20 970.50L556.60 966.10" stroke="#2ee82e" stroke-width="1.3"/>
<text x="500.86" y="994.30" class="lg">Δ</text><text x="511.16" y="997.90" class="sr" style="font-size:13px">max</text>
<path d="M540.40 989.40H568.40" stroke="#cc9222" stroke-width="1.5"/>
<path d="M554.40 982.60V996.20M552.80 982.60h3.2M552.80 996.20h3.2" stroke="#cc9222" stroke-width="1.3"/>
<path d="M554.40 986.10L557.70 989.40L554.40 992.70L551.10 989.40Z" fill="#cc9222" fill-opacity="0.3" stroke="#cc9222" stroke-width="1.4"/>
<text x="500.86" y="1016.10" class="lg">Δ</text><text x="511.16" y="1019.70" class="sr" style="font-size:13px">max</text><path d="M502.26 1003.30h7.90" stroke="#111" stroke-width="1.3"/>
<path d="M540.40 1011.20H568.40" stroke="#d2cc92" stroke-width="1.5"/>
<path d="M554.40 1009.20V1013.20" stroke="#d2cc92" stroke-width="1.2"/>
<circle cx="554.40" cy="1011.20" r="2.00" fill="#d2cc92"/>
<text x="502.67" y="1038.10" class="lg">Δ</text><text x="512.97" y="1041.70" class="sr" style="font-size:13px">dep</text>
<path d="M540.40 1033.20H568.40" stroke="#555555" stroke-width="1.5"/>
<path d="M554.40 1026.40V1040.00M552.80 1026.40h3.2M552.80 1040.00h3.2" stroke="#555555" stroke-width="1.3"/>
<path d="M554.40 1029.90L557.70 1033.20L554.40 1036.50L551.10 1033.20Z" fill="#555555" fill-opacity="0.3" stroke="#555555" stroke-width="1.4"/>
<text x="502.67" y="1061.10" class="lg">Δ</text><text x="512.97" y="1064.70" class="sr" style="font-size:13px">dep</text><path d="M504.07 1048.30h7.90" stroke="#111" stroke-width="1.3"/>
<path d="M540.40 1056.20H568.40" stroke="#8c8c8c" stroke-width="1.5"/>
<path d="M554.40 1054.20V1058.20" stroke="#8c8c8c" stroke-width="1.2"/>
<circle cx="554.40" cy="1056.20" r="2.00" fill="#8c8c8c"/>
</svg>
</body></html>
